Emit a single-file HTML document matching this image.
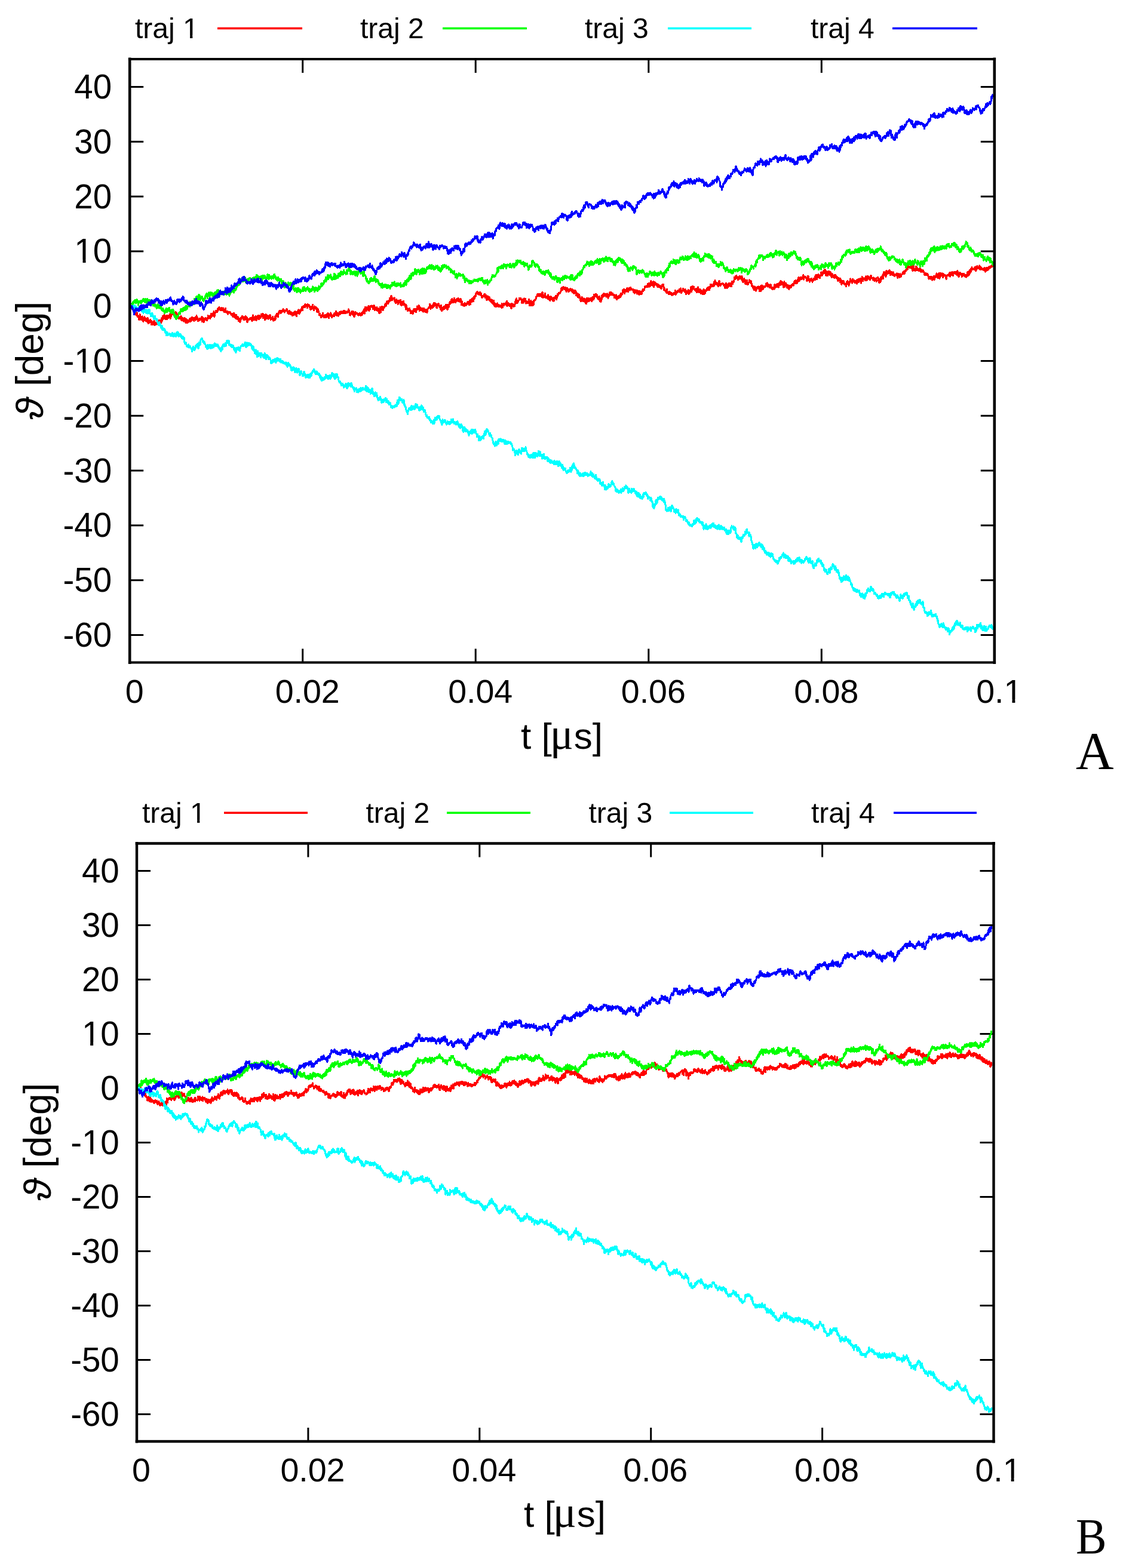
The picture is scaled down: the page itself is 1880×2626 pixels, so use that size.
<!DOCTYPE html>
<html><head><meta charset="utf-8"><title>Trajectories</title>
<style>html,body{margin:0;padding:0;background:#fff;}svg{display:block;}</style>
</head><body>
<svg width="1880" height="2626" viewBox="0 0 1880 2626">
<rect width="1880" height="2626" fill="#fff"/>
<g stroke="#000" fill="none">
<line x1="217.2" y1="145.5" x2="240.2" y2="145.5" stroke-width="3"/>
<line x1="1641.8" y1="145.5" x2="1664.8" y2="145.5" stroke-width="3"/>
<line x1="217.2" y1="237.3" x2="240.2" y2="237.3" stroke-width="3"/>
<line x1="1641.8" y1="237.3" x2="1664.8" y2="237.3" stroke-width="3"/>
<line x1="217.2" y1="329.1" x2="240.2" y2="329.1" stroke-width="3"/>
<line x1="1641.8" y1="329.1" x2="1664.8" y2="329.1" stroke-width="3"/>
<line x1="217.2" y1="420.9" x2="240.2" y2="420.9" stroke-width="3"/>
<line x1="1641.8" y1="420.9" x2="1664.8" y2="420.9" stroke-width="3"/>
<line x1="217.2" y1="604.5" x2="240.2" y2="604.5" stroke-width="3"/>
<line x1="1641.8" y1="604.5" x2="1664.8" y2="604.5" stroke-width="3"/>
<line x1="217.2" y1="696.3" x2="240.2" y2="696.3" stroke-width="3"/>
<line x1="1641.8" y1="696.3" x2="1664.8" y2="696.3" stroke-width="3"/>
<line x1="217.2" y1="788.1" x2="240.2" y2="788.1" stroke-width="3"/>
<line x1="1641.8" y1="788.1" x2="1664.8" y2="788.1" stroke-width="3"/>
<line x1="217.2" y1="879.9" x2="240.2" y2="879.9" stroke-width="3"/>
<line x1="1641.8" y1="879.9" x2="1664.8" y2="879.9" stroke-width="3"/>
<line x1="217.2" y1="971.7" x2="240.2" y2="971.7" stroke-width="3"/>
<line x1="1641.8" y1="971.7" x2="1664.8" y2="971.7" stroke-width="3"/>
<line x1="217.2" y1="1063.5" x2="240.2" y2="1063.5" stroke-width="3"/>
<line x1="1641.8" y1="1063.5" x2="1664.8" y2="1063.5" stroke-width="3"/>
<line x1="506.7" y1="99.0" x2="506.7" y2="122.0" stroke-width="3"/>
<line x1="506.7" y1="1109.5" x2="506.7" y2="1086.5" stroke-width="3"/>
<line x1="796.2" y1="99.0" x2="796.2" y2="122.0" stroke-width="3"/>
<line x1="796.2" y1="1109.5" x2="796.2" y2="1086.5" stroke-width="3"/>
<line x1="1085.8" y1="99.0" x2="1085.8" y2="122.0" stroke-width="3"/>
<line x1="1085.8" y1="1109.5" x2="1085.8" y2="1086.5" stroke-width="3"/>
<line x1="1375.3" y1="99.0" x2="1375.3" y2="122.0" stroke-width="3"/>
<line x1="1375.3" y1="1109.5" x2="1375.3" y2="1086.5" stroke-width="3"/>
</g>
<g fill="none" stroke-linejoin="round" stroke-linecap="butt" shape-rendering="crispEdges" transform="scale(0.1)">
<path d="M2200,5129 l5,34 5,-44 5,64 5,-43 5,37 5,-34 5,23 5,49 5,25 5,-68 5,5 5,38 5,32 5,10 5,4 5,17 5,-40 5,-8 5,10 5,58 5,8 5,-18 5,3 5,1 5,59 5,-24 5,23 5,-45 5,-38 5,28 5,21 5,-17 5,58 5,-26 5,-22 5,10 5,-21 5,44 5,13 5,28 5,-60 5,35 5,-32 5,-18 5,62 5,-35 5,21 5,13 5,8 5,-42 5,46 5,2 5,-4 5,-56 5,56 5,34 5,-31 5,23 5,-41 5,45 5,-9 5,-17 5,8 5,-33 5,24 5,-4 5,58 5,-60 5,24 5,-9 5,39 5,-22 5,26 5,-23 5,15 5,-54 5,42 5,33 5,-6 5,-27 5,6 5,-20 5,33 5,-10 5,-10 5,15 5,-8 5,2 5,-60 5,52 5,-10 5,4 5,9 5,-54 5,28 5,-8 5,-17 5,15 5,24 5,-7 5,-63 5,21 5,-37 5,43 5,-67 5,0 5,49 5,-15 5,-29 5,-30 5,43 5,-7 5,6 5,32 5,-42 5,15 5,-14 5,-16 5,61 5,-30 5,0 5,-15 5,-20 5,44 5,-25 5,-5 5,-1 5,13 5,-49 5,73 5,-1 5,-27 5,-25 5,-17 5,-12 5,-2 5,17 5,-46 5,43 5,-26 5,19 5,1 5,7 5,9 5,2 5,-33 5,-1 5,-15 5,2 5,32 5,-21 5,48 5,2 5,-23 5,7 5,30 5,-18 5,28 5,26 5,-19 5,10 5,-19 5,15 5,6 5,-9 5,-28 5,27 5,43 5,-34 5,29 5,-23 5,-11 5,42 5,0 5,12 5,-28 5,-1 5,-26 5,33 5,16 5,-25 5,60 5,-10 5,-55 5,15 5,51 5,-4 5,-1 5,-3 5,-36 5,-2 5,11 5,11 5,-16 5,-29 5,-4 5,14 5,37 5,-37 5,30 5,-29 5,-36 5,5 5,-7 5,3 5,6 5,31 5,-2 5,12 5,7 5,-48 5,20 5,-23 5,40 5,0 5,-26 5,10 5,-56 5,47 5,6 5,-23 5,13 5,49 5,-28 5,-1 5,0 5,15 5,-31 5,1 5,-3 5,14 5,-11 5,18 5,-9 5,15 5,-60 5,86 5,-33 5,24 5,-52 5,16 5,59 5,-30 5,-7 5,-27 5,20 5,-19 5,-11 5,20 5,-2 5,7 5,14 5,1 5,-46 5,11 5,-7 5,-37 5,45 5,0 5,-6 5,-6 5,-29 5,4 5,41 5,-49 5,0 5,-33 5,18 5,30 5,-9 5,-40 5,15 5,13 5,-14 5,-5 5,-45 5,51 5,37 5,-64 5,-11 5,11 5,-10 5,-29 5,12 5,-11 5,-2 5,27 5,-30 5,8 5,-41 5,-3 5,23 5,-30 5,34 5,-42 5,23 5,20 5,-14 5,-3 5,19 5,-15 5,-24 5,25 5,23 5,-2 5,-33 5,-9 5,20 5,16 5,29 5,-7 5,-29 5,40 5,-6 5,-58 5,39 5,32 5,7 5,-26 5,17 5,-18 5,22 5,26 5,-20 5,-18 5,8 5,-5 5,0 5,0 5,23 5,2 5,-12 5,17 5,9 5,13 5,-1 5,-20 5,-7 5,37 5,18 5,-3 5,-62 5,44 5,-36 5,59 5,-7 5,19 5,-16 5,3 5,35 5,-66 5,30 5,-9 5,53 5,-42 5,-3 5,3 5,15 5,55 5,1 5,-19 5,17 5,-19 5,38 5,-58 5,20 5,-38 5,4 5,2 5,-18 5,-13 5,17 5,-4 5,-3 5,35 5,20 5,-15 5,15 5,-16 5,-12 5,23 5,-60 5,37 5,-22 5,25 5,-20 5,53 5,31 5,-36 5,-20 5,-1 5,3 5,10 5,-10 5,8 5,-21 5,18 5,-25 5,15 5,-17 5,10 5,6 5,28 5,5 5,-7 5,-60 5,-24 5,69 5,-1 5,5 5,-11 5,-25 5,35 5,-9 5,5 5,-55 5,35 5,36 5,-20 5,10 5,-55 5,20 5,3 5,-36 5,-1 5,4 5,61 5,-35 5,-2 5,-24 5,7 5,33 5,-24 5,2 5,-45 5,32 5,-8 5,-31 5,36 5,-35 5,73 5,0 5,-59 5,10 5,3 5,42 5,30 5,-29 5,0 5,-64 5,15 5,14 5,45 5,-9 5,-9 5,-31 5,10 5,30 5,14 5,-26 5,5 5,-2 5,5 5,-48 5,15 5,44 5,20 5,-9 5,-24 5,21 5,4 5,-19 5,-24 5,19 5,51 5,-11 5,2 5,-29 5,9 5,-19 5,31 5,-65 5,52 5,-33 5,-39 5,5 5,-24 5,13 5,7 5,-9 5,41 5,-35 5,-34 5,-10 5,-13 5,-1 5,-10 5,33 5,-20 5,33 5,-43 5,27 5,-4 5,3 5,-27 5,17 5,-21 5,-21 5,36 5,-17 5,-3 5,22 5,14 5,-6 5,-23 5,-1 5,-3 5,11 5,-14 5,-21 5,21 5,13 5,3 5,34 5,-27 5,-1 5,43 5,-9 5,-47 5,30 5,25 5,-32 5,14 5,-16 5,41 5,-21 5,5 5,-7 5,44 5,-43 5,24 5,-35 5,6 5,35 5,-3 5,-43 5,19 5,-28 5,48 5,-13 5,-26 5,61 5,10 5,-72 5,26 5,-33 5,11 5,-7 5,-34 5,22 5,-5 5,53 5,-57 5,41 5,-46 5,4 5,8 5,-32 5,13 5,-18 5,-30 5,31 5,26 5,-35 5,-23 5,-17 5,4 5,-4 5,-2 5,-11 5,34 5,-52 5,28 5,-5 5,-13 5,-2 5,5 5,33 5,18 5,-63 5,20 5,5 5,6 5,-9 5,-7 5,21 5,15 5,12 5,-25 5,52 5,-27 5,-27 5,37 5,8 5,-47 5,23 5,-50 5,54 5,9 5,-4 5,40 5,-24 5,-20 5,-27 5,27 5,-2 5,-2 5,27 5,-4 5,-26 5,10 5,72 5,-24 5,-37 5,39 5,-5 5,15 5,18 5,38 5,-24 5,0 5,17 5,16 5,-2 5,37 5,-31 5,17 5,-35 5,33 5,-23 5,-37 5,39 5,7 5,-3 5,30 5,-19 5,18 5,-39 5,37 5,-19 5,21 5,-39 5,31 5,-35 5,-8 5,14 5,-23 5,-15 5,67 5,-25 5,45 5,-43 5,-17 5,18 5,-24 5,11 5,-33 5,11 5,17 5,39 5,9 5,-16 5,-10 5,-9 5,12 5,8 5,-11 5,-30 5,6 5,27 5,-45 5,4 5,10 5,19 5,-65 5,5 5,16 5,54 5,-47 5,7 5,-5 5,35 5,10 5,-18 5,-4 5,-2 5,-45 5,47 5,-26 5,16 5,-37 5,-6 5,24 5,-9 5,2 5,-1 5,14 5,-29 5,4 5,22 5,-36 5,13 5,-5 5,29 5,-36 5,9 5,29 5,-16 5,8 5,-8 5,1 5,-18 5,27 5,-1 5,-17 5,-18 5,-25 5,15 5,18 5,21 5,45 5,2 5,2 5,-22 5,-15 5,14 5,-25 5,-21 5,25 5,28 5,-19 5,-35 5,35 5,43 5,14 5,-17 5,16 5,-20 5,-45 5,30 5,-40 5,29 5,-16 5,18 5,-6 5,6 5,-8 5,22 5,-10 5,-4 5,23 5,-27 5,-6 5,26 5,-25 5,9 5,17 5,9 5,-14 5,-2 5,-30 5,37 5,-28 5,-20 5,24 5,-20 5,-30 5,8 5,-24 5,-6 5,73 5,-46 5,-62 5,0 5,0 5,40 5,24 5,-28 5,-1 5,-5 5,-20 5,31 5,-34 5,-30 5,37 5,47 5,-30 5,13 5,-27 5,-35 5,11 5,-7 5,-4 5,-4 5,-2 5,22 5,4 5,-17 5,48 5,-5 5,-32 5,-28 5,19 5,50 5,13 5,-49 5,8 5,21 5,-6 5,6 5,19 5,-46 5,54 5,-15 5,-22 5,11 5,32 5,3 5,13 5,27 5,-32 5,-61 5,-16 5,97 5,-23 5,-67 5,24 5,-15 5,-25 5,17 5,-13 5,64 5,-51 5,10 5,-16 5,-5 5,16 5,-25 5,4 5,-45 5,-7 5,44 5,-12 5,-13 5,-45 5,-7 5,6 5,35 5,-38 5,33 5,-31 5,-22 5,16 5,-22 5,-32 5,20 5,25 5,2 5,-24 5,-63 5,5 5,42 5,26 5,-16 5,-8 5,-4 5,10 5,-15 5,4 5,13 5,-21 5,62 5,2 5,-33 5,58 5,-9 5,3 5,-55 5,30 5,-11 5,-2 5,29 5,31 5,-10 5,-35 5,-17 5,37 5,-21 5,11 5,-39 5,3 5,87 5,-4 5,8 5,-61 5,6 5,-8 5,7 5,49 5,-30 5,-33 5,60 5,-5 5,-20 5,12 5,13 5,17 5,26 5,36 5,-75 5,50 5,22 5,-17 5,1 5,45 5,-16 5,-16 5,19 5,-20 5,17 5,-27 5,22 5,20 5,-11 5,49 5,-38 5,10 5,-2 5,3 5,-5 5,4 5,40 5,-53 5,4 5,-26 5,-8 5,14 5,31 5,-41 5,15 5,5 5,-27 5,52 5,-46 5,-3 5,-9 5,-38 5,59 5,-33 5,27 5,-12 5,-2 5,-50 5,68 5,18 5,-58 5,7 5,26 5,17 5,-14 5,15 5,-28 5,6 5,2 5,-12 5,52 5,6 5,-47 5,-10 5,32 5,4 5,-17 5,35 5,-9 5,15 5,-37 5,16 5,-7 5,10 5,26 5,-45 5,-18 5,0 5,-9 5,3 5,-24 5,8 5,-8 5,-44 5,36 5,11 5,29 5,-36 5,-17 5,36 5,-30 5,-7 5,34 5,-10 5,-7 5,3 5,-60 5,9 5,39 5,-20 5,-4 5,-25 5,9 5,30 5,-17 5,-8 5,64 5,4 5,-43 5,1 5,1 5,0 5,-37 5,9 5,27 5,17 5,13 5,-16 5,19 5,-13 5,52 5,-76 5,21 5,75 5,-16 5,-28 5,8 5,-20 5,35 5,-47 5,-5 5,21 5,17 5,-6 5,-36 5,11 5,-31 5,-10 5,21 5,36 5,-59 5,51 5,34 5,-28 5,-55 5,40 5,9 5,-9 5,-54 5,15 5,-38 5,-12 5,33 5,-10 5,0 5,-50 5,37 5,6 5,-64 5,53 5,-11 5,16 5,4 5,-32 5,5 5,-45 5,13 5,15 5,-3 5,45 5,-3 5,-36 5,19 5,-25 5,-12 5,3 5,24 5,3 5,-43 5,49 5,-35 5,27 5,-21 5,17 5,21 5,2 5,-54 5,42 5,14 5,50 5,-68 5,47 5,-2 5,10 5,22 5,-13 5,17 5,-18 5,25 5,-46 5,-5 5,18 5,7 5,0 5,16 5,-34 5,11 5,0 5,1 5,-20 5,-21 5,0 5,24 5,0 5,-2 5,29 5,-44 5,-33 5,13 5,58 5,-54 5,-27 5,34 5,-19 5,25 5,-30 5,-34 5,23 5,-15 5,48 5,-72 5,34 5,-48 5,32 5,-40 5,12 5,2 5,-15 5,-39 5,-13 5,15 5,-10 5,-21 5,3 5,32 5,2 5,-6 5,-6 5,22 5,-19 5,-22 5,1 5,40 5,-21 5,7 5,-5 5,40 5,5 5,23 5,-13 5,-15 5,11 5,-9 5,8 5,-22 5,-10 5,7 5,-19 5,46 5,21 5,-8 5,-37 5,50 5,5 5,26 5,-51 5,15 5,-29 5,24 5,31 5,-14 5,21 5,-43 5,0 5,22 5,13 5,35 5,-32 5,36 5,10 5,6 5,-40 5,8 5,-6 5,60 5,-40 5,39 5,-54 5,76 5,10 5,-52 5,22 5,43 5,-30 5,-7 5,37 5,-33 5,0 5,-11 5,-10 5,25 5,7 5,24 5,-13 5,2 5,-18 5,25 5,-14 5,-7 5,23 5,5 5,-22 5,9 5,23 5,6 5,-68 5,14 5,48 5,-53 5,27 5,-44 5,7 5,26 5,-13 5,-16 5,-2 5,2 5,17 5,-8 5,-24 5,-12 5,-15 5,86 5,-42 5,4 5,27 5,-22 5,-17 5,36 5,-11 5,-3 5,25 5,-7 5,-17 5,15 5,11 5,42 5,-86 5,44 5,0 5,-1 5,-15 5,-13 5,0 5,12 5,25 5,-5 5,0 5,-33 5,-46 5,-2 5,-27 5,33 5,-54 5,31 5,44 5,-17 5,-20 5,25 5,-16 5,-13 5,-6 5,-6 5,-27 5,5 5,10 5,9 5,-9 5,-12 5,24 5,9 5,24 5,18 5,-48 5,-10 5,1 5,14 5,42 5,-54 5,-20 5,12 5,26 5,6 5,-41 5,42 5,38 5,-15 5,-22 5,-4 5,12 5,12 5,12 5,-23 5,15 5,4 5,-56 5,32 5,69 5,-7 5,-22 5,29 5,-34 5,-47 5,54 5,7 5,21 5,-66 5,63 5,-25 5,-22 5,41 5,-73 5,0 5,-7 5,9 5,-16 5,-9 5,9 5,-18 5,-3 5,-37 5,4 5,-12 5,-3 5,-26 5,23 5,-24 5,24 5,-6 5,18 5,-33 5,19 5,10 5,-33 5,10 5,14 5,-26 5,40 5,14 5,-50 5,-31 5,25 5,68 5,-42 5,-7 5,11 5,-5 5,29 5,-41 5,-22 5,72 5,5 5,-8 5,0 5,-14 5,-3 5,32 5,-23 5,37 5,-71 5,60 5,-19 5,39 5,-50 5,4 5,52 5,6 5,-41 5,-27 5,47 5,10 5,-34 5,30 5,8 5,-28 5,44 5,-7 5,10 5,-60 5,53 5,-44 5,-12 5,20 5,-32 5,22 5,-35 5,58 5,3 5,-19 5,-37 5,6 5,-40 5,3 5,7 5,-20 5,-11 5,11 5,-15 5,15 5,-5 5,-18 5,-5 5,-12 5,-34 5,-16 5,-6 5,20 5,12 5,0 5,-40 5,-9 5,32 5,5 5,-4 5,8 5,-10 5,-1 5,-21 5,16 5,6 5,49 5,-47 5,6 5,-17 5,6 5,19 5,28 5,11 5,-42 5,28 5,-3 5,0 5,-6 5,-8 5,-23 5,31 5,4 5,-27 5,23 5,15 5,-38 5,53 5,-40 5,9 5,27 5,-7 5,32 5,-29 5,12 5,-34 5,0 5,33 5,-21 5,71 5,-24 5,27 5,-35 5,22 5,-29 5,66 5,-18 5,-4 5,31 5,-50 5,46 5,-23 5,37 5,28 5,-16 5,40 5,-27 5,-10 5,-32 5,8 5,42 5,-1 5,23 5,-8 5,-35 5,-7 5,44 5,1 5,11 5,-47 5,64 5,-17 5,12 5,19 5,-17 5,-75 5,10 5,47 5,-4 5,-11 5,-47 5,32 5,20 5,-26 5,1 5,14 5,-6 5,-33 5,3 5,27 5,-30 5,56 5,-9 5,-52 5,-13 5,15 5,-3 5,22 5,6 5,-79 5,44 5,-38 5,0 5,24 5,-38 5,-2 5,37 5,2 5,-20 5,-6 5,50 5,-20 5,39 5,4 5,-27 5,-6 5,-3 5,-10 5,63 5,21 5,-37 5,9 5,34 5,-61 5,24 5,-69 5,28 5,-37 5,21 5,9 5,-49 5,6 5,-13 5,38 5,6 5,-21 5,0 5,-14 5,7 5,31 5,10 5,-25 5,3 5,-30 5,31 5,-20 5,62 5,-55 5,5 5,11 5,5 5,-60 5,3 5,36 5,-13 5,-31 5,31 5,-5 5,-13 5,37 5,-25 5,-3 5,6 5,21 5,-8 5,-2 5,-2 5,57 5,1 5,-2 5,-11 5,-14 5,-17 5,-4 5,67 5,11 5,-47 5,6 5,-11 5,31 5,-33 5,23 5,-32 5,29 5,-19 5,-1 5,2 5,-35 5,43 5,-63 5,34 5,-6 5,-3 5,-27 5,2 5,-43 5,-10 5,-10 5,9 5,24 5,-39 5,77 5,-20 5,-29 5,17 5,-33 5,4 5,22 5,-40 5,-3 5,-9 5,18 5,16 5,25 5,-50 5,-4 5,-8 5,10 5,12 5,16 5,-26 5,-22 5,9 5,14 5,7 5,4 5,3 5,-3 5,-6 5,19 5,-15 5,37 5,15 5,-43 5,35 5,21 5,-14 5,-31 5,-5 5,-5 5,8 5,16 5,24 5,15 5,-53 5,1 5,35 5,-29 5,45 5,-20 5,37 5,-41 5,-24 5,14 5,23 5,-2 5,20 5,-37 5,10 5,25 5,-46 5,-14 5,-15 5,26 5,-29 5,15 5,-7 5,4 5,-27 5,-28 5,-9 5,20 5,-9 5,-2 5,-8 5,4 5,-10 5,16 5,4 5,-53 5,37 5,9 5,-42 5,-16 5,34 5,24 5,-3 5,-30 5,0 5,-42 5,-21 5,29 5,40 5,-52 5,30 5,9 5,24 5,-45 5,-30 5,94 5,-18 5,-42 5,5 5,-20 5,5 5,31 5,-26 5,27 5,-3 5,12 5,-17 5,2 5,50 5,-46 5,-3 5,44 5,-27 5,14 5,9 5,9 5,-31 5,31 5,-12 5,27 5,11 5,-27 5,-29 5,-11 5,9 5,11 5,-22 5,-4 5,33 5,63 5,-26 5,-3 5,24 5,6 5,19 5,-19 5,22 5,10 5,8 5,-60 5,48 5,16 5,-14 5,3 5,-2 5,38 5,-26 5,-23 5,43 5,-6 5,-21 5,30 5,1 5,-19 5,-3 5,15 5,29 5,-29 5,0 5,19 5,-23 5,5 5,8 5,-28 5,23 5,4 5,-26 5,-40 5,69 5,-11 5,-3 5,-21 5,-15 5,16 5,-9 5,-4 5,-21 5,14 5,-2 5,-13 5,-14 5,43 5,-6 5,-5 5,-36 5,-16 5,39 5,41 5,-10 5,-15 5,-22 5,5 5,-2 5,-30 5,26 5,12 5,-9 5,-11 5,31 5,-8 5,-36 5,60 5,-6 5,32 5,-34 5,-18 5,8 5,27 5,-30 5,11 5,-33 5,41 5,32 5,-46 5,-21 5,46 5,-29 5,-1 5,-17 5,-29 5,-28 5,82 5,-13 5,-34 5,-42 5,38 5,-14 5,-25 5,38 5,-33 5,40 5,-3 5,21 5,-6 5,-5 5,21 5,-4 5,-32 5,34 5,28 5,-45 5,1 5,-16 5,-27 5,45 5,27 5,17 5,-2 5,-5 5,-48 5,35 5,-18 5,-2 5,58 5,-48 5,3 5,19 5,8 5,31 5,-29 5,26 5,-47 5,-40 5,81 5,-14 5,17 5,-14 5,0 5,-37 5,-11 5,-1 5,12 5,-25 5,-12 5,-2 5,17 5,-38 5,39 5,4 5,-40 5,-6 5,49 5,-52 5,15 5,1 5,-60 5,19 5,-15 5,2 5,27 5,-19 5,7 5,-5 5,2 5,16 5,-46 5,5 5,-29 5,59 5,-72 5,-14 5,12 5,27 5,2 5,9 5,9 5,-27 5,40 5,-17 5,12 5,3 5,28 5,-14 5,-8 5,-72 5,22 5,24 5,31 5,5 5,-2 5,-28 5,4 5,-9 5,1 5,8 5,-18 5,6 5,14 5,-7 5,22 5,5 5,-5 5,-11 5,15 5,49 5,-56 5,-7 5,-23 5,56 5,10 5,21 5,-10 5,-61 5,22 5,18 5,2 5,-59 5,41 5,-41 5,33 5,-2 5,17 5,-47 5,18 5,6 5,30 5,-22 5,-62 5,17 5,27 5,-18 5,-26 5,18 5,-9 5,-29 5,-47 5,11 5,8 5,15 5,-53 5,41 5,-30 5,-21 5,42 5,-18 5,1 5,19 5,22 5,-32 5,29 5,-45 5,3 5,7 5,-19 5,4 5,35 5,-6 5,-13 5,35 5,-52 5,-4 5,72 5,2 5,12 5,16 5,-4 5,-43 5,18 5,-32 5,45 5,9 5,-25 5,63 5,1 5,-31 5,10 5,-41 5,-6 5,25 5,50 5,2 5,-22 5,-14 5,0 5,-1 5,-42 5,35 5,3 5,0 5,-21 5,43 5,-41 5,36 5,17 5,32 5,-10 5,8 5,26 5,-18 5,-1 5,47 5,13 5,-41 5,-17 5,50 5,-17 5,-19 5,59 5,-31 5,5 5,-31 5,17 5,-26 5,10 5,-12 5,-7 5,36 5,7 5,-17 5,51 5,-38 5,-37 5,60 5,-18 5,30 5,-90 5,22 5,-25 5,3 5,41 5,26 5,-35 5,14 5,-13 5,-17 5,16 5,-23 5,8 5,5 5,-3 5,-7 5,-2 5,-52 5,31 5,-17 5,-15 5,55 5,8 5,-25 5,14 5,8 5,-32 5,24 5,25 5,-14 5,-7 5,8 5,-36 5,61 5,-12 5,17 5,8 5,-26 5,-4 5,34 5,-12 5,-15 5,8 5,10 5,4 5,-74 5,25 5,4 5,15 5,-30 5,9 5,13 5,-6 5,-40 5,44 5,0 5,7 5,-27 5,31 5,-66 5,7 5,-20 5,42 5,-31 5,-2 5,-38 5,41 5,16 5,5 5,-4 5,-28 5,9 5,-16 5,45 5,42 5,-58 5,-21 5,-16 5,44 5,43 5,-33 5,-5 5,-24 5,37 5,-21 5,14 5,46 5,-21 5,2 5,-28 5,11 5,51 5,-34 5,43 5,-33 5,-26 5,6 5,2 5,25 5,-34 5,26 5,-13 5,-5 5,-26 5,0 5,0 5,-9 5,20 5,6 5,-25 5,-35 5,13 5,-31 5,43 5,-25 5,-25 5,30 5,0 5,18 5,1 5,-41 5,-14 5,31 5,-49 5,30 5,-60 5,46 5,14 5,-8 5,-22 5,-20 5,1 5,-10 5,-1 5,32 5,-11 5,-9 5,9 5,-25 5,12 5,20 5,-65 5,75 5,-29 5,-2 5,-4 5,-4 5,3 5,-14 5,8 5,20 5,6 5,-2 5,42 5,-12 5,-39 5,-31 5,-1 5,73 5,-32 5,12 5,9 5,39 5,-33 5,9 5,-5 5,-25 5,30 5,-16 5,-14 5,40 5,12 5,-16 5,-6 5,-16 5,11 5,-31 5,6 5,14 5,-2 5,5 5,-69 5,13 5,-16 5,-13 5,39 5,38 5,-25 5,-15 5,2 5,9 5,-56 5,48 5,-6 5,-4 5,29 5,-4 5,-47 5,10 5,-15 5,-41 5,13 5,-17 5,54 5,-7 5,-22 5,-10 5,11 5,-29 5,-26 5,43 5,3 5,-8 5,-57 5,57 5,-9 5,22 5,34 5,-35 5,-35 5,27 5,24 5,19 5,-15 5,-31 5,0 5,-24 5,32 5,-7 5,38 5,-41 5,-17 5,33 5,6 5,16 5,37 5,-58 5,13 5,-3 5,43 5,3 5,4 5,-8 5,-11 5,-15 5,10 5,34 5,-14 5,-39 5,28 5,1 5,-2 5,34 5,-32 5,31 5,12 5,-8 5,43 5,-39 5,-11 5,10 5,29 5,7 5,-7 5,26 5,-55 5,22 5,25 5,42 5,4 5,-29 5,-28 5,9 5,24 5,0 5,-35 5,28 5,30 5,0 5,-17 5,6 5,9 5,13 5,-8 5,35 5,-44 5,-11 5,-31 5,17 5,-21 5,51 5,1 5,-2 5,24 5,-14 5,-46 5,14 5,-35 5,-31 5,45 5,-14 5,9 5,4 5,1 5,25 5,-63 5,-4 5,23 5,-9 5,21 5,10 5,-25 5,14 5,27 5,-11 5,-9 5,9 5,8 5,-31 5,4 5,49 5,-17 5,-51 5,19 5,-22 5,-3 5,51 5,-36 5,-9 5,-5 5,6 5,-25 5,26 5,29 5,26 5,-68 5,2 5,-19 5,-21 5,62 5,11 5,-56 5,6 5,14 5,-12 5,14 5,-7 5,2 5,26 5,-51 5,-16 5,63 5,-20 5,-9 5,27 5,-70 5,2 5,29 5,-21 5,37 5,-15 5,28 5,-16 5,-15 5,37 5,-1 5,-29 5,-45 5,23 5,25 5,-9 5,3 5,9 5,-1 5,24 5,-24 5,-12 5,19 5,-6 5,45 5,-40 5,-7 5,5 5,14 5,3 5,29 5,3 5,-19 5,-20 5,-31 5,17 5,-15 5,53 5,-5 5,-4 5,45 5,-59 5,27 5,-18 5,42 5,-84 5,5 5,27 5,-15 5,11 5,-49 5,18 5,-42 5,66 5,-49 5,-23 5,-42 5,18 5,10 5,9 5,4 5,30 5,13 5,-70 5,-29 5,25 5,20 5,-2 5,7 5,-39 5,4 5,-5 5,28 5,-14 5,-37 5,47 5,-22 5,61 5,-23 5,16 5,-14 5,-32 5,6 5,0 5,40 5,2 5,-28 5,-15 5,36 5,18 5,-24 5,23 5,8 5,-30 5,14 5,0 5,2 5,4 5,2 5,-35 5,19 5,30 5,27 5,-45 5,-23 5,33 5,-1 5,-9 5,40 5,-54 5,-6 5,46 5,-31 5,25 5,-23 5,-6 5,1 5,-23 5,4 5,-23 5,27 5,-17 5,-9 5,-15 5,40 5,-15 5,-10 5,-28 5,10 5,-1 5,-28 5,0 5,-41 5,17 5,26 5,-6 5,-28 5,-34 5,12 5,2 5,3 5,8 5,11 5,-25 5,16 5,4 5,-41 5,-3 5,67 5,-21 5,-30 5,55 5,35 5,-36 5,1 5,-58 5,77 5,0 5,0 5,-16 5,28 5,-28 5,-9 5,-37 5,-2 5,54 5,-3 5,15 5,-19 5,-11 5,17 5,2 5,18 5,-30 5,38 5,-10 5,-33 5,12 5,23 5,-23 5,51 5,-37 5,17 5,-15 5,10 5,1 5,-11 5,27 5,-13 5,8 5,19 5,5 5,35 5,-2 5,5 5,-32 5,-4 5,27 5,-5 5,8 5,2 5,-24 5,32 5,-13 5,20 5,31 5,19 5,-29 5,9 5,10 5,-26 5,36 5,-14 5,-11 5,-11 5,2 5,-7 5,63 5,-39 5,-4 5,3 5,12 5,-5 5,-39 5,68 5,-32 5,3 5,-30 5,15 5,-18 5,6 5,-34 5,-20 5,51 5,-15 5,24 5,16 5,-43 5,22 5,-46 5,-17 5,51 5,42 5,-33 5,-29 5,-29 5,52 5,-40 5,20 5,1 5,-7 5,-19 5,14 5,50 5,-22 5,-34 5,40 5,-31 5,10 5,13 5,0 5,-11 5,3 5,21 5,39 5,0 5,-43 5,-19 5,7 5,-1 5,-3 5,-14 5,14 5,-5 5,-2 5,-36 5,47 5,13 5,-64 5,26 5,-22 5,27 5,13 5,-22 5,-38 5,21 5,4 5,45 5,-39 5,-11 5,8 5,-23 5,14 5,-3 5,23 5,-25 5,-12 5,31 5,-3 5,18 5,9 5,-35 5,-36 5,37 5,12 5,33 5,20 5,-4 5,-62 5,-2 5,27 5,-28 5,25 5,-15 5,23 5,8 5,-6 5,30 5,-53 5,3 5,-1 5,4 5,26 5,-28 5,19 5,2 5,4 5,9 5,15 5,-30 5,23 5,15 5,-3 5,-21 5,-3 5,-29 5,-32 5,35 5,28 5,-28 5,-12 5,-32 5,49 5,-68 5,7 5,17 5,7 5,-52 5,15 5,-2 5,-40 5,29 5,4 5,-9 5,9 5,-6 5,0 5,4 5,5 5,-29 5,-7 5,5 5,-8 5,60 5,-69 5,51 5,-23 5,-5 5,-32 5,20 5,20 5,1 5,-5 5,-17 5,-16 5,-10 5,38 5,-28 5,56 5,-3 5,-38 5,13 5,5 5,2 5,22 5,-19 5,18 5,-11 5,-4 5,12 5,12 5,-35 5,-10 5,14 5,3 5,54 5,-50 5,42 5,-41 5,-19 5,31 5,-12 5,27 5,-32 5,-15 5,17 5,12 5,-36 5,6 5,-15 5,11 5,-7 5,18 5,-24 5,9 5,-21 5,-3 5,-12 5,27 5,-10 5,-11 5,11" stroke="#ff0000" stroke-width="30.0"/>
<path d="M2200,5103 l5,-9 5,-11 5,19 5,14 5,-57 5,-2 5,7 5,12 5,-38 5,-7 5,19 5,-25 5,4 5,21 5,25 5,-15 5,-11 5,-40 5,49 5,8 5,-23 5,31 5,39 5,-43 5,1 5,-11 5,-19 5,26 5,-8 5,12 5,-22 5,-11 5,40 5,-35 5,7 5,-7 5,7 5,-29 5,-1 5,-12 5,-1 5,33 5,9 5,4 5,5 5,11 5,-53 5,-14 5,52 5,-17 5,33 5,-16 5,-33 5,-12 5,52 5,-29 5,30 5,33 5,-52 5,10 5,-31 5,47 5,21 5,-25 5,8 5,12 5,14 5,-49 5,-3 5,28 5,6 5,0 5,42 5,-20 5,-38 5,40 5,8 5,18 5,-39 5,11 5,17 5,3 5,6 5,33 5,-28 5,-7 5,-28 5,8 5,53 5,-56 5,44 5,-20 5,24 5,-41 5,34 5,17 5,-5 5,-3 5,-17 5,17 5,27 5,17 5,3 5,1 5,-31 5,-2 5,17 5,27 5,-9 5,8 5,38 5,-44 5,-1 5,4 5,19 5,-61 5,33 5,-13 5,-21 5,58 5,-37 5,20 5,-38 5,-7 5,34 5,13 5,-53 5,25 5,20 5,29 5,-37 5,41 5,6 5,8 5,-10 5,-26 5,-26 5,29 5,16 5,-45 5,50 5,23 5,-17 5,55 5,-9 5,29 5,-45 5,34 5,0 5,41 5,-56 5,19 5,16 5,-37 5,18 5,-20 5,-1 5,-18 5,-27 5,-1 5,-13 5,12 5,17 5,-31 5,-27 5,-28 5,5 5,41 5,-4 5,4 5,-4 5,8 5,-61 5,17 5,0 5,1 5,-6 5,-26 5,50 5,-13 5,9 5,-55 5,-18 5,67 5,-31 5,8 5,9 5,-38 5,1 5,6 5,-37 5,18 5,-46 5,-3 5,42 5,22 5,-79 5,31 5,-3 5,-14 5,26 5,-17 5,-2 5,-13 5,26 5,-16 5,-10 5,13 5,17 5,-47 5,-44 5,8 5,21 5,29 5,-33 5,12 5,-16 5,-62 5,2 5,13 5,-5 5,4 5,49 5,-32 5,-44 5,-16 5,5 5,4 5,59 5,31 5,-29 5,-28 5,18 5,-13 5,-10 5,-7 5,35 5,-4 5,31 5,-11 5,22 5,6 5,-32 5,-18 5,19 5,-17 5,3 5,-50 5,14 5,9 5,-30 5,-31 5,51 5,-19 5,52 5,-29 5,-2 5,-29 5,-34 5,23 5,34 5,10 5,-50 5,-21 5,17 5,21 5,4 5,-30 5,-9 5,54 5,-11 5,-23 5,4 5,-6 5,47 5,-32 5,10 5,-13 5,-17 5,-21 5,1 5,58 5,-15 5,-35 5,-12 5,-19 5,63 5,-6 5,-17 5,-59 5,44 5,5 5,11 5,-10 5,1 5,11 5,-11 5,-12 5,12 5,-1 5,-5 5,-7 5,43 5,-20 5,14 5,-17 5,-25 5,33 5,-9 5,1 5,-12 5,10 5,-1 5,-47 5,72 5,-20 5,4 5,25 5,-20 5,-13 5,-2 5,3 5,11 5,-20 5,26 5,-23 5,-13 5,64 5,-42 5,-24 5,34 5,-30 5,12 5,-16 5,6 5,-3 5,-8 5,-14 5,5 5,-8 5,-4 5,38 5,2 5,-39 5,-22 5,-5 5,29 5,-16 5,17 5,-7 5,-57 5,14 5,-18 5,-20 5,11 5,1 5,-29 5,-32 5,19 5,30 5,-19 5,-8 5,12 5,-21 5,0 5,-39 5,-24 5,13 5,-8 5,24 5,-2 5,14 5,-3 5,-7 5,-30 5,11 5,6 5,15 5,-38 5,-30 5,51 5,-15 5,21 5,36 5,-18 5,-20 5,-3 5,-11 5,-8 5,20 5,-26 5,52 5,-3 5,-52 5,6 5,-14 5,-3 5,14 5,-1 5,9 5,5 5,25 5,-18 5,-7 5,-14 5,-13 5,11 5,8 5,31 5,-16 5,-46 5,-1 5,12 5,-12 5,20 5,-31 5,9 5,27 5,-66 5,38 5,30 5,12 5,-41 5,-21 5,45 5,-14 5,-17 5,23 5,-15 5,22 5,-32 5,31 5,-11 5,-25 5,28 5,-20 5,54 5,-11 5,-63 5,20 5,-6 5,43 5,-48 5,13 5,-22 5,21 5,-11 5,25 5,18 5,14 5,-39 5,13 5,9 5,-21 5,-36 5,-11 5,68 5,-27 5,-33 5,76 5,-24 5,-48 5,43 5,-14 5,-4 5,5 5,25 5,1 5,6 5,-46 5,34 5,-24 5,-4 5,-5 5,11 5,26 5,-37 5,-34 5,5 5,18 5,22 5,-13 5,48 5,2 5,-13 5,-2 5,16 5,23 5,6 5,-18 5,-40 5,37 5,-20 5,17 5,2 5,24 5,-27 5,-6 5,19 5,13 5,-28 5,25 5,50 5,7 5,-38 5,-20 5,35 5,-31 5,17 5,5 5,44 5,-6 5,51 5,-64 5,19 5,-41 5,32 5,42 5,-20 5,-20 5,26 5,-5 5,-2 5,-5 5,-47 5,6 5,16 5,10 5,13 5,3 5,-8 5,-38 5,6 5,-3 5,17 5,51 5,16 5,-15 5,-7 5,18 5,12 5,-14 5,-45 5,91 5,-20 5,21 5,14 5,-26 5,7 5,-33 5,17 5,-7 5,28 5,38 5,-16 5,-11 5,-46 5,4 5,-8 5,24 5,35 5,-17 5,23 5,-47 5,18 5,46 5,-27 5,9 5,-17 5,4 5,-2 5,-10 5,13 5,-56 5,61 5,-20 5,-35 5,-21 5,64 5,-30 5,26 5,6 5,-35 5,40 5,-22 5,-11 5,-15 5,21 5,-6 5,-32 5,41 5,-26 5,20 5,36 5,-44 5,29 5,28 5,-10 5,-40 5,30 5,-12 5,-12 5,20 5,3 5,-24 5,-21 5,-28 5,3 5,21 5,2 5,30 5,6 5,27 5,-32 5,-28 5,36 5,-49 5,7 5,31 5,-18 5,19 5,-27 5,48 5,-31 5,21 5,-12 5,-29 5,-34 5,56 5,-16 5,-2 5,-18 5,5 5,-5 5,-43 5,-24 5,49 5,-3 5,0 5,-45 5,-1 5,28 5,-22 5,1 5,-46 5,24 5,-10 5,-20 5,-11 5,-3 5,-40 5,69 5,-40 5,3 5,-21 5,-23 5,2 5,-30 5,73 5,-4 5,-42 5,26 5,-10 5,-5 5,-23 5,-10 5,-11 5,21 5,54 5,-19 5,12 5,25 5,-19 5,-4 5,-18 5,27 5,-39 5,-18 5,-34 5,48 5,41 5,-84 5,11 5,39 5,15 5,7 5,-23 5,6 5,14 5,-49 5,20 5,26 5,-74 5,6 5,20 5,-38 5,46 5,7 5,5 5,-23 5,-18 5,-42 5,41 5,11 5,3 5,1 5,-22 5,13 5,-44 5,45 5,-68 5,18 5,31 5,-8 5,5 5,-9 5,10 5,20 5,-25 5,0 5,-42 5,17 5,47 5,-62 5,3 5,-17 5,-20 5,40 5,-18 5,3 5,-10 5,9 5,32 5,48 5,-13 5,-48 5,46 5,1 5,-19 5,-7 5,40 5,-4 5,-6 5,-21 5,6 5,-29 5,20 5,9 5,-17 5,61 5,-42 5,-29 5,22 5,6 5,0 5,50 5,-43 5,-30 5,39 5,-41 5,10 5,0 5,-22 5,9 5,-11 5,-6 5,35 5,23 5,-8 5,-5 5,-4 5,0 5,-7 5,-1 5,-8 5,74 5,-4 5,-57 5,-19 5,41 5,17 5,11 5,6 5,-4 5,55 5,-22 5,13 5,48 5,-38 5,35 5,-4 5,15 5,-11 5,41 5,-6 5,-22 5,5 5,2 5,-61 5,29 5,-3 5,-20 5,-19 5,52 5,-20 5,23 5,-11 5,-10 5,-21 5,34 5,-8 5,-43 5,5 5,-32 5,22 5,58 5,-1 5,19 5,-49 5,7 5,25 5,-13 5,25 5,-31 5,15 5,20 5,-7 5,47 5,-6 5,-11 5,33 5,-25 5,22 5,3 5,15 5,-35 5,57 5,-25 5,0 5,-41 5,75 5,-12 5,-17 5,-17 5,32 5,-6 5,-34 5,27 5,13 5,-27 5,-17 5,4 5,13 5,-1 5,47 5,-52 5,48 5,6 5,-11 5,-49 5,31 5,12 5,-18 5,-15 5,20 5,32 5,-36 5,-17 5,14 5,3 5,-24 5,-14 5,-25 5,51 5,-13 5,-1 5,-10 5,-30 5,18 5,-27 5,-1 5,67 5,-22 5,15 5,-22 5,36 5,-44 5,42 5,-48 5,14 5,-13 5,45 5,-12 5,-34 5,19 5,12 5,0 5,-11 5,16 5,-17 5,-24 5,69 5,-8 5,-10 5,-10 5,-8 5,7 5,11 5,7 5,-21 5,-21 5,-7 5,44 5,-59 5,37 5,-17 5,-48 5,9 5,38 5,23 5,-31 5,-41 5,-18 5,25 5,5 5,-18 5,-27 5,-17 5,49 5,-29 5,-53 5,24 5,-25 5,41 5,19 5,-8 5,-87 5,45 5,-12 5,-5 5,-7 5,-42 5,54 5,-16 5,-8 5,3 5,-13 5,-28 5,-37 5,-18 5,44 5,-9 5,16 5,44 5,-36 5,-5 5,-32 5,17 5,16 5,-1 5,-39 5,6 5,27 5,22 5,25 5,-8 5,-18 5,-14 5,-42 5,22 5,-5 5,19 5,41 5,-101 5,35 5,-34 5,58 5,21 5,13 5,-60 5,-22 5,11 5,28 5,-16 5,51 5,-12 5,-34 5,-25 5,7 5,-39 5,28 5,4 5,-15 5,-21 5,-8 5,33 5,-16 5,13 5,-49 5,8 5,51 5,-22 5,-27 5,60 5,-12 5,-61 5,42 5,-3 5,17 5,11 5,-50 5,9 5,51 5,-38 5,13 5,-11 5,23 5,2 5,-33 5,-21 5,12 5,-2 5,34 5,-11 5,-32 5,62 5,10 5,-38 5,-11 5,51 5,-32 5,-7 5,52 5,12 5,5 5,-8 5,-36 5,-25 5,-33 5,29 5,32 5,-19 5,-56 5,18 5,26 5,-22 5,-15 5,28 5,-36 5,19 5,4 5,-4 5,-6 5,-4 5,54 5,-40 5,23 5,-14 5,1 5,14 5,8 5,-26 5,51 5,-35 5,17 5,-7 5,13 5,23 5,35 5,-13 5,-18 5,-13 5,14 5,10 5,13 5,19 5,-11 5,26 5,-44 5,20 5,-27 5,38 5,18 5,7 5,48 5,-10 5,-41 5,-19 5,53 5,29 5,-15 5,-18 5,1 5,-21 5,-5 5,-26 5,35 5,-18 5,24 5,-38 5,41 5,-30 5,19 5,-10 5,12 5,-11 5,14 5,-11 5,17 5,-30 5,65 5,-17 5,-2 5,-14 5,60 5,-30 5,74 5,-63 5,20 5,-22 5,19 5,-18 5,39 5,-1 5,-1 5,13 5,-9 5,-13 5,-1 5,1 5,58 5,-37 5,3 5,19 5,-3 5,17 5,-45 5,35 5,5 5,-5 5,-16 5,-12 5,14 5,-27 5,11 5,-10 5,7 5,-27 5,6 5,17 5,-11 5,11 5,-8 5,-9 5,5 5,18 5,-11 5,-16 5,-3 5,38 5,-40 5,-2 5,17 5,-6 5,-21 5,10 5,-2 5,18 5,8 5,-19 5,-19 5,6 5,0 5,27 5,-37 5,57 5,-19 5,0 5,38 5,-24 5,43 5,-40 5,-7 5,-6 5,13 5,4 5,29 5,-33 5,-14 5,24 5,-20 5,-12 5,84 5,-31 5,-35 5,20 5,6 5,-1 5,-4 5,-21 5,-14 5,17 5,-18 5,-10 5,10 5,-42 5,-4 5,-21 5,-18 5,6 5,-2 5,20 5,-21 5,14 5,11 5,5 5,-8 5,-1 5,-13 5,-19 5,-7 5,-11 5,-2 5,-31 5,-38 5,-27 5,56 5,12 5,-66 5,3 5,-20 5,23 5,-12 5,-7 5,5 5,14 5,-33 5,39 5,-10 5,-9 5,-34 5,17 5,30 5,-25 5,34 5,-54 5,-22 5,22 5,20 5,-31 5,1 5,7 5,-11 5,33 5,35 5,-21 5,-7 5,-31 5,-11 5,6 5,4 5,-9 5,7 5,12 5,-6 5,33 5,-37 5,-28 5,26 5,11 5,28 5,-7 5,12 5,-34 5,-6 5,-11 5,-2 5,-18 5,12 5,42 5,15 5,-20 5,-41 5,44 5,-47 5,-10 5,-9 5,53 5,-85 5,21 5,39 5,-15 5,-50 5,42 5,-22 5,-20 5,2 5,-1 5,32 5,2 5,-2 5,-4 5,-24 5,35 5,18 5,-29 5,32 5,3 5,4 5,-21 5,-2 5,-23 5,8 5,30 5,42 5,2 5,-52 5,-4 5,34 5,-30 5,31 5,5 5,-11 5,3 5,-27 5,44 5,11 5,-1 5,56 5,-6 5,-16 5,-7 5,-47 5,31 5,-12 5,-24 5,21 5,-7 5,5 5,6 5,-94 5,20 5,-7 5,-25 5,29 5,-5 5,14 5,-4 5,41 5,-21 5,29 5,21 5,6 5,-35 5,12 5,-25 5,-1 5,16 5,0 5,-7 5,36 5,-16 5,30 5,-18 5,47 5,31 5,-34 5,16 5,23 5,-32 5,14 5,44 5,-14 5,12 5,-15 5,31 5,-5 5,-40 5,12 5,-6 5,41 5,-31 5,34 5,15 5,-33 5,-30 5,1 5,-6 5,28 5,-31 5,21 5,-17 5,30 5,-38 5,-2 5,-1 5,61 5,-37 5,13 5,13 5,39 5,-17 5,-28 5,70 5,-48 5,26 5,17 5,-3 5,37 5,-11 5,-15 5,4 5,-10 5,8 5,-11 5,51 5,-2 5,-29 5,-8 5,-5 5,-22 5,11 5,34 5,1 5,56 5,-16 5,-31 5,46 5,-69 5,15 5,28 5,-41 5,32 5,17 5,34 5,-39 5,-28 5,10 5,-22 5,-9 5,24 5,-18 5,43 5,-25 5,-45 5,46 5,-9 5,-18 5,-7 5,32 5,-47 5,-16 5,24 5,-10 5,2 5,30 5,5 5,-42 5,28 5,-7 5,-3 5,10 5,3 5,2 5,-13 5,-9 5,10 5,5 5,2 5,40 5,-28 5,-59 5,35 5,25 5,20 5,-75 5,40 5,20 5,-1 5,25 5,-1 5,12 5,-3 5,-9 5,-46 5,23 5,2 5,-40 5,-2 5,3 5,25 5,1 5,-30 5,-36 5,0 5,20 5,-3 5,-16 5,-20 5,43 5,3 5,-13 5,-56 5,18 5,16 5,19 5,-52 5,27 5,-14 5,-46 5,9 5,-12 5,-27 5,-13 5,-18 5,5 5,18 5,-22 5,-1 5,-21 5,-3 5,11 5,5 5,-16 5,-22 5,-28 5,26 5,25 5,-43 5,5 5,25 5,25 5,13 5,-5 5,-40 5,-30 5,45 5,-33 5,-17 5,58 5,-48 5,15 5,23 5,-36 5,50 5,-16 5,-7 5,11 5,-10 5,1 5,-23 5,-23 5,7 5,23 5,-34 5,33 5,-35 5,38 5,-4 5,-60 5,53 5,-6 5,-25 5,16 5,51 5,-22 5,-42 5,-32 5,68 5,20 5,-10 5,-25 5,-39 5,6 5,-19 5,16 5,10 5,-32 5,18 5,17 5,11 5,10 5,-11 5,-52 5,35 5,-18 5,30 5,-28 5,-38 5,5 5,4 5,55 5,-27 5,7 5,33 5,-25 5,-28 5,6 5,-19 5,3 5,1 5,11 5,23 5,28 5,-25 5,5 5,-12 5,-10 5,45 5,5 5,-15 5,23 5,3 5,-19 5,63 5,-53 5,44 5,-41 5,20 5,32 5,-28 5,-52 5,23 5,-36 5,16 5,32 5,-25 5,-39 5,54 5,-40 5,-18 5,-11 5,17 5,25 5,-2 5,-35 5,15 5,-3 5,43 5,-35 5,6 5,61 5,-54 5,-13 5,34 5,29 5,-41 5,0 5,35 5,-1 5,39 5,-35 5,17 5,-12 5,22 5,12 5,-6 5,35 5,-30 5,16 5,7 5,55 5,17 5,-56 5,62 5,-3 5,-11 5,-17 5,27 5,-38 5,-9 5,-14 5,18 5,-12 5,5 5,20 5,-7 5,24 5,-54 5,-19 5,20 5,-16 5,2 5,28 5,-19 5,15 5,-10 5,15 5,-3 5,35 5,26 5,50 5,-15 5,0 5,-23 5,-29 5,-1 5,-3 5,3 5,22 5,18 5,4 5,-40 5,5 5,22 5,-9 5,4 5,-20 5,40 5,-47 5,-9 5,43 5,-4 5,-23 5,15 5,18 5,7 5,19 5,-16 5,27 5,23 5,0 5,12 5,-23 5,-29 5,-13 5,30 5,-21 5,57 5,-43 5,-7 5,17 5,-13 5,-4 5,-12 5,-33 5,21 5,8 5,-11 5,11 5,37 5,7 5,-49 5,20 5,18 5,-45 5,18 5,-15 5,25 5,29 5,-19 5,-54 5,53 5,3 5,-26 5,32 5,2 5,-21 5,12 5,-23 5,45 5,-16 5,-24 5,-17 5,32 5,0 5,8 5,-32 5,20 5,-31 5,15 5,-34 5,12 5,8 5,17 5,-1 5,18 5,-7 5,18 5,42 5,-47 5,-42 5,11 5,50 5,-16 5,-38 5,-7 5,-29 5,-9 5,31 5,11 5,-41 5,-25 5,-7 5,21 5,-32 5,43 5,-55 5,-14 5,-8 5,-31 5,59 5,-49 5,-24 5,-14 5,6 5,6 5,-30 5,13 5,22 5,7 5,-15 5,11 5,-18 5,-43 5,41 5,-21 5,35 5,8 5,-59 5,26 5,-3 5,51 5,-55 5,43 5,-13 5,-45 5,21 5,2 5,4 5,-18 5,42 5,-8 5,-7 5,5 5,-53 5,-15 5,-19 5,36 5,-8 5,-18 5,26 5,-36 5,-9 5,-5 5,20 5,-9 5,12 5,38 5,-7 5,-1 5,-6 5,-13 5,-21 5,-18 5,55 5,-43 5,7 5,3 5,32 5,11 5,-22 5,-43 5,12 5,12 5,31 5,-10 5,-32 5,1 5,-13 5,15 5,-11 5,35 5,-36 5,-16 5,-2 5,-6 5,5 5,5 5,-24 5,47 5,-39 5,21 5,-58 5,54 5,-27 5,56 5,-66 5,23 5,-26 5,66 5,7 5,1 5,-36 5,12 5,-1 5,19 5,-44 5,25 5,-10 5,50 5,9 5,26 5,-12 5,-13 5,48 5,-19 5,-32 5,21 5,-10 5,13 5,-19 5,-8 5,-19 5,50 5,-52 5,-7 5,-21 5,10 5,-14 5,-34 5,49 5,-4 5,6 5,-13 5,-14 5,-12 5,41 5,-17 5,2 5,14 5,21 5,-64 5,16 5,-5 5,-5 5,13 5,54 5,2 5,-25 5,-2 5,-20 5,13 5,26 5,-27 5,86 5,-17 5,-15 5,45 5,-48 5,62 5,-1 5,-13 5,-6 5,10 5,-4 5,-12 5,31 5,41 5,1 5,-31 5,26 5,-27 5,26 5,20 5,9 5,-53 5,30 5,-33 5,2 5,8 5,2 5,-48 5,21 5,24 5,10 5,-19 5,-31 5,16 5,21 5,-7 5,24 5,11 5,36 5,-11 5,25 5,7 5,-25 5,6 5,50 5,-48 5,13 5,-19 5,-15 5,16 5,12 5,16 5,14 5,25 5,-6 5,-31 5,15 5,-3 5,18 5,4 5,12 5,-51 5,15 5,1 5,5 5,45 5,-12 5,-13 5,-1 5,16 5,-65 5,19 5,-14 5,9 5,-8 5,20 5,9 5,-32 5,5 5,3 5,9 5,-12 5,13 5,18 5,-22 5,-10 5,24 5,-47 5,-11 5,17 5,30 5,-14 5,4 5,-30 5,17 5,-17 5,18 5,60 5,-31 5,5 5,-47 5,13 5,-4 5,34 5,-4 5,-12 5,3 5,26 5,6 5,-42 5,32 5,-28 5,-11 5,14 5,-6 5,5 5,28 5,50 5,-45 5,30 5,-22 5,23 5,-23 5,-28 5,21 5,-36 5,-8 5,-11 5,-12 5,21 5,-62 5,32 5,-6 5,-7 5,9 5,1 5,-1 5,28 5,-37 5,-1 5,-10 5,-11 5,5 5,-21 5,40 5,-53 5,-37 5,9 5,-32 5,44 5,-55 5,0 5,-12 5,-12 5,10 5,5 5,-62 5,45 5,-25 5,-18 5,40 5,-39 5,1 5,13 5,0 5,-6 5,-4 5,22 5,11 5,48 5,-46 5,-14 5,-6 5,10 5,21 5,6 5,-10 5,-9 5,-15 5,-8 5,16 5,-29 5,0 5,35 5,-43 5,10 5,32 5,-24 5,-4 5,16 5,-7 5,6 5,-55 5,-3 5,29 5,-19 5,-10 5,22 5,29 5,-26 5,32 5,16 5,-62 5,7 5,2 5,45 5,-61 5,7 5,17 5,-21 5,-24 5,5 5,-37 5,29 5,27 5,27 5,-27 5,-7 5,2 5,-16 5,-11 5,7 5,30 5,32 5,-70 5,2 5,-7 5,59 5,-28 5,15 5,-17 5,5 5,-23 5,21 5,34 5,-40 5,25 5,-7 5,-24 5,28 5,7 5,44 5,10 5,-58 5,45 5,-26 5,19 5,-32 5,68 5,23 5,-59 5,31 5,-42 5,21 5,25 5,-51 5,-39 5,19 5,38 5,-31 5,31 5,-44 5,-23 5,-10 5,8 5,8 5,13 5,20 5,-20 5,-2 5,-23 5,-4 5,-19 5,34 5,6 5,-1 5,-26 5,26 5,25 5,-14 5,40 5,6 5,29 5,-33 5,16 5,35 5,-16 5,-15 5,36 5,-1 5,6 5,-35 5,16 5,-8 5,-9 5,42 5,7 5,53 5,22 5,-32 5,-4 5,0 5,-33 5,31 5,34 5,-16 5,-23 5,10 5,6 5,-51 5,32 5,-26 5,3 5,25 5,-57 5,30 5,-2 5,6 5,-26 5,-15 5,47 5,-42 5,46 5,-7 5,-8 5,34 5,16 5,10 5,-50 5,3 5,26 5,56 5,-69 5,25 5,49 5,17 5,-28 5,-1 5,35 5,16 5,-35 5,-12 5,35 5,-46 5,-12 5,35 5,-35 5,28 5,3 5,-8 5,-33 5,40 5,-28 5,29 5,12 5,37 5,-36 5,12 5,-3 5,-5 5,-12 5,-20 5,17 5,39 5,-25 5,-6 5,-55 5,27 5,11 5,-23 5,10 5,-13 5,44 5,-10 5,-27 5,-6 5,38 5,-47 5,-30 5,14 5,35 5,7 5,-16 5,-3 5,-6 5,21 5,-9 5,47 5,-27 5,-31 5,-32 5,7 5,47 5,-23 5,3 5,-3 5,-28 5,22 5,-8 5,28 5,58 5,-52 5,5 5,2 5,22 5,-12 5,10 5,-11 5,46 5,-24 5,-3 5,-32 5,-4 5,-8 5,-36 5,54 5,-26 5,-5 5,-12 5,-4 5,-2 5,-17 5,5 5,35 5,1 5,-43 5,25 5,-10 5,-22 5,-13 5,-29 5,46 5,-34 5,-21 5,-42 5,-9 5,6 5,22 5,-25 5,-20 5,11 5,-7 5,-8 5,6 5,18 5,-55 5,19 5,15 5,-67 5,43 5,-12 5,-31 5,15 5,-14 5,-17 5,28 5,1 5,19 5,-12 5,-40 5,36 5,29 5,12 5,-32 5,5 5,14 5,-26 5,20 5,-14 5,-2 5,-6 5,13 5,-12 5,23 5,-17 5,17 5,-33 5,0 5,-30 5,22 5,8 5,-14 5,33 5,1 5,-48 5,28 5,25 5,-7 5,-49 5,-14 5,15 5,49 5,-53 5,26 5,-39 5,-18 5,59 5,-6 5,13 5,-28 5,2 5,-36 5,33 5,14 5,-22 5,19 5,-44 5,24 5,-16 5,22 5,30 5,-5 5,-58 5,14 5,-30 5,72 5,-54 5,10 5,-17 5,58 5,-9 5,-14 5,-44 5,10 5,18 5,-3 5,17 5,-10 5,74 5,-3 5,-15 5,-15 5,17 5,-15 5,-31 5,55 5,3 5,-37 5,9 5,27 5,10 5,17 5,-11 5,-18 5,8 5,-33 5,-14 5,-7 5,31 5,-27 5,43 5,-53 5,-11 5,2 5,40 5,-2 5,-30 5,-4 5,-2 5,17 5,-27 5,5 5,14 5,-49 5,27 5,21 5,29 5,3 5,9 5,-21 5,-7 5,21 5,11 5,20 5,-12 5,-12 5,31 5,-10 5,44 5,-13 5,-14 5,-21 5,9 5,56 5,-11 5,24 5,27 5,-26 5,8 5,44 5,2 5,-39 5,-27 5,45 5,-4 5,9 5,-12 5,-11 5,-18 5,-4 5,-9 5,-7 5,27 5,-24 5,16 5,-17 5,7 5,0 5,16 5,35 5,-10 5,10 5,-18 5,27 5,22 5,-1 5,-26 5,35 5,-45 5,42 5,-9 5,25 5,-13 5,10 5,-40 5,27 5,-41 5,85 5,-19 5,4 5,27 5,-9 5,-46 5,4 5,-12 5,18 5,-51 5,3 5,19 5,31 5,-8 5,32 5,12 5,3 5,-30 5,-2 5,41 5,35 5,-13 5,-9 5,-15 5,-18 5,-24 5,7 5,-6 5,-27 5,61 5,-19 5,-17 5,9 5,-9 5,-38 5,61 5,17 5,-34 5,-25 5,52 5,-40 5,38 5,-63 5,6 5,29 5,-11 5,-7 5,47 5,-55 5,-17 5,8 5,-23 5,32 5,15 5,-4 5,15 5,-5 5,11 5,16 5,10 5,-70 5,7 5,1 5,23 5,0 5,21 5,22 5,9 5,19 5,-79 5,20 5,-35 5,46 5,-17 5,28 5,-11 5,35 5,-35 5,-52 5,43 5,15 5,-23 5,14 5,-29 5,-67 5,25 5,10 5,14 5,-6 5,-15 5,17 5,-71 5,-16 5,18 5,7 5,-6 5,-9 5,-32 5,8 5,-43 5,39 5,-31 5,5 5,-61 5,37 5,-60 5,47 5,-35 5,-12 5,-1 5,47 5,-18 5,16 5,-66 5,1 5,-5 5,37 5,63 5,-63 5,-5 5,41 5,-5 5,3 5,-28 5,-3 5,-31 5,27 5,17 5,14 5,-32 5,8 5,17 5,-39 5,45 5,-26 5,-3 5,-38 5,56 5,-35 5,6 5,20 5,-10 5,-41 5,43 5,-1 5,-2 5,-21 5,-14 5,21 5,17 5,0 5,-36 5,-5 5,15 5,-1 5,32 5,-48 5,-25 5,34 5,0 5,-3 5,-23 5,-22 5,46 5,-45 5,28 5,17 5,17 5,-2 5,-16 5,-3 5,13 5,0 5,-35 5,-16 5,-1 5,16 5,-9 5,-6 5,30 5,-23 5,-27 5,28 5,-29 5,24 5,37 5,-9 5,31 5,-53 5,53 5,-50 5,59 5,21 5,-27 5,3 5,-16 5,38 5,7 5,25 5,-2 5,16 5,5 5,-53 5,27 5,15 5,-12 5,-9 5,-38 5,-7 5,-25 5,36 5,9 5,2 5,-5 5,-45 5,26 5,-37 5,29 5,-17 5,-28 5,-19 5,7 5,-35 5,39 5,0 5,-21 5,4 5,72 5,-5 5,-4 5,-13 5,39 5,22 5,3 5,9 5,4 5,-48 5,-1 5,28 5,-3 5,44 5,-17 5,19 5,1 5,-19 5,-8 5,8 5,8 5,19 5,35 5,7 5,-14 5,33 5,-7 5,-18 5,6 5,-17 5,30 5,-7 5,2 5,15 5,-18 5,-29 5,47 5,-50 5,6 5,-12 5,18 5,-19 5,7 5,22 5,-14 5,25 5,33 5,-23 5,6 5,-14 5,-4 5,-6 5,62 5,33 5,-32 5,-5 5,20 5,-41 5,28 5,4 5,25 5,-17 5,6 5,23 5,-28 5,-28 5,1 5,-22 5,46 5,-29 5,15 5,-3 5,44 5,-52 5,45 5,34 5,-70 5,26 5,39 5,6 5,-20 5,15 5,10 5,-6 5,38 5,-33" stroke="#00ff00" stroke-width="30.0"/>
<path d="M2200,5115 l5,2 5,27 5,10 5,19 5,-29 5,1 5,9 5,-44 5,56 5,-6 5,-46 5,63 5,-37 5,72 5,-17 5,-57 5,38 5,20 5,-20 5,-25 5,18 5,7 5,3 5,31 5,-24 5,-43 5,4 5,-2 5,12 5,-11 5,-3 5,57 5,-2 5,-31 5,52 5,-24 5,17 5,-42 5,22 5,50 5,-15 5,-28 5,-3 5,33 5,-49 5,14 5,15 5,-4 5,22 5,22 5,-60 5,28 5,17 5,-11 5,28 5,-38 5,-3 5,-30 5,55 5,-49 5,16 5,55 5,5 5,-8 5,46 5,-1 5,-2 5,-41 5,-14 5,59 5,-40 5,40 5,4 5,-10 5,5 5,48 5,-14 5,-16 5,-25 5,43 5,-8 5,16 5,11 5,10 5,-3 5,-14 5,33 5,26 5,-7 5,30 5,18 5,-33 5,-1 5,-19 5,51 5,-16 5,20 5,18 5,7 5,20 5,-14 5,19 5,-43 5,72 5,-35 5,27 5,1 5,-13 5,21 5,-14 5,-6 5,22 5,-4 5,46 5,4 5,-24 5,62 5,-19 5,-36 5,47 5,-40 5,36 5,10 5,-17 5,8 5,-14 5,16 5,-25 5,15 5,17 5,15 5,-36 5,15 5,8 5,8 5,-37 5,-16 5,53 5,5 5,10 5,-5 5,-20 5,3 5,-31 5,26 5,10 5,6 5,5 5,3 5,-10 5,-23 5,-41 5,11 5,14 5,-3 5,-25 5,29 5,52 5,-47 5,24 5,3 5,9 5,-9 5,-27 5,47 5,-26 5,34 5,-5 5,23 5,-33 5,2 5,37 5,6 5,-30 5,16 5,-11 5,22 5,60 5,23 5,-7 5,11 5,-29 5,23 5,19 5,4 5,28 5,-3 5,-5 5,9 5,5 5,-43 5,12 5,21 5,18 5,-19 5,-4 5,7 5,21 5,1 5,11 5,-6 5,26 5,28 5,-64 5,12 5,-6 5,-25 5,50 5,0 5,-18 5,31 5,-44 5,15 5,6 5,-50 5,-8 5,23 5,-2 5,-29 5,9 5,-6 5,-25 5,36 5,44 5,-21 5,-23 5,-60 5,52 5,-51 5,43 5,-18 5,-69 5,0 5,-16 5,-5 5,-5 5,10 5,21 5,37 5,-7 5,-3 5,-3 5,36 5,-11 5,-16 5,35 5,0 5,13 5,20 5,23 5,0 5,-17 5,5 5,45 5,-67 5,2 5,-9 5,65 5,-29 5,-8 5,-18 5,-1 5,-14 5,54 5,-29 5,40 5,-17 5,-2 5,-3 5,-41 5,31 5,24 5,-40 5,17 5,0 5,6 5,-46 5,12 5,-27 5,39 5,-30 5,24 5,13 5,-34 5,21 5,16 5,-22 5,-1 5,-7 5,40 5,-20 5,37 5,-15 5,19 5,3 5,26 5,3 5,-14 5,-3 5,39 5,-42 5,-30 5,38 5,7 5,-44 5,-26 5,-1 5,-26 5,14 5,-7 5,34 5,-21 5,-10 5,16 5,-45 5,44 5,9 5,-58 5,-14 5,-19 5,15 5,29 5,-39 5,32 5,-34 5,-3 5,76 5,-11 5,-5 5,5 5,18 5,3 5,-12 5,31 5,-33 5,27 5,15 5,-33 5,1 5,9 5,2 5,15 5,19 5,27 5,14 5,-27 5,-16 5,33 5,26 5,15 5,-20 5,-62 5,4 5,31 5,3 5,-8 5,-34 5,-2 5,6 5,51 5,-13 5,-23 5,41 5,-40 5,-21 5,-17 5,6 5,-13 5,3 5,-6 5,-12 5,19 5,-28 5,5 5,4 5,19 5,-19 5,-8 5,-12 5,33 5,-53 5,54 5,-1 5,29 5,-50 5,41 5,-69 5,37 5,-10 5,-21 5,12 5,32 5,-42 5,-3 5,33 5,-28 5,7 5,-5 5,36 5,2 5,-21 5,8 5,34 5,28 5,11 5,-61 5,12 5,8 5,-1 5,71 5,-29 5,2 5,65 5,-9 5,-19 5,-16 5,-14 5,76 5,-5 5,4 5,42 5,-49 5,-48 5,88 5,-53 5,50 5,-42 5,-1 5,32 5,-23 5,-14 5,26 5,44 5,-48 5,-22 5,45 5,-33 5,9 5,12 5,19 5,11 5,6 5,-31 5,32 5,11 5,-78 5,-2 5,36 5,14 5,0 5,47 5,-70 5,2 5,41 5,-37 5,11 5,-1 5,28 5,31 5,-26 5,17 5,-30 5,35 5,-11 5,11 5,15 5,23 5,31 5,-39 5,4 5,0 5,31 5,-9 5,-52 5,39 5,-15 5,-9 5,-6 5,28 5,-29 5,-18 5,18 5,42 5,7 5,-61 5,25 5,-21 5,-23 5,47 5,-10 5,-8 5,12 5,-30 5,22 5,-12 5,37 5,-43 5,0 5,4 5,16 5,41 5,-6 5,-20 5,-4 5,2 5,26 5,-6 5,20 5,-27 5,5 5,9 5,-1 5,22 5,0 5,-10 5,-4 5,8 5,-17 5,50 5,-49 5,36 5,36 5,-21 5,0 5,-25 5,-18 5,18 5,0 5,33 5,-26 5,25 5,-4 5,19 5,21 5,22 5,19 5,-49 5,43 5,5 5,-50 5,25 5,-4 5,-3 5,-23 5,20 5,38 5,14 5,14 5,-33 5,20 5,-14 5,-46 5,31 5,43 5,4 5,-8 5,-27 5,-20 5,21 5,-31 5,49 5,-16 5,29 5,48 5,-17 5,-49 5,2 5,0 5,-3 5,40 5,1 5,4 5,34 5,-5 5,-29 5,38 5,-47 5,-32 5,45 5,2 5,22 5,-28 5,47 5,16 5,-23 5,6 5,0 5,2 5,6 5,-47 5,36 5,-4 5,26 5,-56 5,9 5,7 5,23 5,16 5,-59 5,-16 5,17 5,27 5,-36 5,-8 5,-7 5,-22 5,-16 5,18 5,-19 5,-9 5,-16 5,45 5,-7 5,-11 5,34 5,13 5,14 5,-21 5,-28 5,47 5,-14 5,-27 5,40 5,-24 5,24 5,-10 5,26 5,-26 5,13 5,30 5,-21 5,53 5,-39 5,61 5,-23 5,-12 5,57 5,-1 5,-42 5,-5 5,10 5,32 5,-16 5,-16 5,19 5,-38 5,18 5,15 5,-38 5,14 5,-55 5,40 5,8 5,1 5,8 5,8 5,-42 5,2 5,50 5,-11 5,-8 5,-36 5,42 5,-47 5,33 5,-9 5,32 5,-63 5,1 5,31 5,-25 5,-44 5,34 5,-17 5,24 5,-11 5,35 5,-46 5,14 5,66 5,-9 5,-27 5,35 5,-68 5,-11 5,68 5,-37 5,21 5,-45 5,31 5,20 5,-7 5,26 5,29 5,24 5,8 5,8 5,-25 5,19 5,18 5,-5 5,19 5,22 5,-36 5,13 5,26 5,-34 5,34 5,-16 5,4 5,46 5,-44 5,10 5,18 5,-19 5,-14 5,28 5,-50 5,61 5,2 5,-6 5,29 5,-33 5,-31 5,12 5,-43 5,47 5,11 5,-40 5,-10 5,6 5,11 5,-10 5,19 5,27 5,-32 5,-25 5,30 5,8 5,30 5,3 5,-1 5,25 5,-28 5,45 5,-18 5,44 5,-39 5,-10 5,4 5,11 5,7 5,-30 5,37 5,33 5,-10 5,-34 5,2 5,46 5,-36 5,11 5,-34 5,12 5,-1 5,30 5,-28 5,2 5,-36 5,24 5,30 5,-11 5,-14 5,-9 5,-10 5,-7 5,18 5,16 5,-15 5,14 5,-2 5,-1 5,3 5,4 5,-48 5,-20 5,57 5,24 5,14 5,-51 5,-27 5,52 5,-39 5,61 5,-11 5,25 5,-36 5,-6 5,-2 5,2 5,39 5,27 5,-7 5,-55 5,51 5,-27 5,-50 5,28 5,65 5,-36 5,17 5,-3 5,42 5,17 5,-21 5,-12 5,18 5,-51 5,11 5,42 5,10 5,-49 5,23 5,54 5,5 5,8 5,30 5,-5 5,-30 5,-6 5,31 5,5 5,-43 5,-11 5,46 5,-17 5,22 5,-4 5,56 5,-9 5,-6 5,7 5,-44 5,30 5,15 5,-14 5,-5 5,-34 5,0 5,12 5,-31 5,-5 5,27 5,46 5,-36 5,-18 5,51 5,-9 5,25 5,-8 5,-22 5,4 5,49 5,-34 5,18 5,-3 5,-7 5,5 5,41 5,19 5,12 5,-29 5,2 5,37 5,6 5,-35 5,1 5,4 5,9 5,-20 5,4 5,18 5,1 5,-9 5,-33 5,8 5,3 5,-7 5,23 5,-13 5,-58 5,-33 5,28 5,38 5,-10 5,-59 5,-12 5,-34 5,2 5,29 5,-9 5,33 5,-10 5,2 5,-14 5,-3 5,20 5,6 5,40 5,-30 5,-8 5,4 5,-18 5,43 5,51 5,-21 5,41 5,7 5,-12 5,53 5,7 5,21 5,-13 5,33 5,-18 5,48 5,-43 5,-4 5,-28 5,-10 5,-16 5,7 5,-4 5,-10 5,14 5,26 5,1 5,-17 5,-62 5,70 5,-41 5,20 5,12 5,-47 5,43 5,-11 5,-14 5,-16 5,48 5,-36 5,3 5,-20 5,-35 5,41 5,-6 5,26 5,-54 5,19 5,30 5,-10 5,1 5,2 5,33 5,21 5,2 5,-37 5,-24 5,27 5,28 5,-27 5,-6 5,-43 5,2 5,36 5,8 5,7 5,27 5,-48 5,32 5,42 5,-8 5,-25 5,0 5,10 5,40 5,-6 5,37 5,22 5,13 5,-23 5,27 5,12 5,-15 5,13 5,8 5,-12 5,28 5,-36 5,25 5,24 5,18 5,-8 5,-5 5,40 5,-12 5,-10 5,2 5,10 5,5 5,26 5,-40 5,3 5,-15 5,-15 5,66 5,-37 5,-9 5,-53 5,10 5,32 5,-49 5,1 5,6 5,29 5,-32 5,-22 5,-2 5,8 5,6 5,-11 5,35 5,-40 5,49 5,15 5,1 5,5 5,22 5,2 5,30 5,12 5,12 5,-49 5,-38 5,39 5,2 5,-13 5,16 5,-31 5,10 5,-15 5,17 5,-14 5,43 5,-2 5,17 5,14 5,-24 5,4 5,-34 5,39 5,3 5,-32 5,0 5,-3 5,18 5,24 5,-26 5,-19 5,28 5,1 5,-27 5,-42 5,22 5,22 5,10 5,-30 5,17 5,-44 5,50 5,15 5,-1 5,13 5,-31 5,5 5,23 5,5 5,-20 5,35 5,-45 5,1 5,26 5,1 5,-37 5,48 5,-18 5,27 5,17 5,-28 5,56 5,-6 5,-9 5,26 5,-45 5,26 5,-50 5,41 5,15 5,-24 5,38 5,-17 5,64 5,3 5,10 5,-70 5,25 5,-33 5,1 5,68 5,-37 5,-7 5,22 5,25 5,-27 5,3 5,11 5,-11 5,29 5,-9 5,32 5,7 5,31 5,-55 5,6 5,14 5,-35 5,0 5,-11 5,19 5,27 5,-63 5,73 5,-54 5,6 5,-27 5,1 5,21 5,29 5,-26 5,21 5,10 5,-25 5,-30 5,35 5,-6 5,35 5,10 5,13 5,35 5,-19 5,-23 5,21 5,5 5,24 5,53 5,-50 5,-25 5,36 5,-13 5,48 5,-1 5,-11 5,-7 5,0 5,-38 5,20 5,-9 5,7 5,-10 5,-26 5,49 5,-39 5,-41 5,-7 5,-36 5,47 5,16 5,-4 5,-35 5,-47 5,25 5,-40 5,47 5,-27 5,-6 5,13 5,10 5,17 5,16 5,24 5,23 5,-24 5,-25 5,42 5,-6 5,-1 5,11 5,31 5,-1 5,3 5,23 5,27 5,33 5,-5 5,25 5,4 5,9 5,-2 5,24 5,-17 5,-8 5,-54 5,53 5,-17 5,34 5,-18 5,-38 5,-17 5,37 5,10 5,-4 5,-80 5,22 5,5 5,-3 5,13 5,-40 5,32 5,3 5,12 5,-38 5,16 5,6 5,14 5,-26 5,19 5,-24 5,36 5,-9 5,-12 5,17 5,41 5,-62 5,44 5,-12 5,-19 5,54 5,-49 5,22 5,6 5,11 5,-37 5,-2 5,37 5,-25 5,9 5,-7 5,3 5,-4 5,19 5,-18 5,14 5,20 5,5 5,-15 5,32 5,-1 5,30 5,52 5,-2 5,-15 5,6 5,-7 5,18 5,37 5,2 5,45 5,-33 5,-11 5,-40 5,7 5,-5 5,19 5,45 5,-13 5,-18 5,38 5,-32 5,-37 5,-22 5,25 5,-8 5,23 5,25 5,-26 5,25 5,12 5,-44 5,-50 5,-1 5,37 5,-38 5,54 5,-11 5,-26 5,23 5,-28 5,38 5,-22 5,11 5,-30 5,-25 5,35 5,18 5,14 5,16 5,29 5,17 5,-7 5,-7 5,17 5,38 5,-31 5,32 5,-35 5,40 5,2 5,-40 5,28 5,-5 5,-33 5,43 5,-32 5,13 5,26 5,-43 5,-35 5,-2 5,83 5,0 5,-75 5,-12 5,85 5,-5 5,-21 5,-62 5,56 5,-23 5,4 5,-15 5,-3 5,45 5,-34 5,-22 5,-32 5,28 5,16 5,42 5,-9 5,-71 5,35 5,45 5,-10 5,0 5,-16 5,32 5,36 5,-26 5,-13 5,28 5,-12 5,-60 5,2 5,42 5,24 5,20 5,-25 5,5 5,13 5,-13 5,-12 5,8 5,17 5,-31 5,36 5,39 5,-32 5,20 5,-35 5,46 5,-4 5,-1 5,26 5,4 5,-46 5,53 5,-46 5,1 5,2 5,36 5,-7 5,6 5,11 5,-27 5,-3 5,43 5,-41 5,-21 5,37 5,0 5,32 5,-34 5,16 5,-4 5,21 5,-56 5,2 5,32 5,-6 5,17 5,43 5,-56 5,41 5,-73 5,73 5,-2 5,-30 5,-7 5,15 5,-2 5,39 5,-10 5,42 5,-39 5,-17 5,17 5,27 5,45 5,-15 5,-29 5,36 5,-19 5,0 5,23 5,-26 5,46 5,2 5,12 5,7 5,16 5,-4 5,-38 5,10 5,-19 5,11 5,17 5,-3 5,-9 5,-13 5,-14 5,-29 5,51 5,5 5,14 5,-65 5,37 5,-34 5,-36 5,29 5,-56 5,32 5,-52 5,-2 5,77 5,-44 5,31 5,6 5,-4 5,19 5,14 5,-6 5,11 5,18 5,-4 5,50 5,-5 5,-44 5,19 5,38 5,-27 5,56 5,-25 5,-14 5,48 5,-29 5,-14 5,34 5,-2 5,12 5,-10 5,6 5,-21 5,-20 5,-5 5,57 5,-52 5,38 5,-9 5,3 5,-5 5,-40 5,5 5,39 5,-10 5,-15 5,-11 5,-2 5,2 5,30 5,19 5,-9 5,-16 5,-2 5,1 5,14 5,-13 5,12 5,0 5,-11 5,-50 5,56 5,-21 5,26 5,13 5,-48 5,20 5,45 5,-27 5,-17 5,14 5,22 5,12 5,13 5,12 5,-37 5,3 5,-28 5,25 5,16 5,38 5,8 5,-16 5,7 5,26 5,-42 5,2 5,3 5,4 5,8 5,-7 5,42 5,37 5,-27 5,10 5,20 5,-16 5,-6 5,52 5,-7 5,-35 5,-25 5,41 5,2 5,24 5,-18 5,38 5,36 5,-77 5,45 5,-14 5,34 5,17 5,-49 5,13 5,24 5,-19 5,-8 5,11 5,-47 5,-25 5,54 5,-9 5,-12 5,-6 5,24 5,-21 5,11 5,-28 5,-34 5,13 5,-2 5,-36 5,51 5,10 5,-26 5,6 5,8 5,25 5,10 5,10 5,14 5,-7 5,34 5,34 5,-26 5,0 5,37 5,-41 5,31 5,10 5,3 5,-28 5,22 5,25 5,-21 5,-7 5,5 5,8 5,6 5,-47 5,-9 5,61 5,-33 5,9 5,-36 5,-15 5,4 5,18 5,24 5,-23 5,6 5,-34 5,-21 5,34 5,-22 5,8 5,-25 5,-18 5,32 5,15 5,7 5,-34 5,22 5,21 5,-3 5,67 5,-20 5,1 5,-54 5,21 5,4 5,28 5,1 5,4 5,-20 5,34 5,-73 5,13 5,-7 5,44 5,-22 5,-4 5,18 5,-37 5,11 5,31 5,-10 5,15 5,-13 5,49 5,-35 5,16 5,33 5,-47 5,52 5,26 5,-29 5,2 5,8 5,20 5,-59 5,42 5,29 5,-8 5,-34 5,58 5,3 5,-36 5,39 5,-19 5,-17 5,25 5,15 5,-40 5,-36 5,48 5,-48 5,-21 5,23 5,-20 5,-2 5,14 5,4 5,-34 5,38 5,-1 5,15 5,-24 5,37 5,-15 5,38 5,23 5,-24 5,4 5,-9 5,7 5,-1 5,10 5,39 5,9 5,-54 5,8 5,32 5,11 5,20 5,0 5,21 5,60 5,14 5,-2 5,-49 5,66 5,-72 5,-2 5,26 5,-6 5,-37 5,-47 5,13 5,5 5,38 5,-32 5,8 5,-53 5,-22 5,22 5,-16 5,21 5,-32 5,17 5,-16 5,27 5,-46 5,0 5,8 5,1 5,36 5,25 5,-10 5,18 5,-9 5,-27 5,16 5,16 5,-32 5,65 5,-35 5,12 5,52 5,4 5,55 5,38 5,-16 5,15 5,17 5,-16 5,13 5,-14 5,-39 5,23 5,28 5,-6 5,2 5,-29 5,-31 5,11 5,36 5,-1 5,27 5,-63 5,-20 5,-18 5,20 5,33 5,-26 5,17 5,2 5,14 5,25 5,25 5,-19 5,-12 5,-7 5,57 5,-40 5,-26 5,13 5,11 5,22 5,1 5,15 5,-15 5,-35 5,45 5,49 5,-3 5,-22 5,21 5,-14 5,39 5,-17 5,21 5,-12 5,1 5,-4 5,12 5,7 5,0 5,-19 5,33 5,30 5,-21 5,-28 5,5 5,5 5,-8 5,15 5,14 5,42 5,-11 5,-4 5,26 5,-26 5,19 5,3 5,35 5,11 5,-11 5,-24 5,46 5,-3 5,19 5,-3 5,-21 5,13 5,-5 5,6 5,19 5,-2 5,-29 5,-12 5,26 5,-24 5,7 5,-24 5,-45 5,64 5,-45 5,5 5,30 5,-15 5,-57 5,55 5,-28 5,-41 5,-7 5,35 5,-7 5,-10 5,26 5,6 5,-31 5,36 5,20 5,-22 5,15 5,-13 5,6 5,12 5,20 5,-15 5,-7 5,-3 5,52 5,-41 5,53 5,-14 5,69 5,-43 5,10 5,-26 5,20 5,-8 5,9 5,28 5,-75 5,30 5,0 5,26 5,32 5,-19 5,-19 5,-17 5,11 5,29 5,-2 5,-40 5,-4 5,21 5,-31 5,6 5,43 5,-41 5,-15 5,2 5,16 5,-37 5,48 5,-28 5,-22 5,-6 5,48 5,17 5,-22 5,14 5,-28 5,35 5,25 5,-39 5,27 5,-5 5,21 5,4 5,-51 5,55 5,-3 5,-15 5,3 5,-57 5,10 5,44 5,20 5,-17 5,-7 5,-28 5,-10 5,60 5,-39 5,-7 5,25 5,2 5,5 5,20 5,1 5,-37 5,30 5,-31 5,29 5,24 5,-8 5,-9 5,1 5,-5 5,67 5,9 5,-13 5,23 5,-23 5,-45 5,24 5,40 5,1 5,-58 5,-4 5,42 5,-23 5,-22 5,43 5,-51 5,-36 5,4 5,-34 5,24 5,8 5,-8 5,22 5,7 5,-49 5,19 5,51 5,-15 5,-3 5,-28 5,10 5,27 5,66 5,-6 5,20 5,3 5,50 5,1 5,9 5,-47 5,58 5,-23 5,21 5,-19 5,8 5,-14 5,42 5,-2 5,-6 5,-7 5,53 5,-71 5,-14 5,-7 5,32 5,-31 5,-4 5,-28 5,-4 5,5 5,15 5,-6 5,-5 5,-60 5,0 5,45 5,-57 5,-15 5,-14 5,4 5,61 5,-13 5,10 5,-8 5,3 5,49 5,15 5,-61 5,20 5,27 5,18 5,-22 5,34 5,-2 5,61 5,8 5,22 5,35 5,-16 5,64 5,13 5,9 5,-55 5,34 5,-51 5,33 5,17 5,3 5,12 5,-59 5,-20 5,42 5,-19 5,35 5,2 5,-38 5,-27 5,15 5,19 5,4 5,-59 5,53 5,-11 5,-6 5,7 5,26 5,0 5,21 5,-54 5,37 5,31 5,16 5,-63 5,32 5,36 5,-36 5,3 5,38 5,26 5,23 5,-8 5,4 5,-26 5,37 5,-1 5,27 5,-35 5,20 5,-21 5,27 5,-4 5,16 5,14 5,-51 5,53 5,9 5,-9 5,0 5,21 5,-29 5,-36 5,31 5,-11 5,15 5,-26 5,33 5,20 5,8 5,31 5,3 5,-5 5,4 5,26 5,-4 5,-9 5,29 5,-25 5,19 5,6 5,-16 5,35 5,5 5,6 5,-2 5,-46 5,3 5,9 5,-59 5,26 5,-20 5,10 5,-27 5,-6 5,18 5,-14 5,-3 5,-8 5,-27 5,11 5,0 5,-30 5,-16 5,14 5,64 5,-24 5,-9 5,-24 5,57 5,-29 5,38 5,-18 5,-6 5,-23 5,49 5,-29 5,16 5,-4 5,-14 5,78 5,-41 5,23 5,-9 5,-21 5,24 5,32 5,-11 5,-16 5,60 5,-14 5,-23 5,10 5,8 5,-13 5,-5 5,18 5,-19 5,51 5,-50 5,5 5,33 5,-7 5,-41 5,14 5,-31 5,35 5,-20 5,-8 5,23 5,-57 5,41 5,-17 5,19 5,-20 5,-29 5,-8 5,72 5,-7 5,-21 5,27 5,-29 5,19 5,40 5,-63 5,27 5,-4 5,18 5,2 5,-14 5,25 5,-19 5,-10 5,3 5,-1 5,-5 5,-41 5,18 5,-28 5,0 5,-14 5,8 5,12 5,25 5,-6 5,10 5,34 5,-55 5,73 5,-14 5,4 5,-41 5,-29 5,26 5,19 5,5 5,35 5,-12 5,7 5,-18 5,-20 5,44 5,53 5,23 5,-26 5,31 5,-28 5,-27 5,4 5,-31 5,27 5,6 5,10 5,-24 5,-5 5,-61 5,17 5,-12 5,12 5,-42 5,-5 5,-4 5,59 5,-13 5,-1 5,-14 5,19 5,-19 5,3 5,2 5,56 5,4 5,0 5,-19 5,57 5,-29 5,-3 5,16 5,29 5,27 5,30 5,-19 5,32 5,8 5,-46 5,10 5,21 5,-20 5,28 5,34 5,-2 5,14 5,-28 5,-10 5,9 5,-49 5,-13 5,8 5,67 5,-49 5,-32 5,12 5,-32 5,29 5,8 5,-4 5,-43 5,4 5,-45 5,4 5,-1 5,26 5,-6 5,22 5,39 5,-33 5,46 5,-61 5,21 5,3 5,34 5,36 5,-29 5,5 5,11 5,-20 5,50 5,-34 5,24 5,12 5,48 5,37 5,13 5,-6 5,23 5,-37 5,53 5,20 5,-46 5,37 5,-20 5,-45 5,38 5,11 5,-17 5,-57 5,49 5,-16 5,-20 5,11 5,45 5,-68 5,4 5,-19 5,49 5,-34 5,14 5,50 5,-24 5,-35 5,30 5,8 5,29 5,-50 5,18 5,23 5,8 5,9 5,18 5,33 5,16 5,-25 5,14 5,19 5,31 5,3 5,16 5,1 5,29 5,-39 5,7 5,42 5,4 5,-16 5,25 5,-40 5,41 5,-35 5,44 5,-1 5,-26 5,-13 5,29 5,-15 5,18 5,0 5,-18 5,-4 5,53 5,29 5,-41 5,44 5,-8 5,28 5,-17 5,21 5,-25 5,-32 5,47 5,-38 5,47 5,23 5,-6 5,-45 5,44 5,16 5,-23 5,-16 5,-53 5,40 5,-28 5,-17 5,2 5,-12 5,-47 5,18 5,-33 5,-4 5,41 5,-23 5,8 5,27 5,-31 5,-8 5,36 5,-55 5,-27 5,8 5,47 5,-3 5,-22 5,9 5,32 5,-29 5,11 5,5 5,25 5,41 5,-2 5,-14 5,-9 5,30 5,6 5,-1 5,10 5,-13 5,35 5,-23 5,14 5,33 5,-18 5,10 5,18 5,-38 5,-4 5,34 5,-44 5,24 5,9 5,-34 5,44 5,-42 5,-11 5,-14 5,15 5,-21 5,5 5,47 5,-25 5,28 5,-27 5,-29 5,14 5,-32 5,5 5,12 5,-3 5,19 5,-9 5,-4 5,14 5,-1 5,10 5,0 5,-25 5,40 5,-15 5,-20 5,27 5,33 5,-14 5,16 5,-20 5,-57 5,-9 5,39 5,-37 5,-1 5,7 5,-16 5,14 5,-7 5,26 5,-31 5,49 5,-5 5,2 5,8 5,-20 5,44 5,-5 5,-12 5,41 5,-38 5,-7 5,-4 5,35 5,-4 5,-1 5,20 5,-7 5,17 5,40 5,-32 5,-13 5,-6 5,-62 5,52 5,10 5,-19 5,-4 5,13 5,23 5,-36 5,-32 5,2 5,5 5,-22 5,36 5,-39 5,-11 5,0 5,8 5,-12 5,27 5,-7 5,-25 5,41 5,-4 5,58 5,-27 5,6 5,14 5,-31 5,73 5,5 5,12 5,-13 5,39 5,-19 5,48 5,12 5,-14 5,1 5,50 5,-44 5,-30 5,15 5,53 5,6 5,28 5,11 5,-51 5,-11 5,-13 5,-17 5,41 5,-51 5,12 5,-44 5,54 5,-17 5,-50 5,23 5,-37 5,48 5,-29 5,-23 5,32 5,-11 5,-27 5,59 5,9 5,-20 5,1 5,-1 5,21 5,14 5,-19 5,2 5,-33 5,76 5,26 5,-7 5,4 5,18 5,41 5,3 5,29 5,-12 5,-8 5,4 5,25 5,-10 5,7 5,44 5,1 5,-25 5,-25 5,-12 5,41 5,-48 5,36 5,4 5,-12 5,-5 5,14 5,-60 5,23 5,62 5,-27 5,45 5,-14 5,3 5,8 5,-17 5,-7 5,-8 5,5 5,17 5,-23 5,17 5,-17 5,-11 5,30 5,16 5,4 5,-9 5,48 5,-5 5,43 5,-17 5,54 5,16 5,0 5,25 5,21 5,-24 5,-17 5,-6 5,4 5,0 5,-21 5,37 5,13 5,-10 5,21 5,5 5,-59 5,-14 5,22 5,24 5,17 5,-1 5,23 5,6 5,-23 5,41 5,-8 5,-6 5,6 5,-18 5,10 5,45 5,-21 5,-34 5,43 5,-29 5,33 5,59 5,-44 5,-7 5,-14 5,33 5,-10 5,-24 5,-7 5,13 5,-36 5,-20 5,42 5,-47 5,44 5,-52 5,37 5,-65 5,13 5,3 5,-52 5,45 5,-1 5,-61 5,0 5,14 5,-38 5,30 5,42 5,-46 5,20 5,13 5,9 5,-6 5,25 5,-5 5,-46 5,6 5,43 5,16 5,12 5,-32 5,14 5,23 5,-39 5,38 5,29 5,-9 5,1 5,8 5,4 5,-23 5,18 5,-15 5,-8 5,28 5,-18 5,-21 5,6 5,14 5,2 5,50 5,-52 5,-17 5,4 5,42 5,-13 5,-5 5,-3 5,18 5,-19 5,-23 5,13 5,45 5,-29 5,-10 5,-12 5,12 5,-16 5,-16 5,-1 5,22 5,-5 5,20 5,-5 5,17 5,7 5,40 5,-64 5,-8 5,59 5,-38 5,-17 5,-57 5,19 5,45 5,-52 5,23 5,-23 5,-12 5,16 5,11 5,-25 5,-9 5,38 5,-58 5,45 5,48 5,-53 5,14 5,23 5,29 5,14 5,0 5,-55 5,2 5,25 5,-47 5,75 5,-13 5,25 5,-37 5,6 5,-41 5,38 5,30 5,-32 5,9 5,4 5,-17 5,11 5,-37 5,-9 5,6 5,-17 5,-9 5,18 5,1 5,-18 5,33 5,-29 5,13 5,-23 5,37 5,20 5,7 5,0 5,-38" stroke="#00ffff" stroke-width="30.0"/>
<path d="M2200,5175 l5,-53 5,13 5,32 5,-14 5,37 5,11 5,2 5,26 5,39 5,-14 5,-29 5,-18 5,-8 5,-26 5,-11 5,40 5,-8 5,-16 5,8 5,13 5,3 5,-3 5,-27 5,12 5,28 5,-31 5,-16 5,-29 5,-9 5,65 5,-10 5,-62 5,-13 5,4 5,72 5,-25 5,-17 5,6 5,-37 5,51 5,8 5,-32 5,-3 5,7 5,-26 5,20 5,13 5,-39 5,33 5,-42 5,25 5,-26 5,47 5,-23 5,-16 5,-30 5,-15 5,46 5,-5 5,-15 5,-12 5,5 5,-22 5,61 5,-6 5,-46 5,8 5,-54 5,47 5,-10 5,9 5,10 5,-30 5,8 5,21 5,-46 5,-8 5,33 5,-34 5,-8 5,39 5,-26 5,-10 5,-22 5,33 5,-29 5,21 5,17 5,-6 5,-25 5,65 5,-24 5,-9 5,-3 5,16 5,41 5,19 5,-42 5,-16 5,-9 5,46 5,15 5,9 5,-21 5,-45 5,23 5,-5 5,-31 5,50 5,-9 5,14 5,-21 5,-2 5,-18 5,-22 5,4 5,-5 5,48 5,-4 5,-33 5,2 5,9 5,-35 5,15 5,8 5,-17 5,3 5,-5 5,8 5,-43 5,-2 5,21 5,33 5,8 5,-10 5,2 5,8 5,18 5,24 5,17 5,-26 5,-15 5,-7 5,-17 5,43 5,3 5,-20 5,1 5,3 5,32 5,-16 5,-29 5,16 5,-58 5,26 5,-2 5,12 5,-36 5,1 5,32 5,17 5,-1 5,-45 5,1 5,7 5,19 5,-13 5,-29 5,-5 5,-15 5,36 5,-48 5,38 5,-31 5,3 5,58 5,-6 5,15 5,5 5,-6 5,19 5,-28 5,19 5,19 5,-23 5,-14 5,42 5,-14 5,32 5,-34 5,33 5,-21 5,7 5,-1 5,40 5,-49 5,31 5,-1 5,18 5,-11 5,-43 5,52 5,-59 5,-18 5,46 5,-15 5,-8 5,7 5,-6 5,18 5,-19 5,-34 5,58 5,-32 5,29 5,-51 5,-27 5,34 5,43 5,-22 5,-18 5,12 5,9 5,20 5,-35 5,25 5,15 5,-33 5,63 5,-3 5,11 5,-31 5,-15 5,-13 5,30 5,9 5,-13 5,5 5,32 5,36 5,11 5,8 5,-43 5,14 5,-5 5,-16 5,-38 5,25 5,-79 5,-11 5,20 5,33 5,-11 5,-23 5,24 5,-19 5,0 5,-25 5,37 5,-35 5,-23 5,8 5,-28 5,74 5,-38 5,18 5,25 5,-47 5,-10 5,-14 5,32 5,-41 5,37 5,-9 5,18 5,-27 5,-41 5,42 5,-14 5,-27 5,25 5,-43 5,20 5,-24 5,23 5,16 5,-41 5,41 5,-59 5,18 5,-25 5,24 5,36 5,-2 5,-94 5,54 5,-68 5,-2 5,47 5,-19 5,-2 5,0 5,35 5,-30 5,14 5,-33 5,36 5,1 5,19 5,-39 5,-5 5,-3 5,4 5,1 5,-68 5,13 5,16 5,-7 5,68 5,-65 5,-38 5,34 5,39 5,-21 5,35 5,-41 5,-31 5,29 5,29 5,-11 5,-4 5,11 5,-66 5,-2 5,-36 5,14 5,57 5,-28 5,-5 5,7 5,-5 5,-3 5,12 5,-54 5,12 5,-40 5,46 5,-40 5,8 5,-2 5,-3 5,25 5,-33 5,-1 5,-3 5,4 5,-19 5,-11 5,-36 5,7 5,11 5,-32 5,22 5,62 5,-43 5,-10 5,18 5,-11 5,-9 5,-1 5,-43 5,-7 5,59 5,-52 5,-11 5,58 5,-30 5,-31 5,61 5,-25 5,19 5,-10 5,-1 5,22 5,38 5,-21 5,-10 5,3 5,38 5,-9 5,-16 5,-5 5,5 5,9 5,2 5,-3 5,16 5,-20 5,-21 5,4 5,-13 5,-27 5,66 5,-44 5,13 5,18 5,28 5,-2 5,-32 5,-27 5,-18 5,18 5,29 5,-13 5,-13 5,17 5,-4 5,3 5,-15 5,-20 5,45 5,-20 5,-25 5,-16 5,64 5,-25 5,31 5,-12 5,-14 5,22 5,-9 5,2 5,-44 5,34 5,37 5,-25 5,-9 5,17 5,45 5,1 5,-21 5,11 5,-36 5,7 5,25 5,8 5,-63 5,55 5,-25 5,-43 5,29 5,-11 5,-14 5,52 5,-39 5,28 5,-5 5,34 5,21 5,11 5,-57 5,-1 5,-2 5,42 5,16 5,-19 5,-17 5,-30 5,31 5,-16 5,12 5,24 5,11 5,-4 5,11 5,-35 5,17 5,4 5,9 5,-16 5,-11 5,34 5,12 5,-43 5,70 5,-40 5,-26 5,12 5,0 5,28 5,-48 5,31 5,-20 5,-13 5,-37 5,37 5,12 5,-5 5,8 5,31 5,-12 5,22 5,-49 5,16 5,-15 5,33 5,-24 5,3 5,-49 5,30 5,12 5,-7 5,-28 5,22 5,6 5,19 5,-13 5,-10 5,1 5,43 5,-40 5,40 5,-19 5,36 5,-29 5,27 5,8 5,48 5,-6 5,2 5,2 5,-64 5,17 5,27 5,-39 5,-25 5,-27 5,-8 5,-6 5,-5 5,-15 5,23 5,-44 5,36 5,-21 5,24 5,-4 5,-21 5,-13 5,-41 5,72 5,-18 5,11 5,-27 5,-23 5,-11 5,31 5,6 5,14 5,-45 5,-2 5,6 5,24 5,-8 5,6 5,-39 5,2 5,46 5,-20 5,-45 5,13 5,2 5,1 5,-26 5,22 5,-19 5,3 5,4 5,8 5,12 5,30 5,-63 5,58 5,-29 5,5 5,-6 5,47 5,-35 5,-12 5,36 5,-25 5,-17 5,23 5,-15 5,-24 5,-33 5,22 5,15 5,12 5,-16 5,-5 5,9 5,18 5,-32 5,-24 5,-25 5,11 5,-9 5,-11 5,-8 5,32 5,-26 5,42 5,-80 5,35 5,21 5,-32 5,10 5,6 5,-53 5,52 5,-47 5,32 5,12 5,-29 5,33 5,-17 5,3 5,33 5,-45 5,6 5,21 5,-12 5,-7 5,5 5,-19 5,9 5,-6 5,4 5,-50 5,1 5,-4 5,27 5,12 5,-34 5,-36 5,8 5,17 5,-77 5,8 5,-34 5,44 5,-7 5,-23 5,-16 5,53 5,-23 5,-27 5,51 5,10 5,-43 5,13 5,-3 5,19 5,26 5,-56 5,20 5,-17 5,14 5,1 5,-25 5,41 5,-4 5,0 5,-8 5,6 5,-9 5,-19 5,17 5,15 5,7 5,-4 5,-31 5,30 5,16 5,2 5,8 5,-21 5,29 5,9 5,-38 5,24 5,-22 5,7 5,-11 5,2 5,32 5,1 5,-53 5,-10 5,-21 5,21 5,9 5,32 5,-40 5,21 5,-1 5,-12 5,2 5,15 5,-26 5,11 5,-46 5,15 5,43 5,7 5,-11 5,38 5,2 5,-23 5,-29 5,28 5,-35 5,34 5,-33 5,22 5,-33 5,60 5,-37 5,40 5,-35 5,40 5,-33 5,-34 5,63 5,5 5,-18 5,-23 5,-27 5,58 5,-27 5,5 5,15 5,7 5,-47 5,19 5,-5 5,0 5,11 5,36 5,-3 5,11 5,-27 5,29 5,15 5,-12 5,12 5,10 5,-10 5,-6 5,-6 5,-9 5,19 5,-15 5,-8 5,63 5,-38 5,-11 5,37 5,-23 5,5 5,-1 5,-24 5,11 5,15 5,-15 5,-30 5,4 5,18 5,31 5,-25 5,24 5,-3 5,-23 5,-38 5,3 5,-2 5,5 5,-1 5,-13 5,-11 5,27 5,-16 5,24 5,-2 5,4 5,2 5,-57 5,-8 5,54 5,9 5,1 5,-4 5,-11 5,26 5,-43 5,51 5,-6 5,-1 5,35 5,-29 5,13 5,14 5,26 5,-23 5,39 5,5 5,27 5,-61 5,36 5,-35 5,-16 5,-33 5,3 5,1 5,17 5,-2 5,-45 5,-1 5,22 5,-22 5,31 5,-73 5,-17 5,7 5,49 5,7 5,-25 5,8 5,-10 5,-13 5,-2 5,-32 5,0 5,20 5,6 5,-46 5,50 5,-1 5,-17 5,-53 5,23 5,28 5,2 5,-76 5,22 5,2 5,-1 5,-17 5,44 5,-18 5,-13 5,-30 5,46 5,-26 5,-3 5,20 5,14 5,27 5,-8 5,17 5,-26 5,18 5,-18 5,12 5,-15 5,13 5,4 5,-9 5,-37 5,18 5,3 5,-26 5,4 5,-43 5,7 5,-12 5,65 5,-6 5,-29 5,12 5,-49 5,42 5,-14 5,-24 5,13 5,-13 5,-40 5,3 5,4 5,27 5,-2 5,-28 5,36 5,-72 5,12 5,7 5,13 5,22 5,3 5,23 5,-33 5,-30 5,10 5,-10 5,31 5,39 5,-14 5,39 5,-48 5,-18 5,14 5,-9 5,15 5,-30 5,-31 5,28 5,-48 5,-16 5,-6 5,17 5,-41 5,-17 5,10 5,-19 5,-15 5,9 5,33 5,-31 5,-6 5,17 5,-17 5,-24 5,-10 5,-31 5,10 5,-2 5,23 5,13 5,-6 5,16 5,-8 5,-5 5,-11 5,53 5,-29 5,-19 5,31 5,-17 5,28 5,-17 5,25 5,-31 5,-12 5,8 5,21 5,-39 5,77 5,-22 5,46 5,-20 5,-26 5,2 5,36 5,-6 5,-25 5,-13 5,-4 5,16 5,-11 5,-18 5,7 5,-4 5,8 5,27 5,-51 5,31 5,-56 5,12 5,13 5,27 5,-54 5,61 5,-52 5,-44 5,21 5,38 5,35 5,-53 5,44 5,-27 5,19 5,-38 5,-5 5,35 5,-1 5,-7 5,35 5,-20 5,62 5,-78 5,13 5,49 5,-15 5,-55 5,14 5,28 5,-9 5,37 5,-17 5,-37 5,15 5,-25 5,10 5,19 5,6 5,-1 5,10 5,-2 5,12 5,14 5,-43 5,-20 5,33 5,-5 5,-10 5,-10 5,8 5,0 5,-20 5,0 5,10 5,12 5,9 5,22 5,-36 5,11 5,6 5,-3 5,-12 5,29 5,-1 5,-18 5,11 5,-17 5,22 5,43 5,-27 5,76 5,-16 5,0 5,29 5,-62 5,40 5,-43 5,-6 5,49 5,-58 5,56 5,-19 5,-27 5,-6 5,11 5,-39 5,6 5,2 5,17 5,-5 5,25 5,-50 5,-25 5,29 5,-16 5,-26 5,24 5,-6 5,39 5,-32 5,-25 5,23 5,-12 5,51 5,-12 5,-43 5,2 5,31 5,10 5,-6 5,24 5,17 5,-24 5,26 5,28 5,36 5,12 5,-17 5,-5 5,-2 5,-36 5,4 5,-19 5,-34 5,13 5,35 5,-3 5,-61 5,-60 5,44 5,-10 5,-12 5,-34 5,8 5,33 5,-26 5,-15 5,-2 5,18 5,-17 5,-17 5,3 5,30 5,-23 5,0 5,-12 5,30 5,-33 5,19 5,-11 5,-41 5,40 5,-40 5,15 5,-32 5,36 5,-26 5,-10 5,6 5,-6 5,-29 5,-17 5,37 5,-5 5,-27 5,27 5,8 5,-44 5,28 5,-29 5,56 5,34 5,-32 5,12 5,39 5,-24 5,13 5,7 5,-18 5,31 5,-42 5,-23 5,17 5,-12 5,-31 5,-14 5,20 5,31 5,-16 5,-20 5,10 5,-18 5,-9 5,-20 5,-23 5,11 5,35 5,-42 5,48 5,-19 5,-10 5,36 5,-60 5,9 5,-12 5,-26 5,46 5,-19 5,54 5,-1 5,-74 5,54 5,-36 5,10 5,40 5,-35 5,3 5,36 5,-49 5,-16 5,27 5,33 5,29 5,-51 5,-19 5,23 5,-8 5,5 5,-13 5,-63 5,12 5,-2 5,-13 5,-37 5,-8 5,6 5,-17 5,4 5,4 5,-8 5,-35 5,8 5,24 5,28 5,-72 5,-17 5,-14 5,13 5,-2 5,13 5,0 5,31 5,-36 5,-14 5,51 5,-20 5,-24 5,5 5,28 5,24 5,-56 5,1 5,47 5,26 5,-32 5,8 5,14 5,-3 5,28 5,-40 5,-22 5,31 5,5 5,3 5,-33 5,-17 5,61 5,11 5,-40 5,18 5,-13 5,-4 5,39 5,-43 5,-5 5,-26 5,5 5,53 5,-53 5,33 5,-16 5,-27 5,4 5,-6 5,-7 5,27 5,-35 5,-3 5,33 5,-28 5,-4 5,38 5,-15 5,8 5,18 5,13 5,-7 5,-12 5,53 5,-71 5,34 5,-24 5,-1 5,39 5,6 5,-4 5,-7 5,6 5,5 5,-22 5,-7 5,-18 5,-36 5,-2 5,17 5,-7 5,23 5,8 5,-43 5,40 5,-16 5,-8 5,38 5,-36 5,73 5,1 5,-45 5,2 5,-13 5,-10 5,38 5,-31 5,38 5,28 5,-58 5,26 5,-15 5,27 5,-45 5,19 5,11 5,-12 5,-16 5,25 5,2 5,18 5,53 5,-1 5,-25 5,31 5,-21 5,44 5,-25 5,-29 5,33 5,-14 5,-26 5,-19 5,8 5,-2 5,26 5,-10 5,-35 5,55 5,10 5,-42 5,-4 5,-4 5,-7 5,-21 5,26 5,23 5,-24 5,-28 5,25 5,-7 5,-2 5,31 5,-21 5,-31 5,27 5,2 5,30 5,-36 5,6 5,-12 5,-26 5,1 5,48 5,-23 5,12 5,40 5,-8 5,-10 5,48 5,-12 5,32 5,3 5,-33 5,13 5,25 5,-27 5,33 5,-57 5,7 5,10 5,-60 5,-25 5,-17 5,-43 5,7 5,30 5,-15 5,-14 5,23 5,-9 5,-3 5,25 5,-60 5,53 5,-28 5,14 5,-6 5,-58 5,22 5,-16 5,-5 5,-12 5,-14 5,20 5,31 5,-22 5,-23 5,-8 5,-17 5,2 5,-4 5,-15 5,20 5,-1 5,2 5,-16 5,15 5,-63 5,13 5,26 5,-27 5,-2 5,58 5,-18 5,-33 5,16 5,-15 5,2 5,13 5,-8 5,13 5,18 5,-9 5,62 5,4 5,7 5,-10 5,-43 5,-26 5,17 5,-21 5,-12 5,48 5,-30 5,4 5,-27 5,35 5,2 5,-3 5,-82 5,-7 5,49 5,11 5,-28 5,5 5,3 5,-13 5,17 5,-4 5,-8 5,4 5,-32 5,17 5,-25 5,11 5,-15 5,16 5,19 5,5 5,8 5,38 5,-35 5,-9 5,57 5,-23 5,1 5,-24 5,29 5,13 5,-42 5,-31 5,-19 5,3 5,-18 5,-10 5,12 5,13 5,-31 5,-35 5,43 5,-39 5,-39 5,5 5,22 5,16 5,-48 5,-10 5,-40 5,34 5,-24 5,-7 5,4 5,51 5,13 5,-18 5,-4 5,45 5,-40 5,-12 5,-11 5,8 5,8 5,-6 5,7 5,10 5,14 5,31 5,-29 5,37 5,-34 5,20 5,-5 5,25 5,-20 5,-13 5,35 5,-34 5,-11 5,12 5,2 5,-38 5,24 5,13 5,11 5,-23 5,-18 5,-37 5,39 5,20 5,-33 5,-31 5,-11 5,-5 5,39 5,-22 5,-7 5,-17 5,35 5,8 5,-13 5,-22 5,-32 5,5 5,40 5,15 5,-43 5,-11 5,1 5,21 5,-3 5,-10 5,-6 5,21 5,34 5,-14 5,-2 5,12 5,42 5,-10 5,19 5,-37 5,-30 5,-1 5,3 5,20 5,34 5,-5 5,-28 5,28 5,-10 5,-17 5,-21 5,-5 5,10 5,5 5,-29 5,35 5,12 5,-13 5,8 5,-2 5,-55 5,9 5,43 5,-29 5,34 5,-7 5,-41 5,-5 5,4 5,3 5,1 5,2 5,53 5,-1 5,-29 5,23 5,34 5,4 5,-23 5,-6 5,57 5,-32 5,-5 5,23 5,44 5,-19 5,4 5,-65 5,22 5,10 5,10 5,-11 5,-5 5,-10 5,-15 5,-35 5,45 5,28 5,-94 5,-3 5,33 5,-40 5,-1 5,25 5,-15 5,5 5,8 5,43 5,-27 5,31 5,-40 5,-1 5,53 5,-28 5,12 5,-18 5,48 5,2 5,-26 5,39 5,18 5,8 5,-25 5,-13 5,57 5,-31 5,1 5,22 5,46 5,-17 5,3 5,-49 5,-20 5,5 5,-4 5,-46 5,16 5,23 5,-55 5,-39 5,27 5,8 5,-9 5,11 5,-30 5,-20 5,-9 5,19 5,-5 5,13 5,-28 5,-4 5,-16 5,17 5,-28 5,-3 5,5 5,-5 5,-53 5,21 5,29 5,-11 5,21 5,-7 5,-1 5,-16 5,-33 5,30 5,-47 5,23 5,-14 5,-19 5,-17 5,7 5,27 5,-29 5,32 5,-29 5,22 5,-3 5,-29 5,0 5,19 5,13 5,-21 5,9 5,11 5,-4 5,28 5,20 5,-40 5,33 5,25 5,-77 5,70 5,-8 5,9 5,-30 5,-39 5,41 5,-42 5,-14 5,30 5,-7 5,-18 5,13 5,-2 5,-17 5,-20 5,-29 5,35 5,28 5,-27 5,-10 5,35 5,-20 5,-13 5,23 5,-16 5,-16 5,3 5,10 5,-50 5,39 5,2 5,9 5,-8 5,9 5,46 5,-37 5,66 5,8 5,-26 5,40 5,-38 5,33 5,-65 5,-8 5,-8 5,-21 5,38 5,-27 5,-27 5,5 5,-59 5,36 5,-41 5,22 5,-9 5,-19 5,-2 5,7 5,-47 5,19 5,-36 5,25 5,12 5,4 5,-30 5,-2 5,-36 5,31 5,56 5,-54 5,-9 5,2 5,4 5,20 5,13 5,31 5,-61 5,19 5,11 5,43 5,-33 5,22 5,25 5,-53 5,24 5,-16 5,-33 5,56 5,-69 5,35 5,-28 5,21 5,-31 5,10 5,0 5,-22 5,7 5,16 5,-23 5,15 5,-38 5,43 5,-17 5,-41 5,67 5,-41 5,37 5,-15 5,-19 5,-8 5,29 5,-24 5,30 5,-35 5,-11 5,-27 5,8 5,24 5,20 5,26 5,-63 5,1 5,-21 5,23 5,32 5,1 5,-24 5,39 5,13 5,7 5,-18 5,3 5,-24 5,-1 5,-24 5,19 5,-24 5,64 5,-21 5,-30 5,0 5,0 5,5 5,-36 5,14 5,5 5,9 5,8 5,6 5,-23 5,1 5,-30 5,7 5,5 5,23 5,17 5,-13 5,-8 5,-3 5,-5 5,19 5,31 5,-18 5,-33 5,41 5,7 5,-22 5,37 5,44 5,-50 5,-4 5,33 5,-30 5,7 5,-18 5,26 5,39 5,-38 5,21 5,-4 5,26 5,-12 5,8 5,-12 5,11 5,-26 5,-3 5,25 5,-16 5,4 5,-1 5,-40 5,16 5,-11 5,28 5,-40 5,-33 5,26 5,18 5,11 5,-39 5,18 5,-18 5,-26 5,17 5,-6 5,-10 5,5 5,-18 5,21 5,33 5,-71 5,-26 5,9 5,1 5,20 5,18 5,-11 5,26 5,13 5,8 5,26 5,61 5,-12 5,-5 5,24 5,1 5,46 5,-39 5,-7 5,-22 5,15 5,-53 5,4 5,4 5,-36 5,-2 5,-10 5,29 5,-66 5,-4 5,32 5,8 5,-40 5,-29 5,37 5,-23 5,3 5,-51 5,9 5,26 5,17 5,-34 5,36 5,-29 5,-9 5,2 5,7 5,-53 5,1 5,4 5,10 5,-9 5,-22 5,-15 5,-26 5,13 5,3 5,-16 5,7 5,29 5,-29 5,-31 5,-5 5,-37 5,55 5,-27 5,54 5,-11 5,-6 5,5 5,13 5,18 5,-13 5,-1 5,19 5,34 5,-39 5,-1 5,24 5,-12 5,46 5,-20 5,-25 5,-14 5,23 5,-23 5,-4 5,12 5,0 5,-22 5,-8 5,-12 5,-26 5,20 5,-1 5,11 5,8 5,-25 5,13 5,36 5,-44 5,22 5,-45 5,50 5,-6 5,4 5,-15 5,-9 5,36 5,-64 5,-3 5,37 5,-2 5,-5 5,53 5,-8 5,17 5,15 5,16 5,8 5,-55 5,-51 5,-8 5,-19 5,9 5,-12 5,5 5,-31 5,-11 5,-32 5,25 5,7 5,-24 5,3 5,15 5,17 5,-71 5,-3 5,22 5,35 5,-52 5,17 5,28 5,-37 5,-6 5,-26 5,-23 5,57 5,-17 5,-18 5,24 5,-20 5,13 5,67 5,-26 5,18 5,-38 5,36 5,-37 5,21 5,-4 5,-38 5,9 5,76 5,-28 5,-37 5,-36 5,47 5,23 5,-46 5,34 5,-29 5,41 5,6 5,-27 5,-30 5,-43 5,44 5,-39 5,28 5,-12 5,10 5,15 5,-31 5,1 5,-6 5,0 5,-20 5,14 5,-4 5,9 5,-6 5,-18 5,-22 5,13 5,11 5,2 5,-35 5,38 5,2 5,-16 5,3 5,8 5,74 5,-8 5,-27 5,-13 5,13 5,-37 5,42 5,-24 5,9 5,-48 5,6 5,42 5,7 5,11 5,-47 5,29 5,-9 5,-19 5,14 5,1 5,-7 5,26 5,-48 5,-1 5,3 5,21 5,-67 5,54 5,-6 5,26 5,14 5,-11 5,22 5,-31 5,-7 5,-3 5,-11 5,10 5,-1 5,25 5,-9 5,9 5,32 5,-27 5,-30 5,49 5,3 5,-5 5,-1 5,27 5,-25 5,-29 5,0 5,22 5,-5 5,15 5,60 5,-1 5,-17 5,9 5,-18 5,10 5,-39 5,43 5,-43 5,47 5,-4 5,-70 5,-38 5,27 5,0 5,-24 5,18 5,22 5,-45 5,-14 5,53 5,-29 5,-13 5,-5 5,-14 5,13 5,51 5,-22 5,-1 5,-26 5,35 5,-14 5,0 5,-33 5,38 5,-7 5,12 5,-31 5,25 5,-35 5,62 5,-10 5,-11 5,6 5,48 5,13 5,-15 5,-20 5,18 5,2 5,-30 5,20 5,-12 5,-34 5,-54 5,73 5,10 5,-78 5,-35 5,9 5,13 5,-13 5,14 5,38 5,-54 5,-19 5,-12 5,38 5,-15 5,-11 5,-33 5,43 5,9 5,-33 5,25 5,2 5,19 5,-51 5,-17 5,-7 5,-3 5,-43 5,8 5,-10 5,60 5,-14 5,-8 5,-40 5,11 5,-10 5,-29 5,-10 5,-4 5,34 5,-37 5,-2 5,25 5,29 5,-18 5,19 5,-16 5,9 5,3 5,2 5,47 5,-23 5,-7 5,-10 5,-24 5,30 5,31 5,-32 5,5 5,7 5,10 5,-23 5,8 5,-20 5,16 5,-57 5,43 5,-14 5,-12 5,-3 5,2 5,-30 5,32 5,26 5,8 5,-22 5,28 5,-39 5,39 5,-20 5,-35 5,54 5,-24 5,-11 5,28 5,-16 5,-22 5,61 5,14 5,12 5,-57 5,38 5,-8 5,-5 5,6 5,-2 5,43 5,-61 5,-38 5,69 5,-38 5,-18 5,-35 5,-5 5,9 5,9 5,-52 5,21 5,-12 5,-31 5,-15 5,-15 5,24 5,33 5,-22 5,-22 5,34 5,-23 5,-25 5,6 5,23 5,-43 5,-14 5,64 5,-26 5,24 5,-80 5,21 5,31 5,-2 5,-17 5,47 5,31 5,-36 5,-8 5,9 5,-23 5,17 5,44 5,-40 5,-31 5,-1 5,34 5,-12 5,-9 5,28 5,-76 5,59 5,-1 5,-43 5,-9 5,-26 5,25 5,1 5,-12 5,-5 5,43 5,-18 5,-22 5,-15 5,-28 5,24 5,21 5,32 5,-44 5,-23 5,6 5,29 5,3 5,29 5,-68 5,33 5,29 5,-25 5,-26 5,0 5,30 5,-32 5,3 5,46 5,-41 5,-27 5,64 5,-6 5,-68 5,56 5,37 5,-2 5,-17 5,-19 5,8 5,-4 5,-14 5,9 5,13 5,-12 5,-20 5,29 5,27 5,-34 5,-34 5,-4 5,0 5,-30 5,19 5,30 5,-30 5,-11 5,12 5,-17 5,-18 5,26 5,-20 5,30 5,12 5,-49 5,3 5,79 5,-54 5,-27 5,41 5,26 5,-29 5,-22 5,19 5,33 5,19 5,0 5,-13 5,-14 5,67 5,-8 5,-50 5,79 5,-3 5,-3 5,-8 5,30 5,-12 5,-2 5,-15 5,-31 5,13 5,-18 5,-5 5,11 5,-22 5,-8 5,-2 5,20 5,21 5,-25 5,-15 5,6 5,4 5,-56 5,7 5,32 5,-61 5,0 5,14 5,53 5,-66 5,31 5,-19 5,-44 5,43 5,-19 5,-20 5,70 5,29 5,27 5,-34 5,-20 5,43 5,-14 5,10 5,35 5,-8 5,21 5,-13 5,-13 5,32 5,-40 5,-55 5,15 5,-39 5,26 5,43 5,8 5,-64 5,4 5,-21 5,1 5,-4 5,7 5,-42 5,-7 5,43 5,-17 5,-11 5,-69 5,43 5,4 5,-62 5,29 5,37 5,-37 5,-30 5,51 5,-26 5,23 5,6 5,-17 5,-8 5,-8 5,-48 5,20 5,11 5,-35 5,11 5,-12 5,-40 5,1 5,2 5,3 5,-23 5,-1 5,6 5,1 5,-33 5,10 5,8 5,21 5,-22 5,35 5,-33 5,49 5,17 5,-15 5,28 5,-62 5,43 5,46 5,-8 5,6 5,20 5,-12 5,-12 5,-41 5,53 5,6 5,-93 5,14 5,6 5,-8 5,36 5,-50 5,0 5,47 5,-28 5,-14 5,2 5,13 5,-11 5,34 5,-8 5,-13 5,1 5,25 5,-16 5,-11 5,12 5,-12 5,24 5,12 5,-19 5,17 5,24 5,-35 5,48 5,33 5,-38 5,-7 5,-22 5,17 5,-16 5,-9 5,15 5,-6 5,-35 5,16 5,-4 5,-30 5,6 5,-4 5,-49 5,23 5,23 5,-28 5,-14 5,10 5,-36 5,-45 5,7 5,14 5,-10 5,15 5,2 5,-36 5,-9 5,11 5,38 5,3 5,-72 5,35 5,-1 5,18 5,36 5,-32 5,4 5,-7 5,17 5,-2 5,19 5,-25 5,1 5,19 5,-46 5,-21 5,65 5,-22 5,-3 5,9 5,-25 5,13 5,-28 5,24 5,-6 5,11 5,12 5,9 5,-37 5,-3 5,-39 5,70 5,-37 5,-36 5,22 5,-12 5,2 5,13 5,-24 5,-18 5,-9 5,19 5,-33 5,-20 5,25 5,-12 5,1 5,22 5,-8 5,11 5,-23 5,-32 5,-5 5,17 5,-4 5,33 5,12 5,-11 5,25 5,-15 5,-17 5,-15 5,-10 5,77 5,-9 5,-3 5,-24 5,15 5,13 5,-5 5,15 5,-24 5,37 5,-33 5,10 5,-4 5,20 5,-57 5,1 5,14 5,-10 5,-35 5,24 5,8 5,5 5,-46 5,57 5,-26 5,-62 5,7 5,36 5,2 5,14 5,-46 5,15 5,39 5,-43 5,14 5,-25 5,52 5,-8 5,58 5,-17 5,24 5,-10 5,-25 5,24 5,-30 5,-13 5,66 5,-27 5,39 5,-8 5,-15 5,1 5,-24 5,42 5,-9 5,-41 5,-5 5,13 5,-34 5,18 5,18 5,23 5,-18 5,-7 5,-7 5,-39 5,-19 5,17 5,-3 5,13 5,-14 5,25 5,-5 5,-16 5,5 5,-28 5,-25 5,4 5,51 5,-60 5,9 5,-17 5,1 5,18 5,-19 5,36 5,0 5,-6 5,3 5,20 5,6 5,47 5,0 5,31 5,-25 5,-19 5,38 5,-5 5,-8 5,-53 5,-4 5,30 5,-29 5,6 5,15 5,-37 5,8 5,-11 5,-23 5,-14 5,-27 5,40 5,6 5,-13 5,-1 5,-54 5,38 5,-3 5,7 5,-17 5,-9 5,-17 5,-9 5,-12 5,9 5,33 5,-44 5,2 5,-80 5,21 5,11 5,-41 5,-21 5,24 5,-8" stroke="#0000ff" stroke-width="30.0"/>
</g>
<g stroke="#000" fill="none">
<line x1="217.2" y1="96.5" x2="217.2" y2="1112.0" stroke-width="4.6"/>
<line x1="1664.8" y1="96.5" x2="1664.8" y2="1112.0" stroke-width="4.6"/>
<line x1="214.9" y1="99.0" x2="1667.1" y2="99.0" stroke-width="4.2"/>
<line x1="214.9" y1="1109.5" x2="1667.1" y2="1109.5" stroke-width="4.2"/>
</g>
<g font-family="Liberation Sans, Arial, sans-serif" font-size="48" fill="#000">
<text x="226.0" y="63.8" id="one_A_leg" clip-path="url(#c_one_A_leg)">traj 1</text>
<text x="603.0" y="63.8">traj 2</text>
<text x="979.0" y="63.8">traj 3</text>
<text x="1357.0" y="63.8">traj 4</text>
</g>
<line x1="364.0" y1="47.5" x2="506.0" y2="47.5" stroke="#ff0000" stroke-width="3.4"/>
<line x1="741.0" y1="47.5" x2="882.0" y2="47.5" stroke="#00ff00" stroke-width="3.4"/>
<line x1="1118.0" y1="47.5" x2="1258.0" y2="47.5" stroke="#00ffff" stroke-width="3.4"/>
<line x1="1494.0" y1="47.5" x2="1636.0" y2="47.5" stroke="#0000ff" stroke-width="3.4"/>
<g font-family="Liberation Sans, Arial, sans-serif" font-size="56.5" fill="#000">
<text x="187.2" y="165.0" text-anchor="end">40</text>
<text x="187.2" y="256.8" text-anchor="end">30</text>
<text x="187.2" y="348.6" text-anchor="end">20</text>
<text x="187.2" y="440.4" text-anchor="end" id="one_A_y10" clip-path="url(#c_one_A_y10)">10</text>
<text x="187.2" y="532.2" text-anchor="end">0</text>
<text x="187.2" y="624.0" text-anchor="end" id="one_A_ym10" clip-path="url(#c_one_A_ym10)">-10</text>
<text x="187.2" y="715.8" text-anchor="end">-20</text>
<text x="187.2" y="807.6" text-anchor="end">-30</text>
<text x="187.2" y="899.4" text-anchor="end">-40</text>
<text x="187.2" y="991.2" text-anchor="end">-50</text>
<text x="187.2" y="1083.0" text-anchor="end">-60</text>
<text x="225.2" y="1177.0" text-anchor="middle" font-size="55.5">0</text>
<text x="514.7" y="1177.0" text-anchor="middle" font-size="55.5">0.02</text>
<text x="804.2" y="1177.0" text-anchor="middle" font-size="55.5">0.04</text>
<text x="1093.8" y="1177.0" text-anchor="middle" font-size="55.5">0.06</text>
<text x="1383.3" y="1177.0" text-anchor="middle" font-size="55.5">0.08</text>
<text x="1672.8" y="1177.0" text-anchor="middle" font-size="55.5" id="one_A_x01" clip-path="url(#c_one_A_x01)">0.1</text>
</g>
<text x="872.0" y="1253.5" font-family="Liberation Sans, Arial, sans-serif" font-size="62" fill="#000">t [<tspan dx="-3.0" font-family="Liberation Serif, serif" font-size="73">&#956;</tspan><tspan dx="1.0">s]</tspan></text>
<text transform="translate(72.0 647.0) rotate(-90)" font-family="Liberation Sans, Arial, sans-serif" font-size="64.0" fill="#000">[deg]</text>
<text transform="translate(72.0 684.5) rotate(-90) scale(1.080 1)" text-anchor="middle" font-family="Liberation Sans, sans-serif" font-style="italic" font-size="63.0" fill="#000">&#977;</text>
<text transform="translate(1800.9 1287.0) scale(1.000 1)" font-family="Liberation Serif, Times New Roman, serif" font-size="88.0" fill="#000">A</text>
<g stroke="#000" fill="none">
<line x1="229.0" y1="1458.5" x2="252.0" y2="1458.5" stroke-width="3"/>
<line x1="1640.5" y1="1458.5" x2="1663.5" y2="1458.5" stroke-width="3"/>
<line x1="229.0" y1="1549.5" x2="252.0" y2="1549.5" stroke-width="3"/>
<line x1="1640.5" y1="1549.5" x2="1663.5" y2="1549.5" stroke-width="3"/>
<line x1="229.0" y1="1640.5" x2="252.0" y2="1640.5" stroke-width="3"/>
<line x1="1640.5" y1="1640.5" x2="1663.5" y2="1640.5" stroke-width="3"/>
<line x1="229.0" y1="1731.5" x2="252.0" y2="1731.5" stroke-width="3"/>
<line x1="1640.5" y1="1731.5" x2="1663.5" y2="1731.5" stroke-width="3"/>
<line x1="229.0" y1="1913.5" x2="252.0" y2="1913.5" stroke-width="3"/>
<line x1="1640.5" y1="1913.5" x2="1663.5" y2="1913.5" stroke-width="3"/>
<line x1="229.0" y1="2004.5" x2="252.0" y2="2004.5" stroke-width="3"/>
<line x1="1640.5" y1="2004.5" x2="1663.5" y2="2004.5" stroke-width="3"/>
<line x1="229.0" y1="2095.5" x2="252.0" y2="2095.5" stroke-width="3"/>
<line x1="1640.5" y1="2095.5" x2="1663.5" y2="2095.5" stroke-width="3"/>
<line x1="229.0" y1="2186.5" x2="252.0" y2="2186.5" stroke-width="3"/>
<line x1="1640.5" y1="2186.5" x2="1663.5" y2="2186.5" stroke-width="3"/>
<line x1="229.0" y1="2277.5" x2="252.0" y2="2277.5" stroke-width="3"/>
<line x1="1640.5" y1="2277.5" x2="1663.5" y2="2277.5" stroke-width="3"/>
<line x1="229.0" y1="2368.5" x2="252.0" y2="2368.5" stroke-width="3"/>
<line x1="1640.5" y1="2368.5" x2="1663.5" y2="2368.5" stroke-width="3"/>
<line x1="515.9" y1="1412.5" x2="515.9" y2="1435.5" stroke-width="3"/>
<line x1="515.9" y1="2414.0" x2="515.9" y2="2391.0" stroke-width="3"/>
<line x1="802.8" y1="1412.5" x2="802.8" y2="1435.5" stroke-width="3"/>
<line x1="802.8" y1="2414.0" x2="802.8" y2="2391.0" stroke-width="3"/>
<line x1="1089.7" y1="1412.5" x2="1089.7" y2="1435.5" stroke-width="3"/>
<line x1="1089.7" y1="2414.0" x2="1089.7" y2="2391.0" stroke-width="3"/>
<line x1="1376.6" y1="1412.5" x2="1376.6" y2="1435.5" stroke-width="3"/>
<line x1="1376.6" y1="2414.0" x2="1376.6" y2="2391.0" stroke-width="3"/>
</g>
<g fill="none" stroke-linejoin="round" stroke-linecap="butt" shape-rendering="crispEdges" transform="scale(0.1)">
<path d="M2320,18180 l5,40 5,29 5,3 5,17 5,-28 5,5 5,-35 5,42 5,-11 5,24 5,22 5,-25 5,29 5,-10 5,35 5,-13 5,-5 5,32 5,-2 5,4 5,6 5,22 5,-44 5,38 5,-4 5,27 5,-1 5,0 5,48 5,-6 5,14 5,-43 5,3 5,-31 5,16 5,27 5,39 5,-6 5,-33 5,-17 5,51 5,17 5,-38 5,1 5,-2 5,12 5,14 5,16 5,-2 5,-23 5,2 5,37 5,-17 5,14 5,-22 5,-22 5,26 5,8 5,2 5,-6 5,0 5,-17 5,21 5,36 5,-19 5,-11 5,4 5,-24 5,43 5,6 5,10 5,11 5,-32 5,25 5,-24 5,-16 5,-10 5,18 5,15 5,22 5,-29 5,3 5,-46 5,25 5,15 5,10 5,18 5,-10 5,-29 5,-17 5,9 5,40 5,5 5,-82 5,-29 5,39 5,31 5,-33 5,-22 5,-12 5,-5 5,-3 5,13 5,3 5,-23 5,-1 5,-4 5,37 5,-29 5,34 5,-47 5,22 5,7 5,-61 5,48 5,-10 5,20 5,-8 5,-22 5,54 5,-21 5,-12 5,8 5,-19 5,-2 5,-22 5,-7 5,-15 5,18 5,-6 5,1 5,-13 5,41 5,0 5,9 5,-43 5,-4 5,29 5,-1 5,-43 5,8 5,16 5,-36 5,-21 5,34 5,18 5,16 5,-20 5,5 5,3 5,-16 5,-17 5,28 5,18 5,3 5,1 5,27 5,-11 5,-17 5,52 5,33 5,-45 5,-17 5,33 5,1 5,7 5,-8 5,-32 5,30 5,33 5,-13 5,-16 5,0 5,26 5,-6 5,-55 5,47 5,9 5,-9 5,-21 5,47 5,-25 5,-4 5,0 5,16 5,-7 5,-10 5,-40 5,56 5,-61 5,45 5,-4 5,-5 5,7 5,1 5,0 5,7 5,-10 5,-58 5,19 5,-4 5,-5 5,38 5,18 5,-70 5,56 5,-16 5,-14 5,29 5,13 5,-24 5,24 5,-30 5,-31 5,68 5,-31 5,-20 5,-5 5,22 5,0 5,-10 5,-7 5,41 5,-4 5,12 5,17 5,-11 5,-41 5,12 5,61 5,1 5,-48 5,-2 5,-9 5,21 5,12 5,12 5,-33 5,10 5,-21 5,3 5,54 5,-45 5,-11 5,-11 5,-28 5,35 5,20 5,-12 5,11 5,-27 5,6 5,-16 5,22 5,-55 5,40 5,-18 5,-12 5,4 5,40 5,7 5,-31 5,-18 5,-21 5,35 5,-28 5,-35 5,5 5,15 5,25 5,31 5,-38 5,-21 5,14 5,-14 5,-48 5,-6 5,47 5,-38 5,4 5,40 5,-13 5,-53 5,14 5,-24 5,20 5,-1 5,-7 5,40 5,-46 5,22 5,-22 5,25 5,-26 5,27 5,-18 5,21 5,-52 5,31 5,43 5,2 5,-48 5,-10 5,36 5,-39 5,-4 5,20 5,-25 5,12 5,23 5,32 5,-63 5,12 5,24 5,44 5,12 5,-41 5,-2 5,48 5,-19 5,-38 5,34 5,-17 5,5 5,31 5,-15 5,-38 5,62 5,-56 5,54 5,4 5,-12 5,40 5,-64 5,24 5,29 5,4 5,35 5,-1 5,-18 5,-7 5,18 5,-14 5,5 5,-4 5,-20 5,17 5,-12 5,34 5,32 5,1 5,0 5,11 5,-1 5,-29 5,12 5,-49 5,42 5,12 5,3 5,19 5,20 5,-23 5,25 5,-37 5,25 5,-16 5,-1 5,17 5,-4 5,-41 5,53 5,-2 5,-56 5,25 5,-56 5,41 5,-9 5,-28 5,38 5,8 5,-2 5,-24 5,6 5,-34 5,4 5,46 5,-28 5,-35 5,2 5,24 5,8 5,-16 5,23 5,-8 5,-5 5,-27 5,67 5,-65 5,2 5,17 5,17 5,-31 5,-16 5,27 5,24 5,16 5,-62 5,11 5,-17 5,34 5,1 5,-72 5,-10 5,25 5,0 5,-22 5,48 5,-72 5,12 5,39 5,-5 5,-11 5,-5 5,66 5,-68 5,0 5,17 5,32 5,-16 5,42 5,-41 5,10 5,-8 5,31 5,-58 5,-16 5,19 5,42 5,4 5,-13 5,-32 5,38 5,-4 5,10 5,12 5,-31 5,36 5,-29 5,-1 5,-50 5,71 5,29 5,-35 5,-9 5,51 5,-49 5,-49 5,37 5,20 5,3 5,-18 5,-31 5,55 5,-3 5,-8 5,7 5,-37 5,7 5,2 5,8 5,-2 5,-39 5,67 5,-18 5,1 5,-19 5,12 5,-17 5,-35 5,-2 5,27 5,22 5,-13 5,-43 5,30 5,-2 5,9 5,-53 5,4 5,-11 5,30 5,-12 5,12 5,-40 5,46 5,-39 5,41 5,4 5,15 5,-28 5,19 5,-44 5,31 5,-32 5,6 5,4 5,-2 5,5 5,-3 5,-42 5,50 5,-18 5,27 5,-9 5,13 5,-31 5,41 5,5 5,15 5,-34 5,-18 5,26 5,-3 5,-11 5,22 5,-42 5,-7 5,11 5,54 5,-22 5,15 5,38 5,-7 5,-15 5,21 5,-10 5,-51 5,-6 5,1 5,3 5,31 5,-4 5,-25 5,24 5,-33 5,29 5,-10 5,-5 5,2 5,-34 5,24 5,26 5,-31 5,-15 5,-33 5,4 5,-14 5,1 5,-26 5,39 5,24 5,-34 5,4 5,-27 5,13 5,12 5,-18 5,-47 5,-12 5,-2 5,15 5,-11 5,7 5,-27 5,34 5,-12 5,-12 5,-12 5,2 5,-10 5,-9 5,-14 5,57 5,8 5,-7 5,37 5,-10 5,-11 5,5 5,-25 5,17 5,-29 5,7 5,4 5,-9 5,48 5,11 5,-9 5,-29 5,27 5,1 5,27 5,-66 5,76 5,-3 5,-37 5,50 5,-17 5,-25 5,13 5,3 5,17 5,3 5,2 5,13 5,-5 5,-4 5,-14 5,24 5,7 5,8 5,-15 5,15 5,35 5,-5 5,-39 5,-6 5,9 5,8 5,23 5,-10 5,10 5,-13 5,35 5,33 5,-19 5,-7 5,-35 5,31 5,1 5,44 5,-39 5,-3 5,-3 5,-12 5,11 5,2 5,-4 5,-1 5,-13 5,-20 5,27 5,6 5,-14 5,35 5,-14 5,-27 5,7 5,39 5,-2 5,-40 5,2 5,19 5,-14 5,-61 5,22 5,38 5,-14 5,-2 5,-22 5,31 5,-12 5,-19 5,38 5,3 5,-50 5,-7 5,22 5,63 5,-15 5,-8 5,-4 5,4 5,19 5,17 5,-78 5,12 5,47 5,1 5,25 5,-23 5,-10 5,-23 5,14 5,-49 5,37 5,-37 5,18 5,-58 5,23 5,-32 5,19 5,-28 5,49 5,-4 5,-42 5,43 5,1 5,38 5,-34 5,-24 5,45 5,-33 5,24 5,-48 5,26 5,-16 5,-16 5,75 5,-59 5,27 5,-1 5,40 5,-8 5,-12 5,-20 5,-12 5,19 5,16 5,-10 5,20 5,-59 5,15 5,66 5,-57 5,24 5,-43 5,-8 5,-13 5,35 5,27 5,-6 5,-6 5,-31 5,32 5,24 5,-30 5,13 5,-13 5,-21 5,12 5,-16 5,-20 5,36 5,-3 5,5 5,26 5,-3 5,8 5,-4 5,16 5,-8 5,-9 5,-12 5,16 5,-4 5,-49 5,-31 5,60 5,-39 5,27 5,-38 5,19 5,36 5,-37 5,0 5,-35 5,17 5,16 5,3 5,-7 5,-4 5,3 5,9 5,-44 5,-24 5,0 5,48 5,16 5,14 5,-17 5,-52 5,-9 5,13 5,18 5,12 5,14 5,-21 5,-10 5,-27 5,43 5,-15 5,-12 5,24 5,-15 5,3 5,-36 5,16 5,0 5,26 5,-18 5,43 5,-6 5,-28 5,-2 5,10 5,17 5,-7 5,-11 5,49 5,-5 5,-20 5,16 5,-5 5,2 5,-38 5,25 5,0 5,-40 5,34 5,-18 5,17 5,-31 5,17 5,14 5,13 5,23 5,-29 5,-43 5,11 5,-13 5,14 5,1 5,-16 5,-23 5,-42 5,-3 5,32 5,-4 5,6 5,-38 5,20 5,-42 5,-28 5,6 5,31 5,-32 5,0 5,7 5,-14 5,30 5,-17 5,7 5,20 5,-4 5,-7 5,-37 5,-7 5,12 5,2 5,3 5,-25 5,46 5,10 5,-36 5,52 5,28 5,-15 5,-9 5,-52 5,7 5,16 5,-2 5,6 5,40 5,-27 5,25 5,15 5,2 5,-10 5,39 5,-15 5,8 5,-54 5,31 5,12 5,-24 5,-8 5,2 5,-45 5,78 5,-22 5,-2 5,-31 5,81 5,-2 5,7 5,-40 5,-29 5,49 5,39 5,-8 5,-12 5,-1 5,12 5,17 5,-9 5,53 5,-36 5,2 5,44 5,-9 5,11 5,-79 5,43 5,18 5,5 5,-24 5,15 5,-10 5,36 5,-36 5,46 5,-45 5,3 5,60 5,4 5,-56 5,21 5,2 5,29 5,-80 5,49 5,0 5,-17 5,-33 5,26 5,31 5,-33 5,8 5,-32 5,-29 5,68 5,-16 5,-1 5,-32 5,48 5,-19 5,-51 5,32 5,14 5,-29 5,42 5,-37 5,15 5,-25 5,0 5,20 5,-8 5,-6 5,67 5,-8 5,-4 5,-41 5,-13 5,29 5,-39 5,40 5,5 5,-1 5,-11 5,-29 5,-4 5,10 5,-33 5,-9 5,-9 5,13 5,13 5,-42 5,33 5,8 5,-30 5,5 5,17 5,17 5,0 5,-18 5,-15 5,6 5,10 5,3 5,16 5,-51 5,29 5,59 5,-6 5,9 5,-21 5,-41 5,4 5,-22 5,29 5,12 5,-16 5,42 5,-10 5,-35 5,20 5,-9 5,-28 5,75 5,-32 5,-23 5,-8 5,30 5,42 5,11 5,-63 5,39 5,-56 5,37 5,18 5,4 5,-25 5,36 5,-6 5,-12 5,4 5,2 5,-26 5,-14 5,68 5,-51 5,4 5,-56 5,23 5,30 5,-36 5,17 5,-14 5,-38 5,38 5,34 5,-46 5,-26 5,1 5,-17 5,32 5,-33 5,36 5,-16 5,-9 5,-20 5,-12 5,35 5,-3 5,-3 5,-11 5,28 5,-40 5,3 5,53 5,-55 5,27 5,-32 5,14 5,-11 5,-1 5,-12 5,28 5,17 5,-47 5,13 5,4 5,-6 5,17 5,40 5,-6 5,-51 5,55 5,-32 5,-1 5,-11 5,-9 5,30 5,-25 5,10 5,33 5,17 5,-45 5,9 5,-18 5,39 5,14 5,-23 5,0 5,0 5,-11 5,0 5,6 5,31 5,-13 5,-9 5,29 5,-31 5,8 5,-1 5,-13 5,10 5,-4 5,7 5,-8 5,-32 5,17 5,26 5,-11 5,-35 5,1 5,13 5,-29 5,-19 5,11 5,20 5,-49 5,7 5,-17 5,9 5,-32 5,1 5,-2 5,12 5,-11 5,-35 5,24 5,-7 5,-59 5,23 5,-34 5,31 5,35 5,-26 5,44 5,-26 5,12 5,-20 5,-5 5,27 5,7 5,29 5,-17 5,-8 5,-7 5,10 5,-22 5,-15 5,41 5,-22 5,32 5,21 5,-33 5,-7 5,19 5,6 5,0 5,-33 5,37 5,17 5,-42 5,50 5,35 5,-2 5,-39 5,-1 5,33 5,-33 5,-15 5,9 5,3 5,10 5,-11 5,40 5,-53 5,13 5,39 5,43 5,22 5,-14 5,-47 5,0 5,33 5,21 5,-28 5,-10 5,40 5,6 5,-21 5,16 5,35 5,-13 5,-24 5,48 5,-13 5,3 5,-45 5,24 5,15 5,-22 5,8 5,-9 5,20 5,-27 5,10 5,-16 5,-33 5,-3 5,23 5,11 5,26 5,7 5,3 5,-63 5,16 5,-2 5,-17 5,29 5,-4 5,4 5,-6 5,10 5,-61 5,42 5,-22 5,45 5,-21 5,19 5,-47 5,32 5,-9 5,-8 5,-44 5,42 5,-11 5,-29 5,24 5,8 5,-43 5,57 5,-22 5,-2 5,-17 5,60 5,0 5,-16 5,24 5,1 5,-36 5,38 5,27 5,-45 5,6 5,2 5,2 5,-39 5,-34 5,65 5,-36 5,41 5,-37 5,-10 5,33 5,-10 5,-52 5,9 5,-4 5,26 5,22 5,-33 5,4 5,1 5,-31 5,39 5,-20 5,-23 5,2 5,18 5,8 5,-33 5,-7 5,-5 5,21 5,22 5,8 5,-44 5,62 5,-4 5,-25 5,-10 5,12 5,10 5,-19 5,69 5,0 5,15 5,-25 5,-36 5,22 5,4 5,-8 5,25 5,-13 5,-29 5,9 5,-6 5,43 5,9 5,-18 5,1 5,-47 5,16 5,3 5,-16 5,28 5,-44 5,36 5,-26 5,39 5,-44 5,-45 5,-13 5,22 5,-18 5,35 5,15 5,-11 5,-16 5,22 5,-13 5,16 5,-45 5,-5 5,24 5,-14 5,-45 5,52 5,-2 5,34 5,-24 5,-35 5,16 5,9 5,-70 5,38 5,31 5,3 5,-10 5,-3 5,-39 5,7 5,-13 5,24 5,2 5,13 5,47 5,-21 5,14 5,-37 5,9 5,27 5,-54 5,25 5,-38 5,9 5,54 5,16 5,-13 5,-40 5,23 5,-1 5,21 5,-42 5,14 5,22 5,6 5,44 5,-31 5,-40 5,-7 5,37 5,-42 5,26 5,44 5,22 5,-7 5,-35 5,-25 5,-10 5,11 5,8 5,7 5,4 5,-48 5,18 5,7 5,9 5,-37 5,-46 5,59 5,-27 5,3 5,24 5,-76 5,74 5,-67 5,11 5,-2 5,-31 5,67 5,-79 5,-25 5,25 5,12 5,-55 5,-6 5,38 5,7 5,18 5,-49 5,-17 5,41 5,-24 5,31 5,0 5,44 5,4 5,-26 5,-56 5,61 5,20 5,-33 5,-1 5,21 5,-32 5,19 5,-14 5,7 5,-6 5,9 5,33 5,-57 5,6 5,-14 5,21 5,7 5,1 5,41 5,-37 5,45 5,-56 5,85 5,-38 5,25 5,15 5,-51 5,1 5,40 5,22 5,-51 5,27 5,4 5,-28 5,14 5,37 5,8 5,11 5,-33 5,31 5,-7 5,-2 5,35 5,-21 5,34 5,-32 5,-25 5,38 5,-10 5,8 5,27 5,-22 5,-35 5,16 5,12 5,22 5,9 5,10 5,7 5,-27 5,-35 5,21 5,20 5,-22 5,-8 5,54 5,-42 5,21 5,14 5,-6 5,13 5,-28 5,-37 5,33 5,37 5,-64 5,32 5,-58 5,25 5,18 5,12 5,-40 5,7 5,-16 5,19 5,-2 5,-23 5,42 5,7 5,-5 5,-14 5,16 5,16 5,2 5,-96 5,-1 5,50 5,1 5,15 5,-6 5,-20 5,34 5,5 5,9 5,-43 5,50 5,-35 5,21 5,-16 5,10 5,-22 5,-17 5,-43 5,49 5,-2 5,-28 5,7 5,21 5,-37 5,-5 5,-8 5,16 5,-13 5,12 5,-10 5,6 5,-22 5,23 5,-11 5,-5 5,-1 5,10 5,-20 5,18 5,12 5,-4 5,-25 5,10 5,22 5,-4 5,-25 5,7 5,28 5,-59 5,59 5,-26 5,-34 5,35 5,-24 5,13 5,59 5,-35 5,53 5,-10 5,-23 5,17 5,-3 5,9 5,24 5,-77 5,31 5,-18 5,37 5,12 5,-63 5,40 5,-11 5,-42 5,9 5,-27 5,48 5,31 5,-29 5,21 5,-5 5,2 5,-19 5,-36 5,64 5,-79 5,29 5,-47 5,42 5,37 5,-11 5,-23 5,27 5,-30 5,-21 5,61 5,-25 5,-37 5,45 5,-59 5,24 5,13 5,28 5,-27 5,17 5,-31 5,2 5,-15 5,-12 5,18 5,-32 5,39 5,-43 5,18 5,-8 5,8 5,-13 5,9 5,-7 5,21 5,-37 5,40 5,-26 5,-3 5,53 5,-13 5,-18 5,-15 5,50 5,6 5,-43 5,19 5,-1 5,5 5,42 5,-4 5,10 5,-56 5,19 5,-4 5,-18 5,-24 5,40 5,-20 5,4 5,23 5,-66 5,39 5,-51 5,53 5,18 5,-23 5,-37 5,31 5,9 5,2 5,-37 5,-18 5,-31 5,1 5,0 5,-4 5,12 5,1 5,-6 5,-54 5,43 5,-62 5,23 5,5 5,-4 5,1 5,-24 5,55 5,-45 5,10 5,-18 5,4 5,-16 5,23 5,-2 5,-21 5,44 5,-52 5,53 5,-71 5,17 5,24 5,-6 5,-8 5,36 5,-10 5,-25 5,16 5,42 5,-8 5,14 5,-33 5,27 5,35 5,-33 5,5 5,-10 5,24 5,2 5,-25 5,7 5,8 5,-23 5,24 5,7 5,-10 5,7 5,34 5,-21 5,1 5,12 5,-34 5,9 5,18 5,-13 5,7 5,12 5,-25 5,34 5,10 5,0 5,4 5,35 5,4 5,13 5,42 5,-8 5,-57 5,9 5,9 5,0 5,12 5,18 5,-53 5,0 5,17 5,44 5,-10 5,-49 5,-2 5,46 5,16 5,1 5,-37 5,10 5,27 5,29 5,-22 5,10 5,-19 5,-10 5,-16 5,15 5,-26 5,-10 5,35 5,8 5,-18 5,-15 5,-27 5,16 5,21 5,-35 5,12 5,-19 5,-7 5,-6 5,-1 5,-6 5,0 5,-5 5,-17 5,66 5,-25 5,13 5,-49 5,83 5,-58 5,-12 5,-32 5,21 5,17 5,-38 5,7 5,40 5,59 5,-58 5,-7 5,16 5,1 5,47 5,-38 5,93 5,-77 5,-12 5,42 5,-19 5,-33 5,40 5,-19 5,-30 5,-9 5,19 5,-4 5,-5 5,14 5,-6 5,-19 5,-3 5,14 5,-26 5,-35 5,5 5,29 5,-17 5,16 5,8 5,-29 5,13 5,8 5,17 5,-14 5,4 5,12 5,-30 5,-32 5,18 5,30 5,-12 5,15 5,-3 5,-7 5,31 5,-13 5,-25 5,32 5,9 5,-27 5,-33 5,73 5,-21 5,-1 5,-7 5,-19 5,19 5,25 5,-26 5,23 5,-51 5,27 5,13 5,-10 5,6 5,15 5,-11 5,36 5,-13 5,-16 5,2 5,-8 5,14 5,-49 5,30 5,-4 5,-6 5,7 5,-2 5,-46 5,13 5,8 5,-28 5,21 5,4 5,-16 5,-42 5,74 5,-10 5,-27 5,23 5,-27 5,-38 5,36 5,-31 5,-11 5,12 5,-23 5,10 5,31 5,-26 5,15 5,-22 5,33 5,29 5,-63 5,6 5,-8 5,12 5,11 5,-18 5,11 5,28 5,-47 5,29 5,35 5,-38 5,-41 5,11 5,55 5,-21 5,11 5,-20 5,2 5,33 5,34 5,-57 5,19 5,19 5,16 5,-18 5,6 5,-14 5,4 5,8 5,-61 5,26 5,20 5,10 5,-1 5,29 5,-52 5,-33 5,28 5,6 5,-15 5,39 5,26 5,-34 5,-35 5,51 5,-72 5,45 5,-27 5,-15 5,20 5,-19 5,-25 5,26 5,39 5,-31 5,-13 5,30 5,-58 5,-35 5,13 5,27 5,-19 5,-25 5,-26 5,22 5,16 5,-29 5,-25 5,-36 5,25 5,-2 5,34 5,1 5,19 5,-1 5,-17 5,19 5,22 5,-12 5,5 5,21 5,-8 5,-25 5,7 5,18 5,-16 5,-15 5,16 5,28 5,-5 5,-54 5,41 5,-3 5,-18 5,13 5,7 5,-13 5,45 5,-27 5,-10 5,-32 5,11 5,-10 5,75 5,-46 5,62 5,9 5,-94 5,26 5,62 5,-35 5,13 5,6 5,5 5,25 5,-33 5,11 5,24 5,2 5,4 5,-3 5,16 5,10 5,24 5,-54 5,39 5,-1 5,18 5,-12 5,1 5,-8 5,0 5,6 5,-27 5,1 5,39 5,1 5,0 5,-13 5,29 5,-37 5,27 5,32 5,-22 5,-2 5,39 5,-34 5,33 5,-10 5,-16 5,-26 5,-25 5,-28 5,5 5,-19 5,71 5,19 5,-84 5,13 5,-5 5,16 5,-5 5,-19 5,40 5,-5 5,-8 5,-26 5,20 5,-25 5,5 5,36 5,-27 5,-36 5,34 5,-22 5,16 5,-15 5,3 5,39 5,-15 5,25 5,-31 5,4 5,-8 5,10 5,14 5,8 5,-10 5,-10 5,25 5,-20 5,-10 5,9 5,24 5,-26 5,-18 5,12 5,-17 5,-4 5,14 5,-25 5,27 5,-16 5,-1 5,-49 5,34 5,-19 5,11 5,7 5,-28 5,17 5,30 5,6 5,-20 5,-3 5,-6 5,28 5,-19 5,-17 5,24 5,18 5,-18 5,-49 5,47 5,-9 5,-3 5,-21 5,65 5,-5 5,8 5,-50 5,23 5,30 5,-13 5,18 5,-15 5,21 5,-35 5,0 5,38 5,-53 5,37 5,10 5,-49 5,17 5,6 5,-11 5,-28 5,48 5,-29 5,-20 5,46 5,-16 5,26 5,-60 5,21 5,-9 5,43 5,-21 5,-20 5,-24 5,18 5,9 5,-26 5,15 5,21 5,-38 5,31 5,-27 5,-34 5,4 5,-16 5,45 5,-12 5,-19 5,-9 5,-11 5,31 5,-12 5,-12 5,-36 5,34 5,4 5,47 5,-49 5,-30 5,52 5,-30 5,22 5,-14 5,20 5,-8 5,-14 5,17 5,19 5,-37 5,-11 5,-10 5,15 5,23 5,15 5,0 5,-7 5,37 5,-53 5,18 5,-6 5,5 5,57 5,-27 5,-9 5,20 5,14 5,-38 5,17 5,-31 5,-22 5,36 5,-1 5,-36 5,-3 5,-28 5,30 5,42 5,-47 5,22 5,-13 5,-3 5,0 5,-1 5,14 5,-22 5,18 5,-24 5,-26 5,-4 5,23 5,-13 5,15 5,-71 5,33 5,16 5,-31 5,2 5,18 5,-18 5,-11 5,-26 5,-7 5,6 5,5 5,44 5,-43 5,-26 5,9 5,10 5,27 5,3 5,-4 5,-44 5,33 5,-9 5,8 5,-8 5,16 5,-14 5,19 5,-6 5,41 5,-14 5,-12 5,1 5,2 5,-2 5,-12 5,26 5,8 5,-46 5,33 5,-31 5,35 5,10 5,-28 5,3 5,48 5,-46 5,29 5,-3 5,-50 5,63 5,-10 5,13 5,34 5,-12 5,-38 5,1 5,-35 5,34 5,48 5,-15 5,35 5,-29 5,-14 5,29 5,-3 5,-41 5,7 5,66 5,35 5,3 5,-7 5,-20 5,6 5,37 5,-10 5,2 5,-1 5,4 5,-47 5,34 5,-38 5,14 5,-1 5,40 5,-24 5,38 5,-2 5,-12 5,-12 5,11 5,22 5,-2 5,-17 5,-23 5,-12 5,11 5,-29 5,52 5,-45 5,18 5,33 5,-67 5,14 5,12 5,27 5,-8 5,-31 5,-55 5,13 5,26 5,2 5,39 5,-13 5,-38 5,55 5,-14 5,-32 5,-35 5,22 5,56 5,-69 5,62 5,-22 5,17 5,-10 5,-23 5,33 5,2 5,-47 5,33 5,-26 5,-5 5,68 5,-42 5,-9 5,2 5,32 5,-42 5,19 5,-42 5,-1 5,33 5,-7 5,-10 5,-9 5,5 5,-25 5,23 5,-13 5,21 5,-43 5,-5 5,3 5,-29 5,19 5,25 5,-40 5,7 5,15 5,13 5,-15 5,-12 5,21 5,29 5,-30 5,-12 5,-16 5,44 5,-15 5,26 5,-28 5,-12 5,10 5,61 5,-18 5,-27 5,15 5,14 5,-15 5,11 5,3 5,-39 5,17 5,55 5,-46 5,0 5,-18 5,30 5,13 5,-16 5,10 5,-22 5,38 5,-1 5,-28 5,5 5,-41 5,29 5,10 5,39 5,-46 5,-23 5,18 5,46 5,-29 5,-30 5,1 5,0 5,17 5,-27 5,10 5,-48 5,9 5,14 5,-3 5,-15 5,6 5,-2 5,-58 5,25 5,4 5,19 5,32 5,-47 5,-51 5,40 5,25 5,-16 5,-20 5,-20 5,14 5,18 5,-12 5,-11 5,-4 5,-42 5,42 5,8 5,-35 5,49 5,-57 5,71 5,-27 5,-34 5,81 5,-22 5,-1 5,20 5,-6 5,0 5,11 5,-8 5,-25 5,21 5,16 5,-49 5,7 5,56 5,-57 5,7 5,30 5,-30 5,29 5,-5 5,-27 5,36 5,-9 5,-37 5,25 5,-5 5,-6 5,-46 5,72 5,-32 5,-1 5,29 5,3 5,-28 5,-34 5,30 5,15 5,-23 5,20 5,-68 5,-9 5,15 5,-16 5,39 5,-51 5,-27 5,35 5,-39 5,24 5,-37 5,31 5,-44 5,13 5,38 5,-19 5,-29 5,-15 5,15 5,28 5,39 5,2 5,-36 5,-18 5,18 5,35 5,-29 5,3 5,-8 5,20 5,-37 5,18 5,10 5,-11 5,-14 5,33 5,45 5,-7 5,-30 5,33 5,-36 5,9 5,-3 5,-27 5,77 5,-9 5,-19 5,3 5,-52 5,41 5,23 5,-10 5,2 5,26 5,-14 5,27 5,-17 5,-17 5,7 5,52 5,-16 5,-59 5,57 5,27 5,-1 5,-4 5,-52 5,51 5,-15 5,-20 5,13 5,-26 5,1 5,-6 5,43 5,22 5,20 5,-17 5,34 5,-26 5,-40 5,4 5,41 5,-14 5,9 5,34 5,-34 5,31 5,-18 5,48 5,-57 5,11 5,10 5,41 5,13 5,-15 5,-46 5,49 5,-16 5,-26 5,32 5,10 5,-59 5,17 5,5 5,-24 5,22 5,-21 5,-15 5,-24 5,-29 5,19 5,41 5,-13 5,1 5,-11 5,-19 5,15 5,-21 5,6 5,4 5,-50 5,43 5,-5 5,38 5,-74 5,34 5,4 5,13 5,-2 5,-27 5,2 5,6 5,-12 5,31 5,4 5,0 5,-36 5,-22 5,33 5,-6 5,-11 5,60 5,-70 5,-9 5,17 5,-8 5,28 5,-13 5,-14 5,-28 5,68 5,-58 5,31 5,-8 5,47 5,-57 5,10 5,-9 5,38 5,-48 5,-5 5,12 5,28 5,24 5,-22 5,-3 5,1 5,-13 5,-17 5,9 5,21 5,20 5,0 5,0 5,-28 5,31 5,29 5,-17 5,-37 5,51 5,-24 5,7 5,3 5,-41 5,-5 5,13 5,21 5,1 5,1 5,-42 5,-4 5,50 5,-25 5,-19 5,41 5,4 5,-43 5,23 5,9 5,33 5,-56 5,0 5,-6 5,4 5,18 5,5 5,-16 5,-39 5,-4 5,1 5,-3 5,43 5,-54 5,-24 5,-5 5,28 5,17 5,-21 5,36 5,18 5,-16 5,31 5,-17 5,-10 5,-4 5,1 5,-15 5,40 5,13 5,-32 5,-26 5,-4 5,27 5,18 5,-8 5,-18 5,-2 5,-9 5,42 5,37 5,-61 5,23 5,26 5,-18 5,35 5,-46 5,33 5,8 5,13 5,-70 5,40 5,18 5,-23 5,8 5,39 5,-14 5,-24 5,37 5,-9 5,43 5,-58 5,24 5,44 5,-17 5,-25 5,-11 5,49 5,-37 5,39 5,20 5,-12 5,-12 5,20 5,-45 5,56 5,0 5,-16 5,35 5,-37 5,-13 5,32 5,-35 5,2 5,17 5,25 5,46 5,-14 5,1 5,-57 5,9" stroke="#ff0000" stroke-width="30.0"/>
<path d="M2320,18204 l5,-12 5,-31 5,-3 5,-2 5,20 5,18 5,-26 5,18 5,-68 5,-28 5,64 5,20 5,-54 5,-13 5,16 5,15 5,-37 5,-10 5,5 5,1 5,-8 5,37 5,-13 5,-9 5,-38 5,61 5,-35 5,64 5,13 5,-35 5,-38 5,67 5,-16 5,5 5,-16 5,-9 5,4 5,-44 5,7 5,-8 5,52 5,-16 5,-3 5,-28 5,5 5,-6 5,12 5,-29 5,37 5,-35 5,31 5,-39 5,65 5,3 5,-10 5,-16 5,34 5,-30 5,25 5,-36 5,0 5,44 5,-15 5,24 5,19 5,1 5,-20 5,17 5,14 5,-20 5,23 5,-45 5,21 5,-18 5,31 5,-32 5,29 5,-14 5,-3 5,47 5,-15 5,-3 5,-4 5,9 5,-33 5,89 5,-8 5,-20 5,-17 5,36 5,-44 5,19 5,10 5,-1 5,18 5,-17 5,60 5,-7 5,-22 5,21 5,21 5,-31 5,14 5,42 5,11 5,-47 5,43 5,15 5,-10 5,44 5,-30 5,-24 5,-27 5,25 5,47 5,-37 5,-18 5,53 5,-12 5,-55 5,6 5,-18 5,40 5,-54 5,0 5,4 5,47 5,12 5,-12 5,-13 5,-26 5,24 5,-4 5,14 5,8 5,-38 5,-5 5,65 5,-4 5,-22 5,27 5,32 5,23 5,-10 5,-18 5,9 5,35 5,15 5,23 5,4 5,-44 5,21 5,39 5,-17 5,-20 5,-15 5,-33 5,8 5,4 5,6 5,-32 5,-21 5,-20 5,-30 5,40 5,-6 5,3 5,-62 5,32 5,-15 5,45 5,-11 5,-5 5,-71 5,16 5,15 5,-36 5,37 5,-41 5,57 5,-16 5,-34 5,15 5,34 5,-31 5,-18 5,50 5,-68 5,25 5,20 5,-33 5,-5 5,-38 5,6 5,13 5,-1 5,-6 5,13 5,-53 5,65 5,7 5,-14 5,-27 5,-4 5,-16 5,-12 5,-8 5,-3 5,9 5,-8 5,-11 5,-44 5,79 5,-32 5,27 5,-8 5,-45 5,-19 5,-18 5,18 5,-18 5,-24 5,18 5,39 5,-17 5,2 5,5 5,31 5,-17 5,-6 5,-3 5,-23 5,67 5,-8 5,-6 5,-84 5,18 5,11 5,-23 5,5 5,-7 5,14 5,-3 5,-6 5,30 5,-47 5,19 5,52 5,-66 5,25 5,-5 5,55 5,-74 5,25 5,-17 5,-18 5,28 5,-59 5,18 5,1 5,-10 5,24 5,44 5,-30 5,27 5,-19 5,-7 5,18 5,-32 5,-34 5,31 5,20 5,38 5,-52 5,-40 5,40 5,-4 5,7 5,-1 5,-25 5,6 5,4 5,13 5,13 5,-7 5,-21 5,-14 5,0 5,-8 5,18 5,-15 5,17 5,-4 5,0 5,22 5,-14 5,-12 5,-27 5,25 5,-13 5,1 5,-36 5,32 5,-31 5,48 5,-43 5,9 5,61 5,28 5,-41 5,19 5,23 5,-5 5,-15 5,-17 5,17 5,10 5,-42 5,-28 5,36 5,-22 5,22 5,-13 5,-10 5,-8 5,55 5,-23 5,-19 5,-17 5,22 5,-31 5,18 5,-18 5,15 5,-36 5,18 5,4 5,35 5,-24 5,4 5,-38 5,6 5,20 5,-8 5,14 5,-19 5,11 5,-44 5,16 5,-21 5,-39 5,48 5,-32 5,3 5,18 5,-15 5,-24 5,-15 5,-27 5,33 5,-12 5,-26 5,37 5,24 5,-13 5,-30 5,-12 5,14 5,-4 5,-55 5,36 5,8 5,-24 5,-3 5,0 5,1 5,3 5,-46 5,32 5,17 5,-18 5,-22 5,24 5,-4 5,16 5,-40 5,11 5,-33 5,44 5,-30 5,12 5,17 5,-20 5,-18 5,27 5,-14 5,32 5,40 5,-81 5,23 5,-3 5,35 5,-8 5,-12 5,-1 5,-23 5,49 5,-12 5,-48 5,-13 5,34 5,-9 5,-26 5,-18 5,31 5,34 5,-41 5,47 5,-43 5,-24 5,44 5,42 5,-28 5,21 5,-22 5,-11 5,21 5,-5 5,-71 5,65 5,-9 5,-30 5,-18 5,12 5,20 5,-5 5,10 5,-2 5,18 5,-36 5,35 5,-31 5,7 5,-3 5,37 5,5 5,10 5,-19 5,-13 5,25 5,31 5,-49 5,3 5,24 5,-43 5,9 5,-13 5,1 5,-21 5,48 5,-23 5,13 5,-9 5,-7 5,12 5,-5 5,12 5,-55 5,27 5,22 5,-20 5,34 5,-6 5,8 5,-1 5,19 5,19 5,-20 5,8 5,-23 5,-17 5,-4 5,15 5,-14 5,46 5,-22 5,8 5,31 5,-33 5,36 5,8 5,-13 5,-19 5,9 5,9 5,-20 5,22 5,1 5,12 5,32 5,3 5,-15 5,-6 5,-15 5,11 5,-21 5,35 5,32 5,23 5,-32 5,27 5,14 5,-16 5,-19 5,15 5,22 5,-22 5,-10 5,-12 5,-22 5,37 5,-9 5,13 5,34 5,-9 5,-32 5,-8 5,-4 5,-9 5,19 5,4 5,-23 5,32 5,-12 5,44 5,-5 5,-17 5,-19 5,24 5,38 5,-23 5,-35 5,75 5,3 5,-4 5,-18 5,-20 5,-5 5,5 5,40 5,-54 5,28 5,-14 5,-26 5,2 5,36 5,27 5,18 5,0 5,-28 5,41 5,-27 5,7 5,16 5,-7 5,-41 5,17 5,-15 5,67 5,-56 5,-6 5,50 5,-31 5,33 5,-89 5,34 5,20 5,-32 5,10 5,39 5,18 5,-18 5,-18 5,-63 5,-9 5,53 5,-14 5,28 5,-3 5,-55 5,54 5,14 5,-12 5,2 5,-29 5,-4 5,-6 5,-5 5,25 5,-27 5,-2 5,31 5,3 5,11 5,-26 5,29 5,-34 5,22 5,20 5,12 5,-33 5,16 5,5 5,11 5,14 5,-45 5,16 5,-37 5,36 5,-19 5,-29 5,41 5,-13 5,-30 5,-24 5,18 5,20 5,15 5,-42 5,-59 5,6 5,34 5,4 5,-7 5,-16 5,-8 5,20 5,-57 5,12 5,4 5,2 5,31 5,-44 5,-53 5,20 5,5 5,-29 5,-26 5,22 5,7 5,24 5,-58 5,14 5,56 5,-30 5,-22 5,-21 5,-12 5,45 5,2 5,-13 5,2 5,-4 5,-9 5,-24 5,17 5,-28 5,28 5,43 5,18 5,-5 5,-29 5,8 5,24 5,-26 5,-33 5,46 5,-13 5,-17 5,18 5,-25 5,13 5,6 5,-33 5,14 5,15 5,-31 5,8 5,20 5,-14 5,-22 5,5 5,-7 5,7 5,-8 5,10 5,-22 5,52 5,-4 5,1 5,-35 5,11 5,5 5,-55 5,21 5,-28 5,42 5,-23 5,-20 5,38 5,5 5,5 5,-16 5,36 5,-14 5,-24 5,-31 5,16 5,8 5,20 5,1 5,-34 5,2 5,29 5,-18 5,-7 5,2 5,19 5,-19 5,-47 5,66 5,-5 5,-39 5,6 5,13 5,50 5,10 5,33 5,-24 5,-31 5,23 5,-37 5,7 5,53 5,0 5,-21 5,-16 5,21 5,-15 5,1 5,-29 5,9 5,-34 5,-2 5,-15 5,8 5,-12 5,47 5,-26 5,4 5,13 5,35 5,-7 5,-43 5,17 5,29 5,-10 5,-3 5,3 5,30 5,-16 5,30 5,-12 5,-20 5,8 5,27 5,-10 5,11 5,54 5,-20 5,-3 5,0 5,-35 5,62 5,-42 5,31 5,21 5,7 5,1 5,15 5,-3 5,-17 5,-14 5,1 5,-12 5,7 5,11 5,7 5,11 5,-15 5,-8 5,-17 5,-51 5,-3 5,40 5,-1 5,-12 5,65 5,17 5,17 5,-26 5,-14 5,33 5,-37 5,-11 5,67 5,27 5,-8 5,-9 5,26 5,-60 5,19 5,22 5,40 5,0 5,-48 5,-15 5,26 5,-42 5,35 5,37 5,-39 5,23 5,-15 5,12 5,41 5,-28 5,-43 5,8 5,40 5,-5 5,-18 5,8 5,28 5,-31 5,-9 5,32 5,-10 5,7 5,-13 5,-7 5,5 5,-5 5,28 5,13 5,-3 5,-7 5,-89 5,34 5,35 5,-16 5,-18 5,31 5,-26 5,14 5,-53 5,18 5,15 5,14 5,-9 5,-1 5,27 5,-27 5,-9 5,-5 5,10 5,11 5,-45 5,29 5,19 5,-30 5,55 5,19 5,-26 5,-41 5,32 5,-5 5,14 5,-8 5,-39 5,6 5,30 5,-22 5,-27 5,15 5,39 5,24 5,-45 5,-34 5,21 5,-9 5,37 5,-18 5,-10 5,-26 5,5 5,33 5,-39 5,35 5,-1 5,-33 5,11 5,-41 5,33 5,1 5,-40 5,12 5,15 5,-49 5,-46 5,39 5,23 5,-62 5,-23 5,22 5,21 5,-19 5,-45 5,-17 5,25 5,-37 5,40 5,-17 5,-5 5,-55 5,14 5,57 5,-12 5,17 5,-51 5,43 5,-49 5,8 5,13 5,-2 5,-8 5,0 5,14 5,-6 5,2 5,48 5,-27 5,-20 5,-18 5,13 5,33 5,-25 5,3 5,-7 5,-49 5,35 5,-26 5,35 5,7 5,-36 5,34 5,27 5,-8 5,-47 5,50 5,-4 5,-23 5,-12 5,8 5,-47 5,6 5,50 5,38 5,-44 5,18 5,23 5,-60 5,-24 5,42 5,-8 5,-14 5,19 5,14 5,10 5,-5 5,-30 5,-29 5,11 5,-3 5,-3 5,2 5,-10 5,11 5,-23 5,22 5,-6 5,6 5,-17 5,-10 5,20 5,-47 5,14 5,-23 5,30 5,39 5,-29 5,14 5,13 5,-22 5,29 5,7 5,-22 5,1 5,63 5,-3 5,-15 5,1 5,9 5,-20 5,23 5,0 5,29 5,-17 5,-33 5,42 5,-6 5,19 5,19 5,-38 5,-23 5,-10 5,4 5,-10 5,-5 5,11 5,-46 5,23 5,-21 5,48 5,-22 5,-21 5,-36 5,21 5,14 5,-24 5,-11 5,18 5,-20 5,34 5,3 5,7 5,9 5,20 5,26 5,17 5,-24 5,22 5,-14 5,54 5,-20 5,-18 5,-18 5,-3 5,25 5,49 5,-37 5,27 5,-19 5,-41 5,61 5,2 5,-32 5,4 5,33 5,6 5,-16 5,7 5,19 5,-16 5,44 5,-29 5,-34 5,10 5,8 5,-6 5,-6 5,22 5,-19 5,2 5,-3 5,-20 5,19 5,30 5,33 5,-19 5,3 5,-22 5,36 5,25 5,-11 5,-14 5,48 5,-18 5,-46 5,46 5,-1 5,10 5,0 5,-31 5,43 5,-1 5,22 5,-29 5,10 5,-46 5,45 5,-30 5,23 5,-1 5,-1 5,25 5,-16 5,2 5,-5 5,2 5,0 5,45 5,-35 5,-39 5,64 5,-28 5,-7 5,1 5,-31 5,64 5,27 5,-66 5,22 5,-36 5,53 5,21 5,-36 5,5 5,-10 5,-16 5,0 5,14 5,-34 5,31 5,-11 5,24 5,-45 5,-7 5,-20 5,-6 5,64 5,22 5,-33 5,3 5,-25 5,3 5,-17 5,45 5,-22 5,33 5,-40 5,63 5,-60 5,5 5,44 5,-16 5,6 5,18 5,-50 5,7 5,8 5,-18 5,-29 5,14 5,22 5,25 5,-31 5,17 5,-5 5,-12 5,-6 5,-10 5,9 5,40 5,-5 5,-52 5,19 5,-38 5,10 5,12 5,-44 5,29 5,31 5,0 5,-36 5,-13 5,1 5,-27 5,-36 5,-9 5,10 5,26 5,-18 5,-21 5,-5 5,-27 5,-24 5,23 5,-21 5,-21 5,17 5,-3 5,54 5,-46 5,6 5,20 5,-26 5,-33 5,42 5,-27 5,-9 5,-32 5,26 5,-13 5,54 5,24 5,-24 5,-9 5,-43 5,8 5,20 5,-10 5,12 5,-31 5,20 5,23 5,-44 5,35 5,-3 5,12 5,-14 5,-23 5,7 5,24 5,-9 5,-16 5,-4 5,25 5,-21 5,3 5,-1 5,0 5,8 5,20 5,-26 5,0 5,22 5,10 5,-32 5,-38 5,6 5,10 5,26 5,-10 5,-10 5,-4 5,-3 5,-7 5,19 5,-40 5,21 5,29 5,-22 5,-32 5,78 5,-9 5,-26 5,-1 5,3 5,-33 5,5 5,55 5,-2 5,-49 5,-32 5,35 5,-13 5,-10 5,41 5,-9 5,-29 5,43 5,-35 5,30 5,2 5,34 5,-2 5,5 5,-16 5,26 5,-1 5,-68 5,16 5,-4 5,52 5,-6 5,26 5,-9 5,-28 5,11 5,-26 5,-7 5,56 5,-58 5,5 5,39 5,-33 5,-38 5,-1 5,-11 5,11 5,15 5,27 5,-32 5,-4 5,43 5,-35 5,4 5,-5 5,-32 5,15 5,23 5,23 5,-13 5,4 5,-8 5,29 5,-17 5,1 5,31 5,-26 5,13 5,4 5,55 5,-25 5,24 5,11 5,6 5,21 5,1 5,-31 5,6 5,-6 5,4 5,15 5,-27 5,43 5,-18 5,-21 5,24 5,39 5,-47 5,7 5,-14 5,38 5,-21 5,49 5,-48 5,11 5,-51 5,34 5,21 5,3 5,-11 5,29 5,-50 5,9 5,29 5,5 5,32 5,-7 5,-49 5,21 5,0 5,-6 5,6 5,27 5,1 5,38 5,-17 5,8 5,-59 5,40 5,18 5,0 5,37 5,-24 5,-20 5,33 5,-69 5,13 5,41 5,9 5,7 5,-48 5,34 5,15 5,-25 5,-5 5,-14 5,4 5,3 5,-4 5,-11 5,-16 5,46 5,-31 5,10 5,0 5,-46 5,-12 5,9 5,60 5,-6 5,-12 5,-63 5,69 5,-19 5,-34 5,35 5,34 5,-60 5,-17 5,70 5,12 5,-32 5,1 5,12 5,-42 5,61 5,-54 5,14 5,-12 5,27 5,-10 5,-8 5,12 5,0 5,14 5,6 5,-22 5,-27 5,22 5,49 5,-5 5,5 5,-4 5,-26 5,17 5,40 5,-25 5,25 5,-33 5,-4 5,5 5,-51 5,8 5,-19 5,33 5,-23 5,-16 5,9 5,-19 5,-14 5,8 5,3 5,9 5,-33 5,37 5,-24 5,-52 5,37 5,-31 5,27 5,22 5,-25 5,1 5,-27 5,41 5,-68 5,-4 5,-16 5,-3 5,7 5,-19 5,-21 5,11 5,-24 5,-20 5,14 5,26 5,19 5,-3 5,-56 5,50 5,3 5,-12 5,-20 5,-29 5,15 5,37 5,-32 5,21 5,-26 5,32 5,1 5,8 5,-46 5,16 5,-20 5,24 5,-32 5,36 5,-3 5,7 5,-23 5,2 5,-13 5,0 5,-10 5,-22 5,56 5,-23 5,-29 5,36 5,25 5,-34 5,12 5,20 5,-38 5,11 5,3 5,-11 5,23 5,1 5,-35 5,-8 5,13 5,0 5,55 5,-8 5,-26 5,-25 5,0 5,2 5,4 5,-35 5,-8 5,17 5,25 5,-16 5,10 5,40 5,-25 5,26 5,-30 5,-1 5,2 5,-15 5,-10 5,2 5,23 5,14 5,7 5,-13 5,-21 5,10 5,0 5,-22 5,16 5,32 5,20 5,-20 5,19 5,23 5,-22 5,-42 5,-15 5,68 5,-10 5,-23 5,15 5,25 5,-34 5,42 5,-37 5,-10 5,27 5,-4 5,-8 5,-9 5,-4 5,-32 5,28 5,-22 5,15 5,-35 5,24 5,-12 5,-10 5,-10 5,-30 5,36 5,-23 5,58 5,-55 5,49 5,-8 5,4 5,13 5,21 5,11 5,-14 5,-32 5,10 5,26 5,-21 5,12 5,-17 5,57 5,-9 5,2 5,12 5,-25 5,28 5,20 5,28 5,-25 5,9 5,-36 5,-6 5,29 5,50 5,-24 5,-23 5,5 5,-10 5,-22 5,4 5,34 5,0 5,32 5,5 5,-58 5,7 5,-1 5,39 5,41 5,-40 5,-4 5,6 5,39 5,-30 5,52 5,-53 5,-33 5,3 5,63 5,-13 5,6 5,18 5,-9 5,30 5,-40 5,64 5,4 5,-19 5,-22 5,0 5,11 5,42 5,-13 5,0 5,-21 5,-4 5,-24 5,23 5,30 5,-53 5,46 5,-19 5,-13 5,-7 5,31 5,-17 5,6 5,-59 5,26 5,1 5,-11 5,15 5,5 5,28 5,-16 5,-12 5,-20 5,7 5,-22 5,-15 5,39 5,-31 5,55 5,-24 5,-39 5,42 5,-1 5,10 5,8 5,30 5,-10 5,4 5,9 5,13 5,-2 5,-25 5,-9 5,-25 5,5 5,44 5,-47 5,26 5,4 5,-4 5,-5 5,-6 5,38 5,-23 5,-23 5,21 5,35 5,-34 5,28 5,-5 5,23 5,-33 5,-6 5,20 5,-17 5,4 5,49 5,-37 5,0 5,-4 5,-21 5,-45 5,31 5,0 5,-6 5,0 5,-18 5,11 5,-4 5,-29 5,-6 5,10 5,5 5,-20 5,6 5,-42 5,6 5,29 5,-35 5,-6 5,-16 5,-16 5,-48 5,25 5,15 5,-11 5,4 5,-1 5,-8 5,-24 5,25 5,9 5,-50 5,29 5,-2 5,-58 5,-20 5,-23 5,55 5,15 5,-18 5,22 5,-3 5,-23 5,-28 5,17 5,13 5,-45 5,3 5,32 5,14 5,-12 5,29 5,-33 5,-16 5,12 5,30 5,-3 5,2 5,-2 5,-23 5,10 5,29 5,3 5,8 5,-52 5,39 5,-27 5,39 5,-40 5,29 5,-41 5,-27 5,32 5,-4 5,37 5,-36 5,13 5,-18 5,25 5,-14 5,-6 5,-11 5,6 5,5 5,26 5,12 5,-60 5,5 5,41 5,-13 5,13 5,-24 5,-33 5,-1 5,12 5,8 5,32 5,-12 5,0 5,-28 5,8 5,-16 5,-2 5,53 5,-47 5,2 5,7 5,-5 5,40 5,-48 5,15 5,12 5,-25 5,36 5,-27 5,53 5,-65 5,56 5,-26 5,20 5,-9 5,33 5,-13 5,-23 5,27 5,19 5,7 5,22 5,-49 5,51 5,6 5,1 5,-46 5,-9 5,-17 5,23 5,4 5,-25 5,38 5,-61 5,3 5,13 5,15 5,9 5,-14 5,-45 5,25 5,-28 5,11 5,-8 5,2 5,20 5,-6 5,6 5,-2 5,-14 5,0 5,55 5,-19 5,0 5,7 5,35 5,21 5,13 5,-15 5,-38 5,54 5,30 5,-10 5,-43 5,-17 5,76 5,-35 5,8 5,-21 5,30 5,4 5,-21 5,-1 5,-6 5,29 5,-11 5,-12 5,44 5,3 5,19 5,-88 5,-8 5,80 5,-14 5,-64 5,5 5,47 5,7 5,24 5,-46 5,-4 5,97 5,-37 5,17 5,-12 5,11 5,2 5,-21 5,-20 5,25 5,15 5,-7 5,20 5,-29 5,2 5,60 5,-11 5,25 5,-31 5,54 5,-26 5,-7 5,14 5,-15 5,-4 5,-6 5,52 5,16 5,-36 5,8 5,2 5,-19 5,45 5,-44 5,-60 5,57 5,6 5,-35 5,-18 5,33 5,42 5,-25 5,-48 5,8 5,55 5,-29 5,-21 5,16 5,-6 5,-35 5,36 5,-26 5,1 5,19 5,-30 5,1 5,12 5,-1 5,11 5,-7 5,29 5,-21 5,1 5,8 5,8 5,-27 5,-37 5,42 5,-39 5,45 5,18 5,-37 5,-37 5,23 5,24 5,25 5,-19 5,7 5,-30 5,23 5,11 5,-46 5,58 5,-29 5,29 5,-29 5,1 5,28 5,6 5,-14 5,24 5,-28 5,-1 5,19 5,-15 5,7 5,-55 5,-9 5,-15 5,-3 5,53 5,-34 5,-41 5,27 5,17 5,-34 5,10 5,-10 5,-52 5,21 5,6 5,-4 5,-39 5,-23 5,-2 5,-13 5,40 5,-35 5,-43 5,4 5,39 5,-55 5,-6 5,32 5,-29 5,-32 5,14 5,-14 5,54 5,31 5,10 5,-68 5,20 5,-41 5,15 5,27 5,14 5,-24 5,-8 5,33 5,-61 5,13 5,37 5,-44 5,17 5,34 5,2 5,2 5,5 5,8 5,-42 5,10 5,-22 5,16 5,-13 5,20 5,-8 5,-23 5,29 5,-30 5,-19 5,43 5,33 5,-19 5,-44 5,-22 5,32 5,22 5,0 5,44 5,-25 5,-22 5,8 5,-15 5,51 5,-18 5,-49 5,63 5,-34 5,-17 5,-30 5,-19 5,9 5,76 5,-71 5,10 5,-14 5,3 5,50 5,-47 5,18 5,23 5,-28 5,36 5,-16 5,-14 5,4 5,12 5,-1 5,8 5,-5 5,-23 5,4 5,24 5,-27 5,-19 5,4 5,27 5,-16 5,-9 5,-27 5,43 5,57 5,-1 5,35 5,-54 5,32 5,28 5,2 5,10 5,-13 5,-38 5,9 5,25 5,-13 5,-51 5,-5 5,21 5,5 5,-29 5,-48 5,45 5,-25 5,31 5,14 5,-18 5,-48 5,60 5,6 5,-14 5,30 5,0 5,-27 5,-22 5,27 5,-31 5,10 5,43 5,10 5,-56 5,61 5,4 5,45 5,-45 5,-6 5,22 5,19 5,-16 5,-24 5,32 5,2 5,29 5,11 5,14 5,-2 5,-22 5,-20 5,14 5,-1 5,17 5,-21 5,38 5,-16 5,3 5,0 5,-52 5,57 5,19 5,3 5,-6 5,-33 5,-16 5,46 5,-14 5,16 5,6 5,-7 5,20 5,1 5,-15 5,36 5,43 5,-11 5,-32 5,-17 5,40 5,33 5,-44 5,-9 5,-18 5,28 5,-29 5,24 5,-13 5,-29 5,18 5,-36 5,42 5,-11 5,-4 5,38 5,-6 5,-12 5,-7 5,21 5,6 5,3 5,37 5,-22 5,-16 5,21 5,-8 5,-18 5,55 5,-15 5,3 5,57 5,-1 5,-25 5,12 5,7 5,-60 5,-10 5,10 5,14 5,4 5,-27 5,-12 5,-21 5,-8 5,9 5,23 5,27 5,18 5,-55 5,-20 5,26 5,-22 5,16 5,10 5,2 5,11 5,-21 5,-12 5,12 5,-2 5,-20 5,31 5,9 5,21 5,0 5,-52 5,-20 5,34 5,-19 5,-10 5,15 5,31 5,-10 5,-16 5,8 5,6 5,22 5,1 5,-9 5,-9 5,5 5,24 5,-2 5,-42 5,-21 5,4 5,39 5,-12 5,25 5,-69 5,-8 5,-25 5,15 5,10 5,16 5,-1 5,-47 5,41 5,-23 5,-25 5,-4 5,6 5,-2 5,-11 5,-55 5,30 5,-2 5,-2 5,-19 5,-36 5,-4 5,33 5,-72 5,-21 5,1 5,30 5,-32 5,34 5,6 5,-31 5,-8 5,34 5,8 5,-34 5,30 5,-10 5,-7 5,33 5,-35 5,-34 5,59 5,2 5,5 5,-21 5,-1 5,-4 5,-13 5,-37 5,67 5,7 5,-17 5,-25 5,5 5,30 5,-34 5,8 5,3 5,36 5,-51 5,6 5,-11 5,2 5,-6 5,47 5,-26 5,31 5,-60 5,2 5,-5 5,-13 5,11 5,-11 5,38 5,5 5,-35 5,-1 5,11 5,10 5,-27 5,23 5,16 5,-19 5,14 5,-39 5,35 5,-21 5,-35 5,45 5,36 5,-19 5,-11 5,-21 5,-20 5,38 5,15 5,-8 5,-2 5,-2 5,-23 5,50 5,-39 5,2 5,-5 5,-14 5,24 5,-10 5,23 5,24 5,51 5,-45 5,-30 5,-7 5,46 5,42 5,-19 5,7 5,44 5,-20 5,11 5,3 5,-64 5,40 5,-63 5,36 5,11 5,-63 5,1 5,7 5,6 5,6 5,-29 5,4 5,-29 5,27 5,-70 5,62 5,-2 5,-10 5,31 5,-22 5,32 5,6 5,-63 5,34 5,-41 5,74 5,10 5,7 5,-23 5,16 5,22 5,0 5,2 5,-18 5,-16 5,31 5,4 5,15 5,7 5,9 5,20 5,-28 5,53 5,8 5,-19 5,11 5,-11 5,-6 5,-18 5,31 5,10 5,-42 5,35 5,0 5,39 5,-38 5,30 5,-61 5,16 5,-19 5,42 5,-20 5,-25 5,9 5,-5 5,-9 5,18 5,16 5,-19 5,69 5,-36 5,-2 5,20 5,49 5,-8 5,1 5,-40 5,1 5,46 5,-36 5,69 5,-53 5,18 5,-10 5,-19 5,30 5,-32 5,60 5,-10 5,-19 5,11 5,12 5,-1 5,16 5,-17 5,5 5,-23 5,69 5,-27 5,-2 5,-13 5,10 5,3 5,-25 5,4 5,29 5,7 5,-10 5,-24 5,-35 5,10 5,33 5,-20 5,-31 5,11 5,9 5,9 5,-5 5,-7 5,22 5,-40 5,-11 5,27 5,14 5,2 5,-5 5,-17 5,3 5,-21 5,39 5,-14 5,-8 5,31 5,32 5,9 5,-50 5,20 5,-22 5,-28 5,-20 5,33 5,67 5,-48 5,-4 5,9 5,20 5,3 5,3 5,17 5,-47 5,-23 5,22 5,25 5,-13 5,-15 5,5 5,13 5,18 5,-52 5,-8 5,-10 5,12 5,-32 5,-23 5,51 5,37 5,-86 5,13 5,19 5,8 5,-34 5,22 5,5 5,-19 5,15 5,-35 5,-20 5,-39 5,42 5,-31 5,-36 5,16 5,15 5,-24 5,-25 5,1 5,-28 5,-18 5,7 5,5 5,-22 5,-22 5,16 5,16 5,5 5,-22 5,6 5,-10 5,10 5,22 5,16 5,-33 5,29 5,-29 5,-1 5,30 5,-42 5,14 5,10 5,-29 5,3 5,11 5,-1 5,22 5,-28 5,20 5,5 5,-35 5,14 5,-7 5,8 5,-40 5,42 5,-50 5,33 5,-24 5,21 5,-39 5,72 5,-12 5,-22 5,10 5,21 5,-1 5,-59 5,-6 5,25 5,-11 5,28 5,-9 5,31 5,-8 5,-37 5,13 5,-9 5,12 5,20 5,-51 5,-29 5,42 5,16 5,-12 5,7 5,-3 5,-17 5,40 5,-15 5,19 5,3 5,-21 5,0 5,12 5,10 5,1 5,5 5,-47 5,52 5,-26 5,38 5,-11 5,7 5,-15 5,-9 5,-3 5,39 5,12 5,23 5,-16 5,-11 5,13 5,-31 5,2 5,45 5,-3 5,-27 5,45 5,-45 5,38 5,-40 5,-4 5,-4 5,-43 5,42 5,-15 5,17 5,-40 5,14 5,-26 5,-2 5,-25 5,13 5,-14 5,26 5,16 5,-30 5,-28 5,0 5,48 5,-23 5,2 5,4 5,-19 5,3 5,-13 5,3 5,36 5,10 5,-70 5,23 5,45 5,6 5,-22 5,11 5,-66 5,22 5,-8 5,44 5,-6 5,-33 5,-6 5,-3 5,15 5,31 5,-19 5,-20 5,-26 5,26 5,30 5,10 5,-43 5,53 5,-14 5,-12 5,21 5,-16 5,51 5,-46 5,1 5,-3 5,1 5,6 5,23 5,-74 5,25 5,-3 5,20 5,-10 5,14 5,-24 5,26 5,25 5,-12 5,-44 5,23 5,-7 5,-54 5,7 5,-5 5,11 5,-9 5,-15 5,4 5,8 5,-11 5,7 5,-9 5,19 5,-59 5,25 5,21 5,-38 5,-5 5,-45 5,17 5,8 5,-37 5,-18 5,2 5,-48 5,48" stroke="#00ff00" stroke-width="30.0"/>
<path d="M2320,18200 l5,7 5,25 5,34 5,-7 5,33 5,-61 5,35 5,12 5,-39 5,6 5,25 5,-25 5,21 5,8 5,-25 5,39 5,-36 5,29 5,-13 5,-28 5,-20 5,63 5,-4 5,-3 5,6 5,16 5,-15 5,-40 5,49 5,-20 5,9 5,15 5,-4 5,-5 5,-3 5,41 5,26 5,-20 5,14 5,-35 5,48 5,-40 5,-13 5,1 5,23 5,-36 5,0 5,16 5,52 5,-10 5,-50 5,43 5,-36 5,3 5,5 5,40 5,-32 5,-3 5,41 5,-38 5,0 5,-52 5,0 5,14 5,27 5,21 5,41 5,-31 5,33 5,-25 5,36 5,-54 5,33 5,6 5,47 5,15 5,-24 5,33 5,-23 5,5 5,18 5,-3 5,21 5,-20 5,72 5,-22 5,10 5,39 5,-44 5,78 5,-17 5,-27 5,-5 5,3 5,32 5,-1 5,2 5,53 5,-18 5,-40 5,35 5,-23 5,35 5,23 5,-15 5,37 5,-28 5,30 5,-49 5,-2 5,6 5,33 5,-10 5,62 5,6 5,-54 5,68 5,-45 5,1 5,29 5,28 5,-43 5,35 5,18 5,20 5,-54 5,25 5,14 5,-29 5,15 5,12 5,-45 5,17 5,-32 5,28 5,3 5,13 5,-28 5,-8 5,13 5,30 5,15 5,-44 5,23 5,-11 5,-2 5,-19 5,-34 5,46 5,-53 5,23 5,1 5,8 5,-16 5,-8 5,-16 5,19 5,3 5,10 5,-11 5,5 5,-14 5,48 5,-34 5,51 5,7 5,-1 5,22 5,-4 5,45 5,-28 5,-27 5,12 5,21 5,57 5,6 5,-33 5,21 5,-27 5,27 5,43 5,-48 5,12 5,50 5,15 5,-15 5,9 5,-26 5,42 5,-31 5,5 5,28 5,-6 5,-5 5,-30 5,34 5,24 5,-26 5,25 5,0 5,46 5,-30 5,-8 5,0 5,-5 5,-5 5,11 5,9 5,-27 5,1 5,5 5,-26 5,46 5,29 5,0 5,-25 5,2 5,-18 5,-6 5,4 5,-54 5,-1 5,-7 5,20 5,-59 5,7 5,-10 5,-29 5,-15 5,-25 5,8 5,12 5,3 5,-10 5,59 5,14 5,-4 5,24 5,-27 5,1 5,26 5,12 5,-4 5,-18 5,22 5,-7 5,-7 5,50 5,-5 5,4 5,4 5,-2 5,10 5,-40 5,16 5,19 5,-23 5,5 5,35 5,0 5,-42 5,0 5,-33 5,8 5,57 5,33 5,-25 5,-22 5,10 5,-25 5,24 5,-36 5,0 5,15 5,-43 5,1 5,12 5,-40 5,33 5,14 5,0 5,-33 5,-24 5,44 5,16 5,-15 5,48 5,-25 5,20 5,2 5,-12 5,14 5,16 5,34 5,-5 5,8 5,-36 5,-12 5,4 5,-2 5,-32 5,1 5,-27 5,-3 5,-9 5,-6 5,21 5,-35 5,41 5,-18 5,11 5,-45 5,18 5,40 5,-71 5,11 5,-10 5,0 5,-19 5,10 5,22 5,0 5,-3 5,12 5,23 5,43 5,-6 5,-54 5,61 5,-46 5,38 5,40 5,24 5,-27 5,-21 5,34 5,39 5,22 5,-31 5,-4 5,-22 5,7 5,-14 5,-16 5,24 5,-13 5,-30 5,34 5,11 5,7 5,-35 5,-13 5,41 5,-41 5,-14 5,-33 5,44 5,15 5,-54 5,-1 5,12 5,24 5,-30 5,18 5,2 5,-37 5,18 5,25 5,-24 5,-13 5,-7 5,-28 5,17 5,4 5,44 5,-18 5,1 5,20 5,-37 5,24 5,-42 5,47 5,-31 5,5 5,11 5,9 5,-32 5,7 5,-21 5,33 5,29 5,-18 5,-77 5,3 5,42 5,48 5,-12 5,-21 5,-27 5,49 5,35 5,-12 5,-16 5,0 5,23 5,14 5,6 5,-4 5,11 5,49 5,35 5,-42 5,24 5,2 5,-37 5,-12 5,36 5,30 5,-12 5,37 5,-8 5,-24 5,27 5,41 5,-41 5,-10 5,-9 5,-1 5,-4 5,18 5,-8 5,-15 5,29 5,5 5,-58 5,8 5,41 5,-38 5,34 5,-67 5,34 5,-28 5,-10 5,12 5,-9 5,20 5,30 5,-18 5,15 5,-6 5,6 5,1 5,17 5,-32 5,28 5,61 5,20 5,-14 5,6 5,-6 5,-16 5,-52 5,5 5,54 5,-20 5,13 5,-12 5,25 5,-16 5,-8 5,-48 5,30 5,42 5,-5 5,-32 5,17 5,23 5,-22 5,-25 5,61 5,-37 5,-39 5,42 5,-14 5,-33 5,17 5,-12 5,-28 5,-8 5,54 5,-1 5,6 5,-17 5,-5 5,-23 5,49 5,26 5,-21 5,29 5,-13 5,10 5,-14 5,-6 5,22 5,36 5,-26 5,-2 5,-1 5,26 5,12 5,-23 5,13 5,7 5,4 5,-10 5,18 5,19 5,5 5,8 5,16 5,3 5,-21 5,-17 5,24 5,30 5,-66 5,70 5,-32 5,63 5,0 5,-41 5,1 5,7 5,18 5,5 5,29 5,17 5,-17 5,11 5,-8 5,-27 5,1 5,42 5,31 5,-33 5,51 5,-2 5,-41 5,21 5,-4 5,-17 5,30 5,0 5,-10 5,24 5,-17 5,-37 5,-18 5,33 5,30 5,-6 5,-7 5,-39 5,39 5,-1 5,-27 5,15 5,-49 5,32 5,30 5,10 5,-23 5,27 5,-27 5,4 5,13 5,2 5,6 5,-3 5,7 5,-17 5,5 5,13 5,-43 5,33 5,4 5,20 5,-11 5,-38 5,21 5,0 5,9 5,-9 5,-11 5,-20 5,36 5,-47 5,-9 5,-5 5,-14 5,-22 5,-5 5,-11 5,-1 5,-10 5,4 5,29 5,12 5,-38 5,47 5,-6 5,2 5,7 5,-20 5,2 5,-16 5,9 5,28 5,-3 5,18 5,6 5,-12 5,21 5,20 5,-9 5,48 5,15 5,-22 5,26 5,23 5,11 5,-17 5,-8 5,-42 5,51 5,-42 5,-30 5,46 5,1 5,-26 5,-28 5,19 5,3 5,-19 5,2 5,21 5,-20 5,-39 5,1 5,-4 5,-16 5,49 5,9 5,-17 5,-18 5,18 5,6 5,17 5,-17 5,3 5,6 5,0 5,-11 5,-8 5,-34 5,20 5,42 5,-67 5,7 5,83 5,-36 5,0 5,-8 5,14 5,1 5,-10 5,-43 5,27 5,-3 5,-40 5,15 5,9 5,28 5,22 5,-43 5,31 5,2 5,-39 5,6 5,51 5,6 5,57 5,-36 5,-28 5,72 5,37 5,-58 5,22 5,12 5,30 5,-27 5,-3 5,-23 5,76 5,-20 5,-7 5,9 5,12 5,-2 5,14 5,-10 5,28 5,-15 5,17 5,-5 5,-14 5,0 5,9 5,-20 5,-33 5,21 5,6 5,-49 5,77 5,-41 5,-1 5,-19 5,-8 5,35 5,-33 5,5 5,-17 5,26 5,1 5,-37 5,52 5,-29 5,19 5,-5 5,19 5,14 5,20 5,-5 5,-28 5,55 5,-44 5,79 5,-48 5,-20 5,61 5,-18 5,-8 5,27 5,21 5,-26 5,17 5,-20 5,-10 5,-11 5,-37 5,-6 5,42 5,-3 5,2 5,-25 5,-2 5,24 5,-29 5,17 5,-1 5,2 5,20 5,-18 5,43 5,-18 5,-38 5,56 5,-38 5,24 5,-29 5,20 5,18 5,-38 5,28 5,-25 5,42 5,5 5,-9 5,-14 5,-38 5,20 5,25 5,-19 5,16 5,-1 5,-5 5,14 5,52 5,-10 5,16 5,-61 5,49 5,-3 5,14 5,1 5,-22 5,24 5,-2 5,-41 5,17 5,32 5,25 5,-28 5,34 5,5 5,-21 5,15 5,36 5,-29 5,30 5,11 5,-2 5,36 5,-30 5,-15 5,4 5,40 5,-16 5,-3 5,-10 5,31 5,4 5,24 5,-10 5,-35 5,7 5,7 5,-27 5,10 5,-16 5,68 5,-10 5,-34 5,4 5,-16 5,-31 5,68 5,-41 5,8 5,13 5,-20 5,51 5,14 5,9 5,-38 5,-5 5,32 5,-12 5,19 5,20 5,-46 5,-24 5,53 5,-12 5,37 5,-7 5,-23 5,5 5,-21 5,23 5,61 5,-27 5,22 5,-36 5,15 5,8 5,-58 5,-12 5,62 5,-52 5,-17 5,-11 5,3 5,-5 5,-49 5,-19 5,-11 5,19 5,6 5,-4 5,0 5,48 5,-15 5,-15 5,3 5,-7 5,-30 5,38 5,14 5,-9 5,-18 5,-6 5,53 5,-24 5,23 5,9 5,42 5,-23 5,20 5,-16 5,-21 5,52 5,49 5,24 5,-24 5,-40 5,16 5,-18 5,53 5,-74 5,16 5,20 5,6 5,-28 5,-14 5,20 5,-1 5,22 5,-41 5,23 5,6 5,4 5,-9 5,-35 5,44 5,-9 5,-11 5,1 5,-17 5,-13 5,41 5,-38 5,-3 5,-14 5,46 5,4 5,-10 5,5 5,14 5,-75 5,26 5,35 5,-17 5,58 5,-38 5,39 5,-17 5,-22 5,33 5,-40 5,-24 5,25 5,37 5,-7 5,-2 5,-19 5,-40 5,20 5,26 5,26 5,-29 5,-4 5,-19 5,41 5,-3 5,9 5,29 5,-33 5,-8 5,23 5,44 5,-6 5,35 5,-26 5,12 5,33 5,-28 5,-5 5,36 5,11 5,33 5,-6 5,9 5,1 5,-20 5,25 5,-1 5,-17 5,51 5,-22 5,-23 5,12 5,-25 5,5 5,2 5,23 5,-11 5,-23 5,-56 5,38 5,-4 5,24 5,-40 5,-17 5,-29 5,40 5,-9 5,-7 5,0 5,32 5,4 5,-7 5,36 5,-8 5,10 5,-19 5,66 5,34 5,-30 5,4 5,7 5,-45 5,5 5,33 5,37 5,-17 5,-21 5,8 5,8 5,-11 5,16 5,19 5,-91 5,7 5,31 5,1 5,-22 5,10 5,-1 5,9 5,-10 5,-16 5,-2 5,3 5,5 5,61 5,-5 5,-45 5,14 5,-69 5,41 5,-40 5,86 5,-59 5,-30 5,-4 5,20 5,46 5,-11 5,28 5,-21 5,19 5,-28 5,4 5,57 5,3 5,-21 5,3 5,19 5,-12 5,2 5,27 5,-18 5,-3 5,41 5,-66 5,40 5,3 5,-15 5,3 5,-39 5,44 5,33 5,-43 5,-2 5,18 5,7 5,65 5,-47 5,4 5,37 5,4 5,-2 5,-19 5,33 5,-32 5,8 5,7 5,7 5,20 5,3 5,15 5,-44 5,50 5,-26 5,23 5,7 5,-17 5,-1 5,-8 5,8 5,11 5,18 5,3 5,-7 5,-21 5,30 5,-19 5,6 5,-15 5,21 5,-50 5,25 5,-12 5,27 5,-9 5,10 5,-23 5,29 5,-1 5,-22 5,21 5,19 5,-7 5,26 5,-9 5,-18 5,37 5,-20 5,42 5,-33 5,45 5,-19 5,51 5,2 5,-59 5,27 5,-31 5,72 5,-4 5,-57 5,13 5,-26 5,24 5,7 5,-1 5,-11 5,-29 5,2 5,-4 5,-3 5,-28 5,-7 5,-10 5,34 5,-71 5,10 5,18 5,23 5,-35 5,-33 5,-13 5,32 5,35 5,17 5,-45 5,27 5,34 5,-24 5,9 5,21 5,-19 5,26 5,28 5,-41 5,11 5,61 5,-63 5,54 5,39 5,-26 5,32 5,-7 5,23 5,19 5,1 5,8 5,5 5,-54 5,24 5,-17 5,12 5,21 5,-48 5,22 5,-47 5,29 5,16 5,-52 5,10 5,-22 5,34 5,-31 5,6 5,-29 5,-12 5,15 5,11 5,-22 5,33 5,29 5,-8 5,20 5,-24 5,23 5,-33 5,-21 5,34 5,-45 5,23 5,-11 5,39 5,-47 5,-2 5,1 5,53 5,-6 5,6 5,16 5,26 5,-46 5,33 5,24 5,-68 5,40 5,-29 5,12 5,-3 5,25 5,-18 5,60 5,8 5,1 5,12 5,-30 5,25 5,-16 5,44 5,-6 5,40 5,-33 5,6 5,-20 5,46 5,-11 5,15 5,17 5,18 5,-40 5,16 5,33 5,-14 5,-35 5,23 5,-14 5,29 5,-14 5,20 5,-14 5,-49 5,8 5,-35 5,14 5,42 5,-31 5,22 5,3 5,-20 5,-24 5,-41 5,46 5,-11 5,5 5,5 5,34 5,-29 5,42 5,12 5,-31 5,-18 5,15 5,34 5,-22 5,-24 5,17 5,20 5,45 5,-29 5,18 5,-13 5,-26 5,33 5,4 5,1 5,60 5,-56 5,4 5,-24 5,22 5,16 5,-4 5,16 5,-26 5,-19 5,31 5,33 5,-21 5,-16 5,27 5,-1 5,-24 5,18 5,-47 5,20 5,-38 5,38 5,-2 5,-20 5,1 5,18 5,-33 5,3 5,32 5,15 5,-18 5,19 5,-9 5,7 5,26 5,-4 5,-6 5,-41 5,51 5,-2 5,-1 5,-47 5,-12 5,76 5,-24 5,21 5,4 5,-1 5,-8 5,1 5,13 5,7 5,-2 5,-15 5,17 5,-52 5,48 5,34 5,-27 5,-20 5,5 5,10 5,-10 5,46 5,12 5,-44 5,14 5,8 5,-15 5,-4 5,72 5,-55 5,55 5,-2 5,-44 5,70 5,-10 5,-22 5,10 5,32 5,-6 5,-52 5,99 5,-52 5,10 5,14 5,-6 5,24 5,2 5,-47 5,19 5,8 5,-9 5,-32 5,-33 5,41 5,12 5,-7 5,-4 5,-16 5,29 5,-26 5,3 5,19 5,16 5,8 5,-22 5,24 5,6 5,-35 5,17 5,11 5,39 5,20 5,2 5,53 5,-20 5,-20 5,1 5,-15 5,-3 5,11 5,-20 5,35 5,27 5,-66 5,30 5,-57 5,46 5,-31 5,28 5,-15 5,-14 5,-52 5,3 5,-16 5,41 5,-29 5,-28 5,13 5,-47 5,44 5,41 5,-31 5,50 5,-28 5,26 5,20 5,-63 5,43 5,-3 5,25 5,-8 5,-36 5,37 5,14 5,-36 5,40 5,42 5,1 5,-1 5,5 5,-1 5,12 5,15 5,20 5,40 5,-43 5,-24 5,29 5,-15 5,5 5,-11 5,1 5,-4 5,29 5,-39 5,4 5,-16 5,-25 5,41 5,29 5,-32 5,24 5,-4 5,-39 5,5 5,13 5,13 5,-24 5,4 5,26 5,-29 5,5 5,23 5,-10 5,-2 5,-16 5,47 5,13 5,-43 5,24 5,-19 5,3 5,-18 5,17 5,-27 5,76 5,-3 5,-44 5,13 5,33 5,-44 5,-13 5,65 5,-22 5,-5 5,3 5,-14 5,37 5,16 5,-25 5,10 5,20 5,-26 5,33 5,11 5,-10 5,42 5,-15 5,-3 5,-1 5,31 5,-23 5,81 5,-20 5,33 5,-44 5,12 5,-27 5,22 5,-12 5,24 5,-16 5,-20 5,11 5,-10 5,31 5,48 5,-50 5,4 5,-35 5,13 5,31 5,-50 5,-20 5,51 5,-16 5,-44 5,43 5,-12 5,-29 5,-4 5,3 5,47 5,-48 5,6 5,15 5,16 5,-56 5,21 5,21 5,-33 5,0 5,-9 5,3 5,19 5,41 5,-16 5,37 5,40 5,5 5,-48 5,-6 5,45 5,2 5,-1 5,18 5,7 5,-12 5,27 5,-39 5,2 5,18 5,-1 5,-3 5,-6 5,18 5,5 5,-36 5,-8 5,-16 5,-22 5,70 5,-43 5,49 5,-34 5,-3 5,-38 5,31 5,-6 5,-6 5,-25 5,26 5,-12 5,7 5,9 5,3 5,-22 5,56 5,-13 5,-49 5,14 5,23 5,-3 5,33 5,6 5,-6 5,10 5,-51 5,50 5,20 5,-8 5,17 5,4 5,-1 5,-28 5,-14 5,-17 5,1 5,4 5,56 5,-4 5,38 5,-48 5,7 5,31 5,-2 5,11 5,-3 5,6 5,-58 5,90 5,-7 5,-22 5,8 5,-3 5,24 5,-38 5,43 5,-11 5,28 5,-60 5,55 5,4 5,-14 5,-17 5,-23 5,45 5,-28 5,68 5,-45 5,15 5,-26 5,20 5,-7 5,-8 5,-35 5,47 5,-27 5,3 5,1 5,8 5,-11 5,-21 5,20 5,3 5,5 5,21 5,-3 5,48 5,-9 5,-12 5,-25 5,25 5,71 5,-25 5,39 5,-31 5,-25 5,26 5,-13 5,40 5,-23 5,28 5,15 5,-36 5,47 5,-3 5,-43 5,0 5,20 5,-8 5,-4 5,-11 5,-3 5,-29 5,6 5,14 5,2 5,-21 5,7 5,15 5,-58 5,19 5,-28 5,29 5,-34 5,9 5,-25 5,40 5,-49 5,30 5,21 5,-12 5,-1 5,-6 5,22 5,-7 5,18 5,-25 5,17 5,29 5,18 5,35 5,23 5,-1 5,15 5,-16 5,13 5,19 5,36 5,-7 5,-35 5,57 5,-4 5,-45 5,21 5,-15 5,-6 5,21 5,-34 5,3 5,32 5,6 5,-60 5,11 5,10 5,-41 5,57 5,-7 5,-38 5,58 5,-14 5,-36 5,7 5,27 5,-65 5,22 5,30 5,13 5,23 5,-13 5,11 5,-13 5,11 5,-20 5,-18 5,36 5,-12 5,34 5,-20 5,18 5,15 5,26 5,-15 5,-9 5,3 5,14 5,11 5,-3 5,19 5,-21 5,-16 5,26 5,-16 5,-59 5,13 5,2 5,52 5,-37 5,13 5,-5 5,49 5,7 5,-28 5,47 5,50 5,7 5,10 5,-2 5,34 5,-32 5,-11 5,17 5,-29 5,82 5,-34 5,10 5,4 5,31 5,-8 5,-31 5,1 5,7 5,-12 5,9 5,9 5,-38 5,-34 5,14 5,23 5,-21 5,15 5,-47 5,10 5,22 5,-22 5,-27 5,-5 5,12 5,15 5,-27 5,17 5,8 5,13 5,-11 5,29 5,-73 5,-4 5,9 5,22 5,18 5,23 5,-15 5,29 5,-9 5,27 5,-7 5,-9 5,19 5,51 5,-56 5,-4 5,-13 5,38 5,-27 5,15 5,15 5,-14 5,56 5,-36 5,-1 5,-19 5,28 5,-39 5,18 5,-2 5,4 5,-25 5,14 5,16 5,0 5,4 5,-10 5,-29 5,-27 5,-13 5,5 5,-8 5,5 5,-4 5,22 5,10 5,3 5,22 5,-5 5,40 5,-27 5,-14 5,21 5,33 5,-1 5,-2 5,38 5,-11 5,-13 5,6 5,-28 5,-1 5,-19 5,31 5,-14 5,-1 5,22 5,23 5,-43 5,14 5,13 5,23 5,-48 5,21 5,-6 5,-30 5,39 5,3 5,-22 5,20 5,8 5,34 5,-49 5,-2 5,47 5,37 5,-33 5,20 5,13 5,13 5,24 5,-19 5,34 5,-20 5,11 5,-31 5,33 5,-10 5,-2 5,-28 5,41 5,-21 5,-19 5,10 5,-14 5,6 5,-21 5,-6 5,-32 5,-3 5,15 5,18 5,3 5,40 5,-11 5,-34 5,12 5,-16 5,19 5,63 5,-29 5,15 5,2 5,-21 5,5 5,-12 5,36 5,21 5,-3 5,33 5,-12 5,29 5,-7 5,-19 5,20 5,-23 5,35 5,24 5,-19 5,27 5,-3 5,-26 5,18 5,-17 5,-1 5,-5 5,8 5,-37 5,-23 5,-50 5,17 5,-19 5,13 5,20 5,-35 5,-4 5,18 5,-22 5,0 5,32 5,-29 5,-1 5,34 5,-20 5,4 5,1 5,23 5,-1 5,44 5,-1 5,-13 5,-27 5,80 5,-2 5,-10 5,48 5,10 5,6 5,-5 5,2 5,17 5,-2 5,31 5,-51 5,59 5,-46 5,32 5,-39 5,48 5,-46 5,13 5,5 5,-16 5,8 5,25 5,2 5,-43 5,49 5,-46 5,16 5,20 5,-31 5,33 5,6 5,-62 5,-3 5,21 5,12 5,1 5,34 5,-6 5,-12 5,-2 5,20 5,-46 5,61 5,16 5,-22 5,31 5,3 5,33 5,16 5,-55 5,-20 5,29 5,28 5,-10 5,24 5,-10 5,-25 5,12 5,12 5,0 5,-52 5,34 5,53 5,-11 5,-44 5,22 5,3 5,61 5,-42 5,1 5,36 5,-49 5,67 5,10 5,4 5,-13 5,-8 5,-5 5,11 5,55 5,2 5,-31 5,21 5,6 5,-2 5,15 5,10 5,-13 5,14 5,-15 5,-41 5,2 5,14 5,6 5,-46 5,-18 5,1 5,4 5,22 5,9 5,-22 5,-4 5,-23 5,-1 5,-29 5,19 5,10 5,39 5,12 5,-30 5,-17 5,-12 5,-26 5,42 5,-4 5,47 5,20 5,-12 5,-16 5,6 5,-22 5,19 5,-17 5,24 5,-1 5,-18 5,64 5,-5 5,-45 5,0 5,32 5,-3 5,13 5,26 5,-63 5,25 5,54 5,-3 5,-12 5,-17 5,14 5,-36 5,0 5,-17 5,13 5,-18 5,2 5,44 5,-29 5,-15 5,28 5,6 5,25 5,-32 5,-36 5,37 5,5 5,-16 5,-10 5,-2 5,28 5,19 5,6 5,3 5,4 5,-8 5,-2 5,19 5,-31 5,-1 5,-17 5,22 5,-21 5,28 5,52 5,-65 5,-14 5,34 5,17 5,-25 5,1 5,-14 5,21 5,-33 5,11 5,16 5,36 5,-25 5,3 5,7 5,25 5,1 5,-43 5,7 5,31 5,12 5,34 5,-61 5,50 5,-11 5,4 5,-27 5,44 5,25 5,-7 5,-2 5,0 5,41 5,-30 5,-20 5,7 5,-5 5,-6 5,16 5,-39 5,30 5,-34 5,2 5,50 5,-9 5,-36 5,16 5,-18 5,-27 5,10 5,-43 5,30 5,-30 5,25 5,10 5,7 5,18 5,11 5,-4 5,15 5,-25 5,-9 5,25 5,44 5,47 5,2 5,-54 5,49 5,-1 5,-3 5,16 5,18 5,-2 5,9 5,41 5,-9 5,-13 5,-22 5,11 5,-3 5,24 5,-14 5,3 5,-30 5,4 5,-69 5,25 5,27 5,29 5,-5 5,-56 5,15 5,-26 5,-4 5,-3 5,24 5,-39 5,17 5,-14 5,27 5,-28 5,2 5,10 5,37 5,-9 5,-35 5,-8 5,60 5,-16 5,72 5,-22 5,-16 5,31 5,25 5,-13 5,-5 5,45 5,27 5,2 5,31 5,6 5,-46 5,1 5,-20 5,-13 5,53 5,-25 5,21 5,5 5,-2 5,8 5,-43 5,54 5,-16 5,1 5,6 5,-73 5,-1 5,19 5,46 5,-26 5,0 5,8 5,17 5,2 5,30 5,-49 5,53 5,-7 5,35 5,-22 5,-10 5,-27 5,45 5,37 5,-9 5,8 5,-18 5,9 5,19 5,26 5,5 5,-9 5,-25 5,74 5,-80 5,21 5,-17 5,26 5,-40 5,11 5,-2 5,-5 5,35 5,31 5,24 5,11 5,-8 5,-61 5,55 5,-8 5,-9 5,-17 5,16 5,27 5,32 5,29 5,-28 5,-18 5,13 5,48 5,-22 5,6 5,-11 5,1 5,19 5,-9 5,12 5,-9 5,0 5,-11 5,39 5,12 5,-35 5,36 5,-29 5,-4 5,-45 5,4 5,-4 5,15 5,-24 5,-15 5,-6 5,28 5,-81 5,61 5,1 5,2 5,-10 5,-2 5,5 5,4 5,11 5,-41 5,28 5,17 5,-5 5,12 5,-31 5,-5 5,29 5,41 5,-37 5,33 5,-14 5,5 5,6 5,-3 5,-5 5,19 5,-18 5,-5 5,16 5,43 5,-40 5,6 5,46 5,-12 5,-65 5,29 5,-8 5,42 5,-40 5,31 5,33 5,-33 5,-15 5,-14 5,-6 5,14 5,61 5,-9 5,-50 5,32 5,-39 5,-25 5,14 5,44 5,7 5,-10 5,-30 5,37 5,26 5,-75 5,7 5,-4 5,17 5,40 5,-23 5,-4 5,-23 5,45 5,-63 5,32 5,15 5,23 5,-35 5,-1 5,16 5,-4 5,-7 5,-28 5,-24 5,27 5,8 5,17 5,-9 5,-27 5,47 5,-19 5,-29 5,18 5,19 5,2 5,23 5,1 5,27 5,25 5,-49 5,-5 5,45 5,-40 5,23 5,-6 5,-19 5,35 5,9 5,-26 5,14 5,-7 5,-2 5,5 5,-7 5,-7 5,58 5,-13 5,12 5,-55 5,-5 5,-42 5,53 5,-30 5,59 5,-30 5,-9 5,-13 5,30 5,-8 5,-1 5,-33 5,-21 5,52 5,-1 5,40 5,-24 5,-19 5,26 5,52 5,-26 5,55 5,14 5,-31 5,-24 5,33 5,32 5,44 5,-42 5,-2 5,20 5,-4 5,-16 5,-1 5,9 5,43 5,-33 5,-32 5,59 5,-17 5,20 5,19 5,-39 5,-47 5,20 5,-11 5,-14 5,-27 5,11 5,9 5,-51 5,19 5,-33 5,25 5,-9 5,21 5,7 5,47 5,-57 5,97 5,-29 5,-1 5,0 5,-46 5,69 5,-21 5,16 5,23 5,-2 5,39 5,-24 5,33 5,11 5,4 5,28 5,-29 5,29 5,-49 5,30 5,11 5,10 5,-8 5,-7 5,47 5,-39 5,-24 5,-15 5,31 5,-3 5,-23 5,20 5,18 5,-50 5,66 5,-15 5,12 5,2 5,-29 5,38 5,-4 5,-53 5,2 5,43 5,57 5,-71 5,46 5,20 5,-13 5,23 5,-20 5,39 5,0 5,-19 5,48 5,8 5,-21 5,16 5,-6 5,-11 5,-1 5,26 5,17 5,9 5,-5 5,1 5,0 5,11 5,10 5,-32 5,8 5,-1 5,30 5,-35 5,37 5,-49 5,29 5,41 5,-39 5,20 5,-15 5,16 5,7 5,-9 5,27 5,-29 5,24 5,8 5,39 5,-18 5,1 5,-13 5,7 5,22 5,13 5,-12 5,-25 5,0 5,46 5,-21 5,-4 5,11 5,-9 5,13 5,-13 5,-45 5,5 5,7 5,22 5,-26 5,12 5,-15 5,26 5,-24 5,-26 5,-34 5,32 5,-34 5,25 5,17 5,-24 5,-11 5,-41 5,44 5,-11 5,-16 5,31 5,30 5,23 5,0 5,-43 5,40 5,11 5,22 5,-19 5,17 5,2 5,27 5,-5 5,11 5,-16 5,-20 5,27 5,-34 5,12 5,35 5,-30 5,14 5,-22 5,-50 5,8 5,62 5,12 5,-12 5,-2 5,29 5,-3 5,28 5,8 5,29 5,-1 5,27 5,-13 5,13 5,17 5,30 5,-39 5,34 5,-8 5,-14 5,44 5,8 5,13 5,-33 5,44 5,-10 5,-41 5,8 5,65 5,-39 5,7 5,-1 5,-18 5,-30 5,15 5,12 5,-34 5,-30 5,34 5,9 5,-40 5,-5 5,20 5,-7 5,-16 5,1 5,-18 5,43 5,-9 5,38 5,43 5,-5 5,-35 5,-40 5,54 5,5 5,-8 5,23 5,19 5,-17 5,38 5,4 5,17 5,12 5,23 5,27 5,-22 5,7 5,-16 5,34 5,-3 5,12 5,-34 5,0 5,-24 5,6 5,6 5,16 5,63 5,-42 5,34 5,-32 5,5 5,4 5,14 5,-9 5,-13 5,-22 5,9 5,1" stroke="#00ffff" stroke-width="30.0"/>
<path d="M2320,18232 l5,30 5,9 5,34 5,6 5,-20 5,14 5,-43 5,41 5,-37 5,29 5,30 5,17 5,26 5,-23 5,-22 5,-12 5,-20 5,44 5,-38 5,-26 5,13 5,-16 5,-38 5,25 5,-37 5,-6 5,19 5,38 5,-9 5,-31 5,-4 5,-4 5,-26 5,9 5,18 5,-29 5,37 5,53 5,-70 5,15 5,10 5,40 5,-2 5,-24 5,-19 5,-12 5,10 5,-34 5,35 5,-16 5,-33 5,36 5,9 5,-22 5,27 5,16 5,-50 5,-41 5,32 5,10 5,4 5,-6 5,-19 5,-33 5,37 5,-46 5,-17 5,72 5,-34 5,-41 5,21 5,-4 5,-4 5,26 5,10 5,-32 5,-32 5,6 5,16 5,26 5,-5 5,15 5,-13 5,15 5,32 5,-13 5,-34 5,4 5,34 5,-24 5,9 5,5 5,-16 5,19 5,-5 5,17 5,32 5,10 5,-70 5,-6 5,27 5,25 5,-8 5,6 5,33 5,-29 5,-16 5,44 5,-57 5,-24 5,30 5,-20 5,-37 5,75 5,-18 5,-3 5,18 5,-10 5,23 5,-3 5,-32 5,-26 5,62 5,-66 5,3 5,30 5,-9 5,-7 5,11 5,18 5,-38 5,20 5,63 5,-87 5,33 5,-8 5,-33 5,11 5,20 5,9 5,-1 5,-4 5,8 5,-2 5,36 5,-32 5,-45 5,58 5,-41 5,24 5,-1 5,18 5,1 5,-17 5,-16 5,-17 5,-46 5,16 5,20 5,-9 5,-35 5,23 5,26 5,-18 5,43 5,-81 5,43 5,38 5,-28 5,-5 5,29 5,-42 5,1 5,75 5,-15 5,-54 5,36 5,-44 5,-6 5,8 5,45 5,-10 5,15 5,26 5,5 5,7 5,3 5,-8 5,-26 5,0 5,-1 5,-14 5,-11 5,27 5,-4 5,-5 5,2 5,39 5,-31 5,-19 5,2 5,22 5,-43 5,-30 5,18 5,39 5,-16 5,5 5,9 5,-33 5,51 5,-16 5,-5 5,23 5,8 5,-34 5,-41 5,-7 5,22 5,-7 5,-15 5,14 5,-9 5,23 5,-58 5,32 5,19 5,-62 5,26 5,45 5,8 5,8 5,-21 5,45 5,31 5,13 5,49 5,-11 5,-13 5,-11 5,-4 5,-32 5,-15 5,16 5,-9 5,26 5,-20 5,5 5,-56 5,-21 5,51 5,3 5,22 5,-25 5,-57 5,56 5,-44 5,4 5,-37 5,24 5,-21 5,24 5,10 5,2 5,-64 5,40 5,-17 5,8 5,41 5,-75 5,-28 5,-5 5,24 5,2 5,12 5,9 5,0 5,-3 5,22 5,-16 5,-38 5,-20 5,0 5,-37 5,7 5,22 5,-1 5,-1 5,24 5,22 5,-61 5,25 5,-9 5,10 5,0 5,-8 5,-48 5,37 5,18 5,29 5,-13 5,-15 5,-29 5,-9 5,3 5,17 5,12 5,-7 5,-19 5,-9 5,2 5,25 5,-11 5,2 5,-43 5,-8 5,-28 5,42 5,23 5,11 5,-35 5,21 5,-63 5,25 5,36 5,-30 5,-27 5,2 5,-8 5,-17 5,7 5,24 5,-12 5,-15 5,-24 5,65 5,-14 5,-27 5,-22 5,68 5,-85 5,52 5,-13 5,28 5,-80 5,59 5,-8 5,-5 5,-10 5,-16 5,-26 5,6 5,19 5,-31 5,17 5,-30 5,8 5,-61 5,21 5,44 5,-85 5,9 5,1 5,0 5,12 5,2 5,-13 5,-5 5,24 5,-36 5,4 5,61 5,-3 5,18 5,19 5,-31 5,4 5,11 5,-16 5,59 5,15 5,-48 5,-36 5,6 5,24 5,2 5,-9 5,-13 5,48 5,-35 5,-39 5,50 5,-40 5,58 5,-19 5,9 5,33 5,-37 5,1 5,-44 5,54 5,17 5,-41 5,37 5,-50 5,20 5,-35 5,32 5,-13 5,-37 5,31 5,-34 5,30 5,-26 5,19 5,8 5,-13 5,0 5,36 5,-28 5,26 5,12 5,-25 5,24 5,14 5,1 5,-25 5,16 5,4 5,-18 5,38 5,-7 5,-53 5,-17 5,38 5,27 5,-18 5,29 5,-22 5,18 5,-9 5,-23 5,23 5,27 5,-30 5,34 5,-10 5,-21 5,-50 5,12 5,19 5,15 5,17 5,13 5,-10 5,-9 5,30 5,-29 5,5 5,44 5,-12 5,-20 5,-8 5,32 5,-12 5,-2 5,7 5,4 5,-8 5,44 5,-31 5,31 5,-11 5,2 5,14 5,-3 5,-39 5,-6 5,-10 5,15 5,16 5,22 5,-16 5,-20 5,-1 5,6 5,-14 5,-8 5,23 5,5 5,-26 5,9 5,-6 5,-11 5,28 5,7 5,-9 5,-24 5,13 5,-6 5,38 5,-34 5,19 5,-3 5,-20 5,-2 5,8 5,15 5,0 5,8 5,-9 5,29 5,-58 5,47 5,-29 5,65 5,4 5,-10 5,27 5,19 5,9 5,-5 5,4 5,-16 5,24 5,6 5,-19 5,3 5,-25 5,-40 5,-35 5,14 5,-23 5,-25 5,18 5,-6 5,-43 5,31 5,-58 5,51 5,-4 5,-4 5,-36 5,-8 5,29 5,-26 5,11 5,-5 5,2 5,-18 5,19 5,0 5,-41 5,70 5,-29 5,11 5,2 5,-35 5,-31 5,46 5,-30 5,0 5,-5 5,-9 5,12 5,-7 5,20 5,-21 5,14 5,22 5,-63 5,3 5,38 5,5 5,-5 5,-30 5,-18 5,41 5,52 5,-19 5,-21 5,1 5,-20 5,13 5,45 5,-23 5,19 5,-17 5,-36 5,11 5,0 5,-19 5,-21 5,2 5,27 5,-15 5,16 5,-49 5,20 5,-6 5,-14 5,-27 5,2 5,7 5,5 5,20 5,1 5,-26 5,18 5,-9 5,-11 5,-47 5,55 5,-41 5,43 5,-3 5,-11 5,-54 5,46 5,-50 5,46 5,9 5,-4 5,-9 5,20 5,-7 5,11 5,-24 5,-4 5,-1 5,29 5,40 5,-33 5,-55 5,-6 5,19 5,1 5,-22 5,5 5,21 5,-65 5,13 5,-8 5,0 5,-49 5,-25 5,13 5,15 5,-9 5,0 5,9 5,22 5,-27 5,5 5,-1 5,-37 5,32 5,-9 5,6 5,35 5,-12 5,23 5,-39 5,38 5,-35 5,37 5,9 5,-5 5,-10 5,-1 5,-9 5,-2 5,30 5,7 5,-9 5,14 5,-35 5,-7 5,-34 5,28 5,2 5,-39 5,43 5,6 5,-39 5,14 5,25 5,-46 5,36 5,14 5,-17 5,11 5,-59 5,12 5,0 5,2 5,-10 5,36 5,0 5,-24 5,29 5,-9 5,28 5,18 5,-57 5,2 5,44 5,-36 5,-21 5,43 5,30 5,-15 5,-18 5,5 5,52 5,11 5,15 5,-32 5,-30 5,10 5,-6 5,-38 5,33 5,21 5,-19 5,-11 5,56 5,-30 5,-14 5,31 5,-23 5,6 5,-14 5,15 5,23 5,-32 5,3 5,-14 5,-36 5,27 5,30 5,39 5,-71 5,18 5,18 5,6 5,22 5,0 5,-36 5,6 5,0 5,21 5,-34 5,8 5,-21 5,3 5,29 5,-22 5,40 5,-9 5,52 5,-24 5,15 5,-24 5,12 5,-41 5,-3 5,25 5,45 5,-19 5,-14 5,-8 5,19 5,6 5,-26 5,-15 5,-13 5,24 5,-6 5,-2 5,-5 5,26 5,10 5,-4 5,-29 5,8 5,44 5,-5 5,11 5,-74 5,42 5,-9 5,7 5,-38 5,-20 5,24 5,-42 5,64 5,-29 5,0 5,-21 5,77 5,-4 5,33 5,15 5,30 5,-47 5,42 5,6 5,3 5,-23 5,3 5,-34 5,-24 5,-5 5,6 5,-16 5,-15 5,-48 5,4 5,13 5,1 5,-36 5,64 5,-48 5,22 5,-47 5,37 5,-34 5,9 5,21 5,6 5,-59 5,36 5,22 5,-34 5,-14 5,7 5,-3 5,-30 5,63 5,-23 5,-11 5,-6 5,6 5,-55 5,62 5,-23 5,-47 5,43 5,4 5,-40 5,43 5,-33 5,-14 5,16 5,23 5,10 5,20 5,-33 5,-42 5,61 5,-35 5,50 5,1 5,-9 5,-6 5,6 5,11 5,-14 5,-29 5,-16 5,14 5,-8 5,16 5,-5 5,-32 5,-4 5,-17 5,-12 5,41 5,-19 5,38 5,-31 5,-25 5,-4 5,36 5,-45 5,32 5,-30 5,1 5,19 5,8 5,-44 5,-13 5,-17 5,1 5,48 5,20 5,-18 5,-43 5,41 5,-37 5,4 5,22 5,-3 5,-4 5,17 5,-19 5,14 5,1 5,12 5,-16 5,13 5,-11 5,-29 5,47 5,-14 5,-20 5,-37 5,11 5,-28 5,29 5,-24 5,2 5,-8 5,-44 5,57 5,-44 5,-33 5,45 5,-17 5,42 5,-26 5,-4 5,-22 5,-71 5,33 5,-17 5,-13 5,66 5,4 5,-2 5,30 5,16 5,-11 5,-28 5,8 5,-26 5,29 5,32 5,-26 5,-19 5,28 5,6 5,7 5,-12 5,-17 5,-4 5,4 5,-25 5,22 5,-11 5,8 5,-15 5,0 5,4 5,29 5,22 5,-45 5,-3 5,17 5,25 5,-43 5,8 5,-19 5,14 5,43 5,3 5,-3 5,-46 5,41 5,-58 5,33 5,-23 5,46 5,5 5,-23 5,-14 5,-5 5,24 5,-7 5,-1 5,38 5,-2 5,32 5,6 5,-38 5,-15 5,-3 5,-11 5,20 5,-11 5,-31 5,-7 5,9 5,49 5,10 5,20 5,-19 5,8 5,-5 5,-69 5,15 5,22 5,-43 5,52 5,-48 5,-2 5,14 5,-39 5,29 5,40 5,-4 5,-18 5,-52 5,89 5,-4 5,-31 5,6 5,-10 5,-6 5,90 5,-32 5,25 5,20 5,-12 5,7 5,-14 5,-10 5,-9 5,-5 5,4 5,-3 5,-18 5,-11 5,32 5,-27 5,76 5,-29 5,0 5,28 5,24 5,-56 5,21 5,30 5,-19 5,-61 5,2 5,24 5,-4 5,-12 5,-23 5,-3 5,37 5,-15 5,-4 5,3 5,-30 5,-26 5,23 5,41 5,9 5,-54 5,10 5,4 5,1 5,7 5,-5 5,33 5,-65 5,35 5,9 5,17 5,-23 5,-11 5,11 5,61 5,-15 5,5 5,14 5,-45 5,51 5,8 5,-19 5,62 5,9 5,-46 5,2 5,30 5,-27 5,-56 5,8 5,7 5,11 5,-18 5,12 5,-61 5,-30 5,9 5,37 5,-33 5,-8 5,27 5,15 5,-42 5,24 5,-67 5,18 5,47 5,-77 5,-25 5,50 5,-18 5,-20 5,32 5,-8 5,12 5,-26 5,2 5,-12 5,8 5,-14 5,-35 5,36 5,-35 5,-6 5,11 5,3 5,17 5,-12 5,20 5,0 5,30 5,-51 5,-8 5,3 5,-8 5,5 5,23 5,53 5,-35 5,39 5,-35 5,8 5,-18 5,28 5,36 5,-33 5,11 5,-14 5,-10 5,-12 5,13 5,-60 5,-31 5,49 5,-18 5,-44 5,-7 5,36 5,29 5,-36 5,-12 5,12 5,-38 5,27 5,14 5,18 5,-19 5,35 5,-21 5,-3 5,24 5,-22 5,-53 5,38 5,-21 5,14 5,14 5,-11 5,6 5,-37 5,85 5,-28 5,7 5,3 5,-23 5,-4 5,55 5,-28 5,-36 5,2 5,26 5,2 5,-26 5,-56 5,-4 5,-27 5,19 5,8 5,-7 5,-11 5,-32 5,-35 5,9 5,8 5,12 5,-20 5,56 5,-51 5,1 5,-19 5,-26 5,41 5,-23 5,26 5,5 5,-24 5,-7 5,-6 5,52 5,-42 5,70 5,13 5,-34 5,15 5,-11 5,-30 5,28 5,6 5,-17 5,39 5,-69 5,68 5,12 5,-65 5,29 5,22 5,-9 5,-75 5,16 5,-2 5,9 5,16 5,-17 5,27 5,-40 5,9 5,-38 5,-5 5,35 5,39 5,-40 5,-32 5,39 5,-22 5,-6 5,-1 5,21 5,7 5,-23 5,12 5,-21 5,-19 5,20 5,34 5,-45 5,6 5,4 5,33 5,62 5,-15 5,-16 5,2 5,28 5,-5 5,-5 5,-12 5,0 5,-5 5,10 5,8 5,-4 5,37 5,-29 5,-43 5,32 5,-3 5,40 5,-8 5,-22 5,-25 5,15 5,10 5,-20 5,-4 5,-10 5,17 5,48 5,-35 5,-17 5,3 5,0 5,-8 5,2 5,37 5,-22 5,5 5,18 5,7 5,-36 5,-21 5,68 5,-2 5,-11 5,-7 5,-12 5,-6 5,40 5,-41 5,50 5,40 5,-9 5,-40 5,15 5,3 5,10 5,-5 5,-24 5,-25 5,21 5,9 5,-28 5,1 5,35 5,-10 5,2 5,-15 5,23 5,11 5,-55 5,64 5,-41 5,-10 5,-10 5,-13 5,4 5,17 5,-32 5,15 5,33 5,-41 5,11 5,3 5,16 5,3 5,-8 5,8 5,-12 5,-52 5,60 5,16 5,7 5,-34 5,22 5,15 5,35 5,-19 5,33 5,59 5,-44 5,30 5,-52 5,-46 5,23 5,-33 5,44 5,-19 5,-10 5,0 5,-42 5,22 5,4 5,-19 5,-25 5,-22 5,10 5,9 5,-13 5,-42 5,34 5,26 5,-79 5,40 5,-10 5,-5 5,7 5,-29 5,31 5,-15 5,-2 5,-10 5,6 5,0 5,-21 5,2 5,39 5,-86 5,13 5,13 5,-35 5,-8 5,-13 5,48 5,-16 5,-18 5,-16 5,33 5,9 5,20 5,-16 5,10 5,8 5,-31 5,3 5,13 5,14 5,0 5,-25 5,7 5,0 5,8 5,46 5,-50 5,-6 5,31 5,-47 5,51 5,16 5,-39 5,-13 5,-8 5,-26 5,23 5,-37 5,4 5,-6 5,29 5,10 5,19 5,-52 5,-35 5,47 5,-46 5,5 5,-21 5,16 5,0 5,46 5,-32 5,-4 5,1 5,8 5,-15 5,35 5,-61 5,76 5,-33 5,4 5,14 5,-48 5,52 5,-6 5,-24 5,-19 5,23 5,-32 5,-20 5,-3 5,31 5,-34 5,29 5,-20 5,12 5,6 5,-16 5,-22 5,-21 5,42 5,0 5,-11 5,6 5,-5 5,-8 5,-68 5,2 5,28 5,-36 5,-21 5,8 5,9 5,52 5,15 5,-37 5,-45 5,36 5,18 5,3 5,-14 5,7 5,-20 5,30 5,-13 5,45 5,-15 5,6 5,0 5,0 5,-24 5,-11 5,47 5,-49 5,10 5,49 5,-37 5,4 5,-5 5,12 5,-18 5,15 5,-3 5,-12 5,11 5,-15 5,-18 5,16 5,32 5,-56 5,51 5,-15 5,-47 5,15 5,-4 5,15 5,-33 5,-20 5,30 5,-19 5,14 5,-19 5,15 5,1 5,-9 5,-8 5,3 5,0 5,54 5,-30 5,30 5,45 5,-48 5,-1 5,-34 5,72 5,-25 5,5 5,8 5,-54 5,13 5,36 5,17 5,-39 5,43 5,-25 5,-48 5,-2 5,27 5,21 5,-15 5,-5 5,-8 5,8 5,-9 5,9 5,-15 5,-5 5,41 5,-43 5,25 5,-17 5,-4 5,-9 5,14 5,-5 5,-7 5,7 5,40 5,-35 5,13 5,39 5,8 5,-37 5,47 5,-62 5,42 5,26 5,-2 5,-17 5,-24 5,82 5,-29 5,-6 5,28 5,-12 5,-34 5,50 5,-13 5,-23 5,31 5,23 5,-19 5,1 5,-47 5,16 5,16 5,-42 5,-14 5,-5 5,-19 5,45 5,-5 5,-30 5,5 5,43 5,-14 5,-37 5,29 5,-58 5,17 5,20 5,-9 5,1 5,29 5,-39 5,1 5,-5 5,74 5,-27 5,32 5,-26 5,-20 5,27 5,17 5,46 5,4 5,-36 5,16 5,7 5,27 5,-30 5,11 5,11 5,-37 5,32 5,-56 5,-46 5,-20 5,44 5,25 5,-48 5,45 5,-61 5,-6 5,-12 5,4 5,-14 5,-8 5,-19 5,32 5,-7 5,32 5,6 5,-50 5,37 5,-30 5,-32 5,-17 5,13 5,2 5,-29 5,38 5,26 5,-23 5,-42 5,26 5,-6 5,-27 5,-19 5,26 5,6 5,33 5,-1 5,-16 5,-25 5,-41 5,-9 5,7 5,-35 5,17 5,19 5,22 5,3 5,-37 5,41 5,-6 5,-31 5,20 5,7 5,-17 5,4 5,26 5,4 5,29 5,-22 5,26 5,-9 5,16 5,-6 5,-19 5,-3 5,-17 5,-6 5,3 5,35 5,-79 5,2 5,11 5,-6 5,15 5,-70 5,20 5,33 5,-42 5,10 5,39 5,2 5,-44 5,50 5,-15 5,17 5,-5 5,-57 5,52 5,-34 5,18 5,-4 5,50 5,-46 5,-18 5,52 5,15 5,-14 5,4 5,13 5,18 5,11 5,-49 5,-27 5,13 5,-21 5,-39 5,-11 5,-11 5,-20 5,19 5,-23 5,38 5,2 5,-1 5,-57 5,-23 5,-38 5,57 5,-9 5,-37 5,-12 5,22 5,15 5,12 5,-31 5,-19 5,31 5,35 5,30 5,-38 5,10 5,-13 5,7 5,49 5,-67 5,35 5,10 5,17 5,-47 5,-5 5,28 5,-21 5,6 5,-42 5,35 5,-13 5,65 5,-15 5,-3 5,-61 5,13 5,17 5,16 5,0 5,-4 5,1 5,-8 5,-49 5,33 5,-2 5,-23 5,-18 5,36 5,-23 5,10 5,30 5,-102 5,22 5,-22 5,49 5,0 5,-17 5,11 5,-10 5,50 5,-6 5,-15 5,2 5,-16 5,15 5,48 5,21 5,-31 5,-11 5,8 5,13 5,-34 5,3 5,-5 5,29 5,-21 5,20 5,-23 5,11 5,-13 5,6 5,1 5,-10 5,10 5,5 5,16 5,-25 5,25 5,-42 5,-6 5,-13 5,48 5,19 5,-41 5,21 5,-55 5,42 5,3 5,-5 5,52 5,-2 5,-19 5,23 5,-26 5,3 5,11 5,26 5,-41 5,32 5,21 5,-44 5,40 5,-15 5,41 5,-16 5,15 5,-14 5,-48 5,31 5,11 5,12 5,-41 5,11 5,18 5,-60 5,3 5,34 5,5 5,-37 5,2 5,50 5,-44 5,40 5,-10 5,-8 5,6 5,-51 5,-44 5,29 5,-31 5,28 5,41 5,9 5,-73 5,4 5,-8 5,21 5,2 5,6 5,-47 5,38 5,-21 5,-11 5,-2 5,27 5,15 5,17 5,16 5,0 5,-10 5,36 5,23 5,12 5,-11 5,29 5,-3 5,-13 5,-40 5,-11 5,39 5,-17 5,21 5,-26 5,-15 5,17 5,-29 5,-13 5,-23 5,-9 5,26 5,-25 5,-14 5,13 5,3 5,-13 5,-21 5,17 5,5 5,2 5,-9 5,13 5,-56 5,-29 5,50 5,-10 5,20 5,-43 5,-30 5,1 5,47 5,-10 5,-21 5,11 5,-8 5,-24 5,2 5,11 5,18 5,-32 5,5 5,-26 5,-42 5,65 5,-44 5,32 5,-16 5,-39 5,53 5,-44 5,23 5,26 5,-17 5,20 5,-3 5,45 5,-29 5,51 5,-59 5,67 5,-11 5,-21 5,12 5,-26 5,-29 5,12 5,-18 5,24 5,-28 5,-21 5,9 5,0 5,-17 5,17 5,-36 5,45 5,-47 5,52 5,24 5,-46 5,19 5,-18 5,-11 5,-18 5,0 5,1 5,38 5,-21 5,-13 5,79 5,-36 5,17 5,38 5,-4 5,14 5,-41 5,30 5,14 5,-22 5,-11 5,-42 5,13 5,-25 5,33 5,-39 5,1 5,-5 5,-20 5,-35 5,14 5,-22 5,-4 5,-4 5,4 5,-15 5,10 5,26 5,-40 5,7 5,-73 5,22 5,56 5,-80 5,38 5,13 5,22 5,-45 5,26 5,24 5,-27 5,9 5,-2 5,-10 5,43 5,-41 5,-5 5,30 5,11 5,-30 5,28 5,6 5,-11 5,4 5,-39 5,12 5,-41 5,38 5,42 5,-25 5,-2 5,5 5,-31 5,45 5,-3 5,-19 5,-19 5,18 5,-8 5,4 5,-21 5,1 5,12 5,-17 5,-10 5,16 5,-10 5,-4 5,-5 5,20 5,-23 5,16 5,2 5,-16 5,44 5,-37 5,-16 5,22 5,-26 5,-3 5,24 5,-37 5,-25 5,12 5,-8 5,34 5,4 5,-8 5,-16 5,-28 5,28 5,7 5,18 5,-2 5,16 5,27 5,-50 5,-5 5,22 5,67 5,-14 5,-4 5,-67 5,6 5,25 5,-46 5,23 5,38 5,-8 5,-17 5,-11 5,-8 5,6 5,18 5,-63 5,27 5,41 5,10 5,18 5,2 5,-78 5,41 5,-13 5,-8 5,-25 5,12 5,1 5,31 5,27 5,-48 5,-8 5,17 5,5 5,11 5,26 5,28 5,-9 5,9 5,27 5,-13 5,7 5,22 5,0 5,-73 5,22 5,7 5,-15 5,-2 5,-4 5,5 5,6 5,-10 5,19 5,-13 5,-35 5,5 5,-38 5,27 5,4 5,-6 5,30 5,4 5,-22 5,-1 5,16 5,-3 5,-9 5,-4 5,-7 5,-8 5,19 5,6 5,-45 5,17 5,-13 5,27 5,57 5,-31 5,44 5,26 5,-11 5,-13 5,24 5,-42 5,26 5,-22 5,61 5,-6 5,-9 5,-70 5,-7 5,-26 5,-1 5,-19 5,52 5,-23 5,5 5,-24 5,-29 5,-4 5,4 5,4 5,-19 5,55 5,-32 5,-27 5,-19 5,-22 5,12 5,23 5,-8 5,1 5,-5 5,16 5,-83 5,53 5,-55 5,17 5,54 5,0 5,-78 5,1 5,29 5,-11 5,3 5,6 5,-16 5,32 5,-20 5,-4 5,-17 5,23 5,-17 5,-4 5,-12 5,31 5,-52 5,31 5,-33 5,45 5,6 5,5 5,13 5,-30 5,58 5,16 5,-61 5,-1 5,73 5,-34 5,-55 5,18 5,20 5,-3 5,-24 5,-15 5,23 5,4 5,-32 5,12 5,-14 5,37 5,-74 5,-4 5,-11 5,71 5,-12 5,39 5,-52 5,15 5,-18 5,20 5,-8 5,-24 5,39 5,11 5,-57 5,3 5,21 5,-1 5,54 5,-46 5,-34 5,54 5,-13 5,2 5,12 5,32 5,-31 5,-2 5,19 5,3 5,-48 5,-13 5,11 5,-8 5,15 5,-29 5,-34 5,17 5,-47 5,-4 5,-18 5,16 5,1 5,-44 5,2 5,57 5,-23 5,-35 5,37 5,-10 5,-20 5,-47 5,62 5,-56 5,50 5,-27 5,50 5,-39 5,-13 5,-3 5,19 5,-1 5,-9 5,18 5,-13 5,-20 5,17 5,27 5,-32 5,20 5,5 5,19 5,-8 5,9 5,11 5,-8 5,-25 5,48 5,-42 5,-14 5,4 5,8 5,4 5,-12 5,1 5,-16 5,-9 5,-40 5,49 5,-18 5,-6 5,1 5,10 5,-22 5,7 5,-36 5,54 5,-2 5,-35 5,23 5,-37 5,-2 5,11 5,-8 5,45 5,4 5,-29 5,17 5,18 5,2 5,6 5,-39 5,-17 5,66 5,-2 5,-3 5,25 5,-40 5,3 5,30 5,-21 5,1 5,-3 5,-8 5,-32 5,27 5,24 5,14 5,-24 5,-40 5,38 5,-4 5,15 5,-54 5,12 5,-10 5,-44 5,24 5,39 5,7 5,-23 5,-16 5,37 5,-8 5,-19 5,14 5,11 5,15 5,26 5,20 5,-33 5,-19 5,18 5,14 5,34 5,-12 5,22 5,-23 5,-15 5,-38 5,9 5,27 5,-1 5,24 5,39 5,-16 5,-56 5,20 5,74 5,-46 5,-6 5,-45 5,38 5,-28 5,-13 5,41 5,8 5,-21 5,23 5,-35 5,-17 5,32 5,-47 5,42 5,-67 5,12 5,-8 5,-13 5,0 5,14 5,4 5,21 5,-1 5,15 5,-15 5,-49 5,0 5,-9 5,8 5,66 5,-30 5,50 5,-20 5,-39 5,-1 5,8 5,37 5,72 5,16 5,-51 5,32 5,-6 5,-50 5,33 5,-24 5,-18 5,-2 5,-24 5,29 5,-52 5,-29 5,37 5,-19 5,-36 5,59 5,-26 5,-31 5,3 5,-6 5,-19 5,-5 5,34 5,-6 5,-6 5,-23 5,-20 5,17 5,-33 5,33 5,-27 5,-4 5,-12 5,-13 5,-16 5,19 5,9 5,-31 5,-14 5,51 5,-15 5,4 5,31 5,-18 5,-53 5,13 5,7 5,-9 5,32 5,-54 5,19 5,-43 5,10 5,72 5,-31 5,-2 5,-16 5,25 5,-1 5,26 5,-31 5,-6 5,29 5,24 5,-12 5,-9 5,-1 5,38 5,-22 5,0 5,26 5,-41 5,1 5,-18 5,-18 5,-5 5,32 5,-20 5,-22 5,28 5,-25 5,-40 5,26 5,-3 5,22 5,35 5,-30 5,10 5,-4 5,-2 5,-4 5,-7 5,44 5,23 5,-34 5,-30 5,27 5,-44 5,56 5,27 5,26 5,-21 5,23 5,-19 5,-5 5,-38 5,-14 5,-51 5,19 5,3 5,-33 5,-10 5,34 5,-1 5,-64 5,-7 5,-31 5,26 5,-10 5,17 5,-26 5,1 5,31 5,9 5,13 5,-65 5,26 5,-16 5,16 5,-58 5,-2 5,7 5,30 5,-29 5,41 5,-12 5,3 5,-15 5,-2 5,-25 5,2 5,46 5,17 5,-19 5,36 5,8 5,-18 5,-31 5,-5 5,-14 5,32 5,11 5,15 5,-36 5,-37 5,-4 5,53 5,-26 5,34 5,0 5,-17 5,-17 5,11 5,-32 5,42 5,-32 5,3 5,-22 5,1 5,2 5,21 5,-23 5,-4 5,-17 5,13 5,18 5,-31 5,60 5,-12 5,-51 5,13 5,18 5,-25 5,65 5,-27 5,-5 5,3 5,-15 5,10 5,-17 5,36 5,7 5,-1 5,42 5,-46 5,7 5,-39 5,-6 5,37 5,-4 5,0 5,34 5,-55 5,-2 5,14 5,13 5,-48 5,9 5,30 5,-17 5,-26 5,-12 5,11 5,29 5,-23 5,22 5,-18 5,22 5,-29 5,54 5,-6 5,-60 5,-6 5,-17 5,29 5,15 5,21 5,3 5,1 5,20 5,-11 5,28 5,-36 5,11 5,6 5,-21 5,30 5,9 5,-9 5,14 5,11 5,-60 5,25 5,-8 5,67 5,-38 5,32 5,11 5,13 5,-30 5,10 5,3 5,25 5,-14 5,-25 5,-22 5,17 5,53 5,-14 5,-24 5,1 5,20 5,-2 5,-33 5,20 5,-2 5,-41 5,25 5,-26 5,-2 5,-4 5,33 5,12 5,-35 5,32 5,-46 5,22 5,-3 5,36 5,-10 5,-22 5,-28 5,-7 5,35 5,-39 5,48 5,-2 5,1 5,10 5,-21 5,48 5,-37 5,12 5,-6 5,21 5,-6 5,-5 5,-20 5,-1 5,30 5,-11 5,-6 5,-8 5,-46 5,-13 5,23 5,-20 5,14 5,-14 5,-18 5,16 5,-31 5,23 5,10 5,-24 5,-61 5,-9 5,25 5,20 5,-78 5,54 5,-5 5,13 5,-35 5,-34 5,36" stroke="#0000ff" stroke-width="30.0"/>
</g>
<g stroke="#000" fill="none">
<line x1="229.0" y1="1410.0" x2="229.0" y2="2416.5" stroke-width="4.4"/>
<line x1="1663.5" y1="1410.0" x2="1663.5" y2="2416.5" stroke-width="4.4"/>
<line x1="226.7" y1="1412.5" x2="1665.8" y2="1412.5" stroke-width="4.6"/>
<line x1="226.7" y1="2414.0" x2="1665.8" y2="2414.0" stroke-width="4.6"/>
</g>
<g font-family="Liberation Sans, Arial, sans-serif" font-size="48" fill="#000">
<text x="238.0" y="1377.8" id="one_B_leg" clip-path="url(#c_one_B_leg)">traj 1</text>
<text x="612.5" y="1377.8">traj 2</text>
<text x="985.5" y="1377.8">traj 3</text>
<text x="1358.0" y="1377.8">traj 4</text>
</g>
<line x1="375.0" y1="1361.2" x2="515.0" y2="1361.2" stroke="#ff0000" stroke-width="3.4"/>
<line x1="748.0" y1="1361.2" x2="888.0" y2="1361.2" stroke="#00ff00" stroke-width="3.4"/>
<line x1="1121.0" y1="1361.2" x2="1261.0" y2="1361.2" stroke="#00ffff" stroke-width="3.4"/>
<line x1="1496.0" y1="1361.2" x2="1635.0" y2="1361.2" stroke="#0000ff" stroke-width="3.4"/>
<g font-family="Liberation Sans, Arial, sans-serif" font-size="56.5" fill="#000">
<text x="199.8" y="1478.0" text-anchor="end">40</text>
<text x="199.8" y="1569.0" text-anchor="end">30</text>
<text x="199.8" y="1660.0" text-anchor="end">20</text>
<text x="199.8" y="1751.0" text-anchor="end" id="one_B_y10" clip-path="url(#c_one_B_y10)">10</text>
<text x="199.8" y="1842.0" text-anchor="end">0</text>
<text x="199.8" y="1933.0" text-anchor="end" id="one_B_ym10" clip-path="url(#c_one_B_ym10)">-10</text>
<text x="199.8" y="2024.0" text-anchor="end">-20</text>
<text x="199.8" y="2115.0" text-anchor="end">-30</text>
<text x="199.8" y="2206.0" text-anchor="end">-40</text>
<text x="199.8" y="2297.0" text-anchor="end">-50</text>
<text x="199.8" y="2388.0" text-anchor="end">-60</text>
<text x="236.5" y="2481.0" text-anchor="middle" font-size="55.5">0</text>
<text x="523.4" y="2481.0" text-anchor="middle" font-size="55.5">0.02</text>
<text x="810.3" y="2481.0" text-anchor="middle" font-size="55.5">0.04</text>
<text x="1097.2" y="2481.0" text-anchor="middle" font-size="55.5">0.06</text>
<text x="1384.1" y="2481.0" text-anchor="middle" font-size="55.5">0.08</text>
<text x="1671.0" y="2481.0" text-anchor="middle" font-size="55.5" id="one_B_x01" clip-path="url(#c_one_B_x01)">0.1</text>
</g>
<text x="877.0" y="2556.5" font-family="Liberation Sans, Arial, sans-serif" font-size="62" fill="#000">t [<tspan dx="-3.0" font-family="Liberation Serif, serif" font-size="73">&#956;</tspan><tspan dx="1.0">s]</tspan></text>
<text transform="translate(84.5 1956.0) rotate(-90)" font-family="Liberation Sans, Arial, sans-serif" font-size="64.0" fill="#000">[deg]</text>
<text transform="translate(84.5 1992.5) rotate(-90) scale(1.080 1)" text-anchor="middle" font-family="Liberation Sans, sans-serif" font-style="italic" font-size="63.0" fill="#000">&#977;</text>
<text transform="translate(1801.0 2601.9) scale(0.905 1)" font-family="Liberation Serif, Times New Roman, serif" font-size="85.5" fill="#000">B</text>
<defs><clipPath id="c_one_A_leg" clipPathUnits="userSpaceOnUse"><path clip-rule="evenodd" d="M0,0H1880V2626H0ZM308.67,58.86H318.09V64.95H308.67ZM322.33,58.86H331.37V64.95H322.33Z"/></clipPath><clipPath id="c_one_A_y10" clipPathUnits="userSpaceOnUse"><path clip-rule="evenodd" d="M0,0H1880V2626H0ZM127.64,434.88H138.55V441.60H127.64ZM143.54,434.88H154.00V441.60H143.54Z"/></clipPath><clipPath id="c_one_A_ym10" clipPathUnits="userSpaceOnUse"><path clip-rule="evenodd" d="M0,0H1880V2626H0ZM127.64,618.48H138.55V625.20H127.64ZM143.54,618.48H154.00V625.20H143.54Z"/></clipPath><clipPath id="c_one_A_x01" clipPathUnits="userSpaceOnUse"><path clip-rule="evenodd" d="M0,0H1880V2626H0ZM1683.73,1171.55H1694.46V1178.20H1683.73ZM1699.36,1171.55H1709.66V1178.20H1699.36Z"/></clipPath><clipPath id="c_one_B_leg" clipPathUnits="userSpaceOnUse"><path clip-rule="evenodd" d="M0,0H1880V2626H0ZM320.67,1372.91H330.09V1379.00H320.67ZM334.33,1372.91H343.37V1379.00H334.33Z"/></clipPath><clipPath id="c_one_B_y10" clipPathUnits="userSpaceOnUse"><path clip-rule="evenodd" d="M0,0H1880V2626H0ZM140.24,1745.48H151.15V1752.20H140.24ZM156.14,1745.48H166.60V1752.20H156.14Z"/></clipPath><clipPath id="c_one_B_ym10" clipPathUnits="userSpaceOnUse"><path clip-rule="evenodd" d="M0,0H1880V2626H0ZM140.24,1927.48H151.15V1934.20H140.24ZM156.14,1927.48H166.60V1934.20H156.14Z"/></clipPath><clipPath id="c_one_B_x01" clipPathUnits="userSpaceOnUse"><path clip-rule="evenodd" d="M0,0H1880V2626H0ZM1681.93,2475.55H1692.66V2482.20H1681.93ZM1697.56,2475.55H1707.86V2482.20H1697.56Z"/></clipPath></defs>
</svg>
</body></html>
